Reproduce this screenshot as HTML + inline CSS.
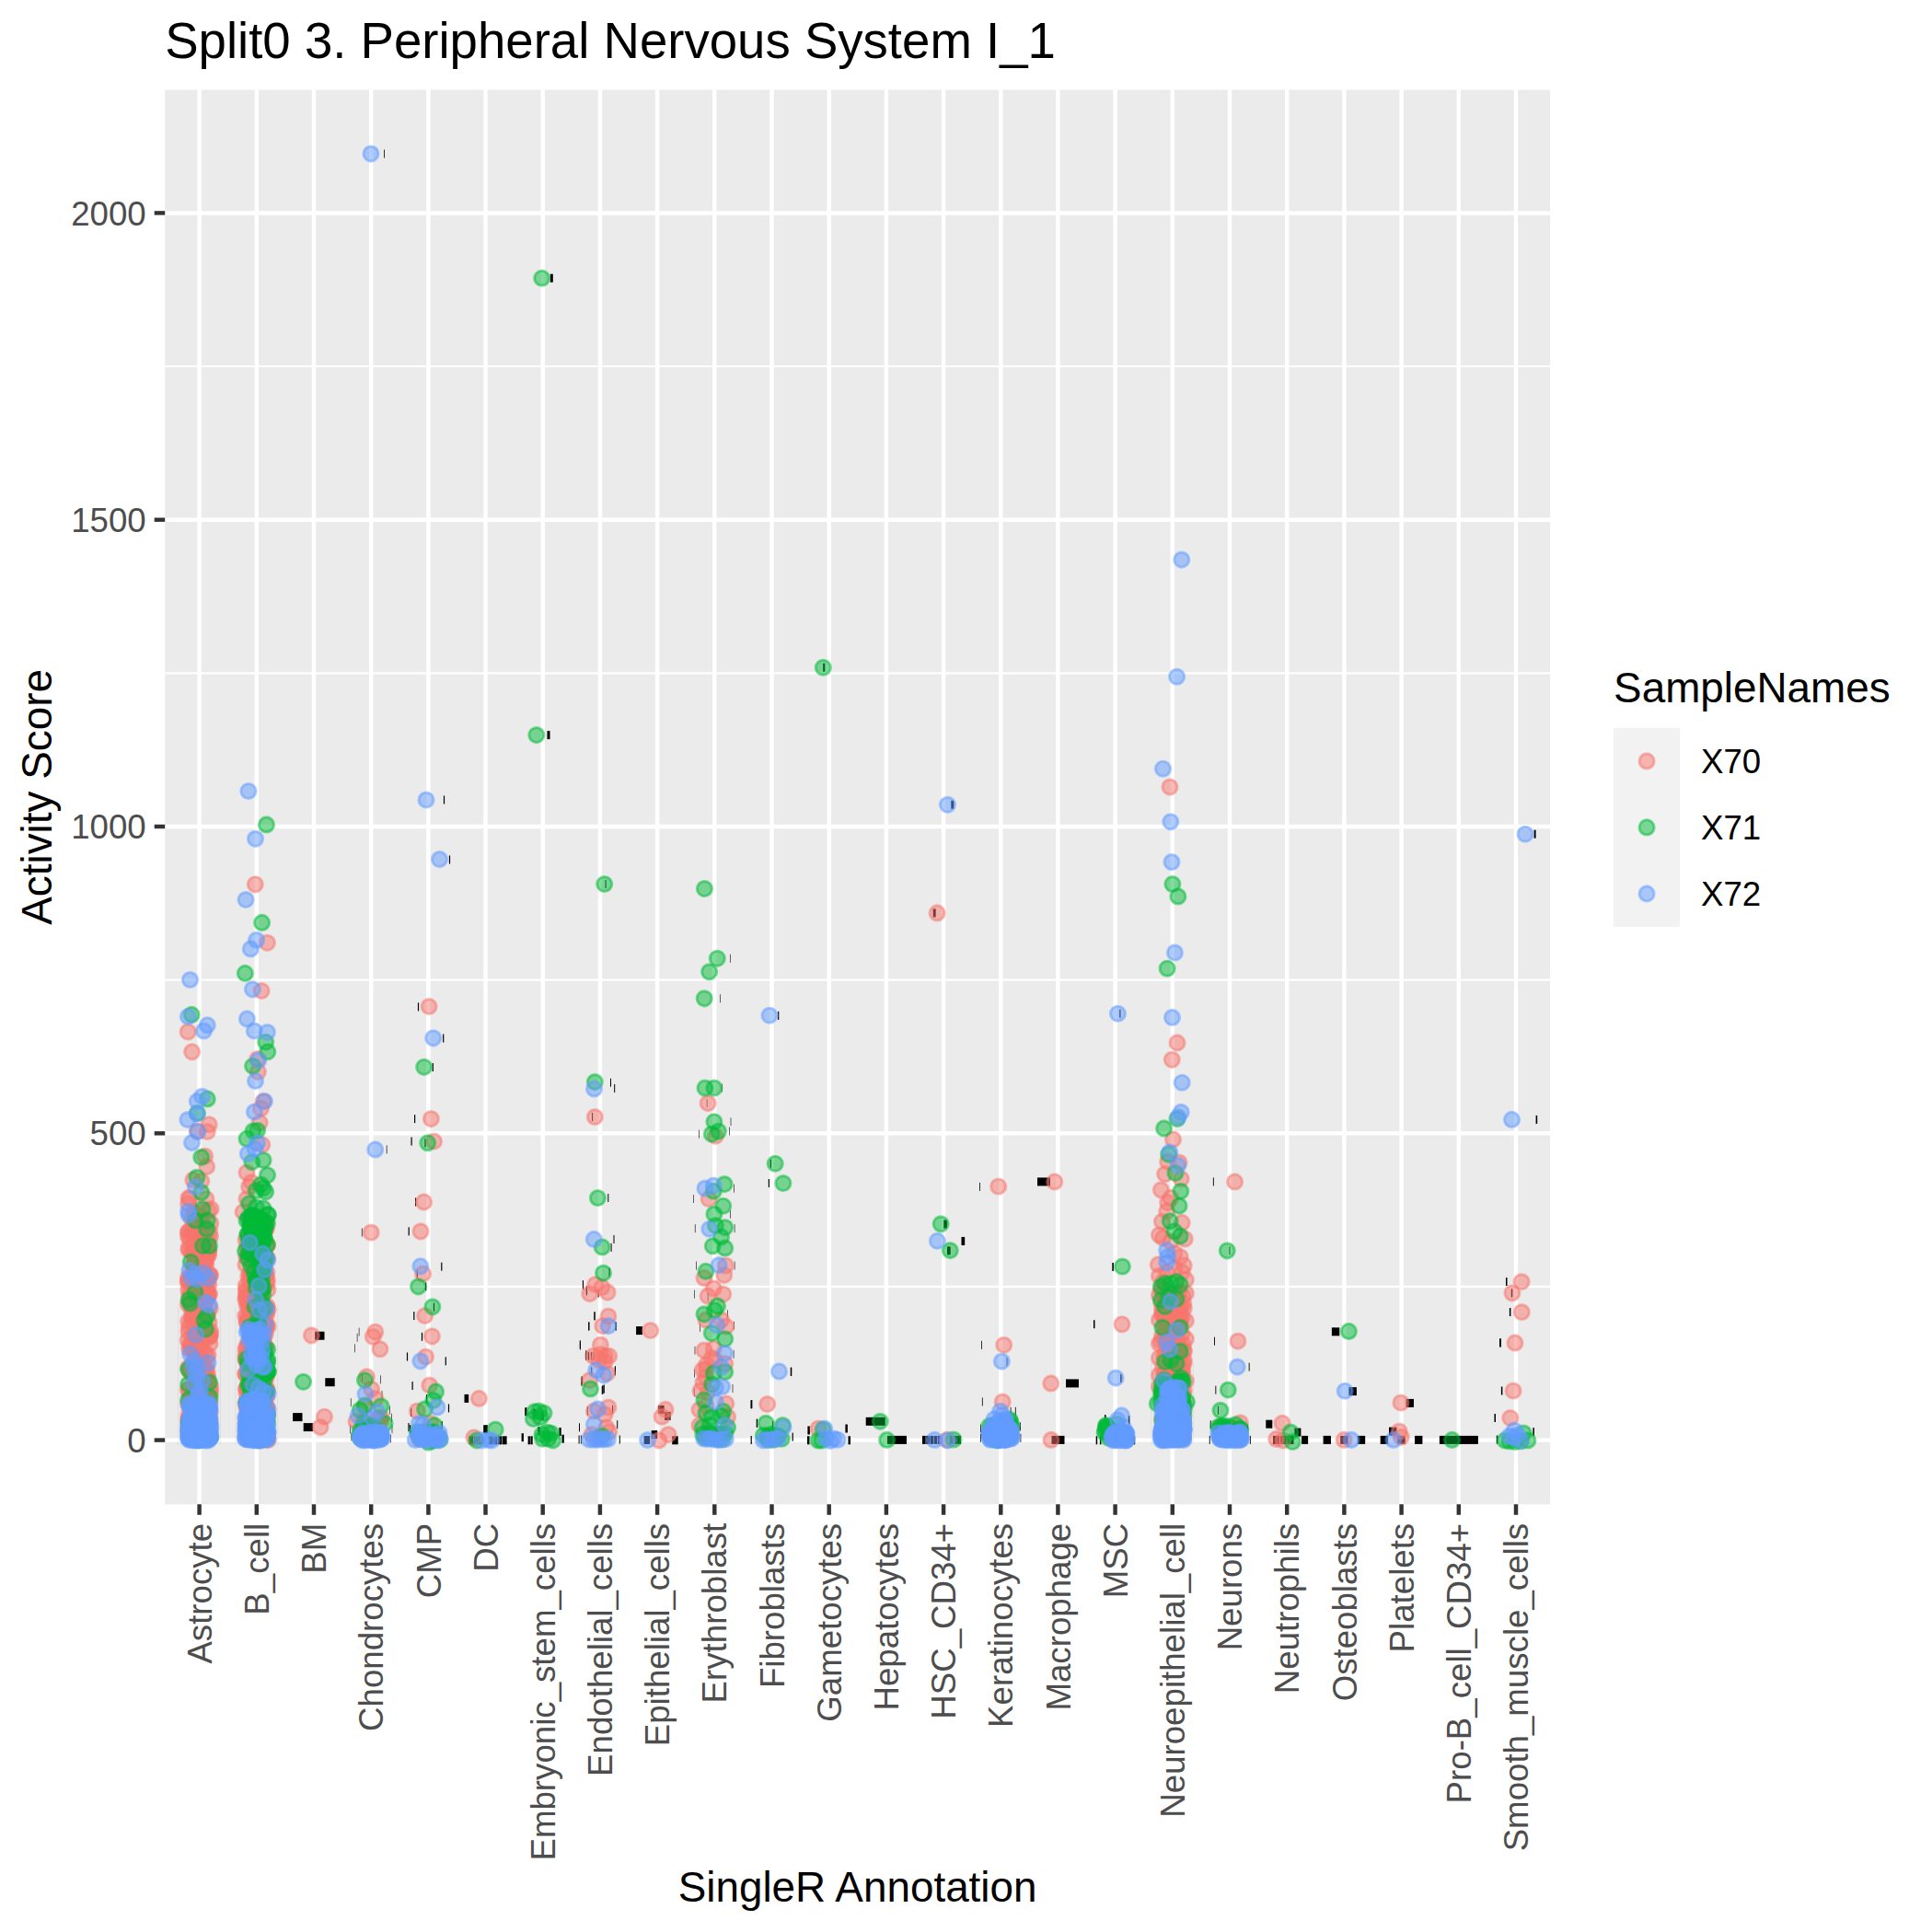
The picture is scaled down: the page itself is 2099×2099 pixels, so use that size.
<!DOCTYPE html><html><head><meta charset="utf-8"><title>Split0 3. Peripheral Nervous System I_1</title>
<style>html,body{margin:0;padding:0;background:#fff}svg{display:block}text{font-family:"Liberation Sans",sans-serif}.r{fill:#F8766D;stroke:#F8766D}.g{fill:#00BA38;stroke:#00BA38}.b{fill:#619CFF;stroke:#619CFF}#pts circle{fill-opacity:.5;stroke-opacity:.5;stroke-width:2.95}</style></head><body>
<svg width="2099" height="2099" viewBox="0 0 2099 2099">
<rect width="2099" height="2099" fill="#fff"/>
<rect x="179.2" y="97.6" width="1504.9" height="1536.7" fill="#EBEBEB"/>
<g stroke="#fff" stroke-width="2.2" fill="none">
<path d="M179.2 1397.9H1684.1"/>
<path d="M179.2 1064.6H1684.1"/>
<path d="M179.2 731.3H1684.1"/>
<path d="M179.2 398.0H1684.1"/>
</g>
<g stroke="#fff" stroke-width="4.45" fill="none">
<path d="M179.2 1564.6H1684.1"/>
<path d="M179.2 1231.3H1684.1"/>
<path d="M179.2 898.0H1684.1"/>
<path d="M179.2 564.7H1684.1"/>
<path d="M179.2 231.4H1684.1"/>
<path d="M216.6 97.6V1634.3"/>
<path d="M278.8 97.6V1634.3"/>
<path d="M341.0 97.6V1634.3"/>
<path d="M403.2 97.6V1634.3"/>
<path d="M465.4 97.6V1634.3"/>
<path d="M527.5 97.6V1634.3"/>
<path d="M589.7 97.6V1634.3"/>
<path d="M651.9 97.6V1634.3"/>
<path d="M714.1 97.6V1634.3"/>
<path d="M776.3 97.6V1634.3"/>
<path d="M838.5 97.6V1634.3"/>
<path d="M900.7 97.6V1634.3"/>
<path d="M962.9 97.6V1634.3"/>
<path d="M1025.1 97.6V1634.3"/>
<path d="M1087.3 97.6V1634.3"/>
<path d="M1149.4 97.6V1634.3"/>
<path d="M1211.6 97.6V1634.3"/>
<path d="M1273.8 97.6V1634.3"/>
<path d="M1336.0 97.6V1634.3"/>
<path d="M1398.2 97.6V1634.3"/>
<path d="M1460.4 97.6V1634.3"/>
<path d="M1522.6 97.6V1634.3"/>
<path d="M1584.8 97.6V1634.3"/>
<path d="M1647.0 97.6V1634.3"/>
</g>
<g id="streaks" fill="#000" fill-opacity=".07">
<rect x="193.3" y="1420" width="0.8" height="150"/>
<rect x="239.1" y="1420" width="0.8" height="150"/>
<rect x="255.5" y="1420" width="0.8" height="150"/>
<rect x="301.3" y="1420" width="0.8" height="150"/>
<rect x="1250.5" y="1480" width="0.8" height="90"/>
<rect x="1296.3" y="1480" width="0.8" height="90"/>
</g>
<g id="marks" fill="#000">
<rect x="417.2" y="162.6" width="0.8" height="9.0"/>
<rect x="597.8" y="297.7" width="3.0" height="9.0"/>
<rect x="894.2" y="720.7" width="2.0" height="9.0"/>
<rect x="1033.3" y="869.8" width="3.0" height="9.0"/>
<rect x="1013.7" y="987.4" width="3.0" height="9.0"/>
<rect x="1666.6" y="901.7" width="2.0" height="9.0"/>
<rect x="481.9" y="864.5" width="1.2" height="9.0"/>
<rect x="487.9" y="929.5" width="1.2" height="9.0"/>
<rect x="453.9" y="1089.4" width="1.2" height="9.0"/>
<rect x="481.1" y="1123.5" width="1.2" height="9.0"/>
<rect x="469.7" y="1155.0" width="1.2" height="9.0"/>
<rect x="342.1" y="1446.7" width="10.4" height="9.0"/>
<rect x="353.3" y="1497.2" width="10.4" height="9.0"/>
<rect x="318.1" y="1535.1" width="10.4" height="9.0"/>
<rect x="329.7" y="1546.1" width="10.4" height="9.0"/>
<rect x="419.8" y="1244.4" width="0.7" height="9.0"/>
<rect x="392.9" y="1334.5" width="0.7" height="9.0"/>
<rect x="389.8" y="1442.6" width="0.6" height="9.0"/>
<rect x="387.8" y="1448.8" width="0.6" height="9.0"/>
<rect x="385.1" y="1460.2" width="0.6" height="9.0"/>
<rect x="413.2" y="1494.3" width="0.6" height="9.0"/>
<rect x="393.4" y="1492.3" width="0.6" height="9.0"/>
<rect x="380.9" y="1519.2" width="0.6" height="9.0"/>
<rect x="414.7" y="1510.9" width="0.6" height="9.0"/>
<rect x="423.0" y="1527.5" width="0.6" height="9.0"/>
<rect x="425.0" y="1535.7" width="0.6" height="9.0"/>
<rect x="380.1" y="1548.2" width="0.6" height="9.0"/>
<rect x="425.7" y="1548.2" width="0.6" height="9.0"/>
<rect x="381.6" y="1556.5" width="0.6" height="9.0"/>
<rect x="424.4" y="1558.5" width="0.6" height="9.0"/>
<rect x="450.0" y="1211.1" width="1.2" height="9.0"/>
<rect x="446.5" y="1235.5" width="1.2" height="9.0"/>
<rect x="461.4" y="1237.2" width="1.2" height="9.0"/>
<rect x="451.0" y="1301.4" width="1.2" height="9.0"/>
<rect x="443.6" y="1333.3" width="1.2" height="9.0"/>
<rect x="479.2" y="1371.6" width="1.2" height="9.0"/>
<rect x="452.7" y="1379.4" width="1.2" height="9.0"/>
<rect x="462.0" y="1393.3" width="1.2" height="9.0"/>
<rect x="470.9" y="1415.7" width="1.2" height="9.0"/>
<rect x="449.2" y="1425.0" width="1.2" height="9.0"/>
<rect x="457.9" y="1447.8" width="1.2" height="9.0"/>
<rect x="441.9" y="1469.5" width="1.2" height="9.0"/>
<rect x="483.7" y="1474.3" width="1.2" height="9.0"/>
<rect x="447.5" y="1501.0" width="1.2" height="9.0"/>
<rect x="463.0" y="1515.0" width="1.2" height="9.0"/>
<rect x="486.9" y="1525.4" width="1.2" height="9.0"/>
<rect x="446.1" y="1530.0" width="1.2" height="9.0"/>
<rect x="443.4" y="1546.1" width="1.2" height="9.0"/>
<rect x="445.0" y="1548.2" width="1.2" height="9.0"/>
<rect x="479.6" y="1544.0" width="1.2" height="9.0"/>
<rect x="446.5" y="1554.4" width="1.2" height="9.0"/>
<rect x="448.6" y="1557.5" width="1.2" height="9.0"/>
<rect x="482.1" y="1554.4" width="1.2" height="9.0"/>
<rect x="504.5" y="1514.9" width="4.7" height="9.0"/>
<rect x="525.2" y="1548.2" width="4.7" height="9.0"/>
<rect x="509.6" y="1560.3" width="4.7" height="9.0"/>
<rect x="514.8" y="1560.3" width="4.7" height="9.0"/>
<rect x="520.0" y="1560.3" width="4.7" height="9.0"/>
<rect x="530.4" y="1560.3" width="4.7" height="9.0"/>
<rect x="535.5" y="1560.3" width="4.7" height="9.0"/>
<rect x="540.7" y="1560.3" width="4.7" height="9.0"/>
<rect x="545.9" y="1560.3" width="4.7" height="9.0"/>
<rect x="570.2" y="1529.2" width="2.3" height="9.0"/>
<rect x="579.5" y="1530.8" width="2.3" height="9.0"/>
<rect x="588.3" y="1533.9" width="2.3" height="9.0"/>
<rect x="566.6" y="1557.2" width="2.3" height="9.0"/>
<rect x="573.6" y="1560.3" width="2.3" height="9.0"/>
<rect x="576.4" y="1560.3" width="2.3" height="9.0"/>
<rect x="610.5" y="1558.7" width="2.3" height="9.0"/>
<rect x="584.4" y="1550.2" width="2.3" height="9.0"/>
<rect x="607.4" y="1551.0" width="2.3" height="9.0"/>
<rect x="632.9" y="1391.0" width="1.0" height="9.0"/>
<rect x="637.1" y="1397.2" width="1.0" height="9.0"/>
<rect x="645.6" y="1425.2" width="1.0" height="9.0"/>
<rect x="639.4" y="1436.1" width="1.0" height="9.0"/>
<rect x="668.6" y="1436.1" width="1.0" height="9.0"/>
<rect x="629.8" y="1456.2" width="1.0" height="9.0"/>
<rect x="636.3" y="1467.1" width="1.0" height="9.0"/>
<rect x="638.7" y="1468.7" width="1.0" height="9.0"/>
<rect x="641.8" y="1468.7" width="1.0" height="9.0"/>
<rect x="667.9" y="1484.2" width="1.0" height="9.0"/>
<rect x="631.7" y="1495.1" width="1.0" height="9.0"/>
<rect x="654.2" y="1505.2" width="1.0" height="9.0"/>
<rect x="655.7" y="1504.4" width="1.0" height="9.0"/>
<rect x="637.9" y="1528.5" width="1.0" height="9.0"/>
<rect x="665.1" y="1526.9" width="1.0" height="9.0"/>
<rect x="670.2" y="1543.2" width="1.0" height="9.0"/>
<rect x="629.0" y="1546.3" width="1.0" height="9.0"/>
<rect x="628.6" y="1559.5" width="1.0" height="9.0"/>
<rect x="630.9" y="1559.5" width="1.0" height="9.0"/>
<rect x="672.8" y="1559.5" width="1.0" height="9.0"/>
<rect x="691.3" y="1441.0" width="6.5" height="9.0"/>
<rect x="715.1" y="1526.9" width="6.5" height="9.0"/>
<rect x="722.1" y="1533.9" width="6.5" height="9.0"/>
<rect x="699.6" y="1560.0" width="6.5" height="9.0"/>
<rect x="707.7" y="1554.1" width="6.5" height="9.0"/>
<rect x="730.2" y="1560.3" width="6.5" height="9.0"/>
<rect x="594.5" y="794.1" width="3.0" height="9.0"/>
<rect x="657.6" y="956.0" width="1.0" height="9.0"/>
<rect x="793.2" y="1036.8" width="0.6" height="9.0"/>
<rect x="782.1" y="1080.3" width="0.6" height="9.0"/>
<rect x="845.1" y="1098.9" width="1.2" height="9.0"/>
<rect x="663.0" y="1171.7" width="1.0" height="9.0"/>
<rect x="667.2" y="1177.9" width="1.0" height="9.0"/>
<rect x="643.1" y="1209.0" width="1.0" height="9.0"/>
<rect x="660.3" y="1297.0" width="1.0" height="9.0"/>
<rect x="666.5" y="1341.9" width="1.0" height="9.0"/>
<rect x="663.6" y="1350.8" width="1.0" height="9.0"/>
<rect x="661.6" y="1377.7" width="1.0" height="9.0"/>
<rect x="633.0" y="1391.8" width="1.0" height="9.0"/>
<rect x="636.7" y="1398.4" width="1.0" height="9.0"/>
<rect x="649.6" y="1400.5" width="1.0" height="9.0"/>
<rect x="645.4" y="1425.4" width="1.0" height="9.0"/>
<rect x="639.2" y="1436.7" width="1.0" height="9.0"/>
<rect x="668.6" y="1436.7" width="1.0" height="9.0"/>
<rect x="629.9" y="1457.4" width="1.0" height="9.0"/>
<rect x="636.1" y="1468.8" width="1.0" height="9.0"/>
<rect x="639.2" y="1468.8" width="1.0" height="9.0"/>
<rect x="644.4" y="1468.8" width="1.0" height="9.0"/>
<rect x="642.3" y="1485.4" width="1.0" height="9.0"/>
<rect x="667.8" y="1485.4" width="1.0" height="9.0"/>
<rect x="631.5" y="1496.8" width="1.0" height="9.0"/>
<rect x="653.7" y="1506.1" width="1.0" height="9.0"/>
<rect x="655.4" y="1505.1" width="1.0" height="9.0"/>
<rect x="691.3" y="1441.1" width="6.5" height="9.0"/>
<rect x="783.9" y="1177.5" width="0.6" height="9.0"/>
<rect x="767.8" y="1194.1" width="0.6" height="9.0"/>
<rect x="793.7" y="1214.2" width="0.6" height="9.0"/>
<rect x="759.1" y="1227.6" width="0.6" height="9.0"/>
<rect x="792.0" y="1224.5" width="0.6" height="9.0"/>
<rect x="753.3" y="1298.0" width="0.6" height="9.0"/>
<rect x="797.0" y="1286.6" width="0.6" height="9.0"/>
<rect x="793.2" y="1314.6" width="0.6" height="9.0"/>
<rect x="754.9" y="1330.1" width="0.6" height="9.0"/>
<rect x="797.8" y="1330.1" width="0.6" height="9.0"/>
<rect x="756.4" y="1370.5" width="0.6" height="9.0"/>
<rect x="797.8" y="1370.5" width="0.6" height="9.0"/>
<rect x="754.3" y="1401.5" width="0.6" height="9.0"/>
<rect x="768.8" y="1404.7" width="0.6" height="9.0"/>
<rect x="790.1" y="1423.3" width="0.6" height="9.0"/>
<rect x="760.1" y="1437.8" width="0.6" height="9.0"/>
<rect x="797.4" y="1435.7" width="0.6" height="9.0"/>
<rect x="754.7" y="1462.6" width="0.6" height="9.0"/>
<rect x="754.3" y="1487.5" width="0.6" height="9.0"/>
<rect x="795.7" y="1504.0" width="0.6" height="9.0"/>
<rect x="753.9" y="1508.2" width="0.6" height="9.0"/>
<rect x="796.8" y="1466.8" width="0.6" height="9.0"/>
<rect x="836.8" y="1259.7" width="1.2" height="9.0"/>
<rect x="834.8" y="1281.0" width="1.2" height="9.0"/>
<rect x="859.0" y="1485.8" width="1.2" height="9.0"/>
<rect x="816.1" y="1521.0" width="1.2" height="9.0"/>
<rect x="815.9" y="1521.3" width="1.2" height="9.0"/>
<rect x="858.9" y="1485.6" width="1.2" height="9.0"/>
<rect x="815.6" y="1560.0" width="1.2" height="9.0"/>
<rect x="860.6" y="1556.6" width="1.2" height="9.0"/>
<rect x="821.9" y="1541.8" width="1.2" height="9.0"/>
<rect x="839.0" y="1544.1" width="1.2" height="9.0"/>
<rect x="815.5" y="1521.2" width="1.2" height="9.0"/>
<rect x="821.8" y="1541.7" width="1.2" height="9.0"/>
<rect x="858.8" y="1486.0" width="1.2" height="9.0"/>
<rect x="877.4" y="1549.5" width="2.5" height="9.0"/>
<rect x="918.4" y="1547.5" width="2.5" height="9.0"/>
<rect x="921.5" y="1560.3" width="2.5" height="9.0"/>
<rect x="877.0" y="1560.3" width="2.5" height="9.0"/>
<rect x="940.7" y="1539.8" width="21.0" height="9.0"/>
<rect x="964.0" y="1559.9" width="21.0" height="9.0"/>
<rect x="1025.3" y="1325.5" width="3.7" height="9.0"/>
<rect x="1044.5" y="1343.9" width="3.7" height="9.0"/>
<rect x="1029.0" y="1354.3" width="3.7" height="9.0"/>
<rect x="1002.0" y="1559.9" width="3.7" height="9.0"/>
<rect x="1006.2" y="1559.9" width="3.7" height="9.0"/>
<rect x="1010.5" y="1559.9" width="3.7" height="9.0"/>
<rect x="1014.7" y="1559.9" width="3.7" height="9.0"/>
<rect x="1019.0" y="1559.9" width="3.7" height="9.0"/>
<rect x="1031.7" y="1559.9" width="3.7" height="9.0"/>
<rect x="1036.0" y="1559.9" width="3.7" height="9.0"/>
<rect x="1040.2" y="1559.9" width="3.7" height="9.0"/>
<rect x="1064.0" y="1284.9" width="0.8" height="9.0"/>
<rect x="1066.1" y="1456.8" width="0.8" height="9.0"/>
<rect x="1093.6" y="1475.0" width="0.8" height="9.0"/>
<rect x="1066.9" y="1518.5" width="0.8" height="9.0"/>
<rect x="1097.7" y="1528.8" width="0.8" height="9.0"/>
<rect x="1102.9" y="1528.8" width="0.8" height="9.0"/>
<rect x="1065.2" y="1557.8" width="0.8" height="9.0"/>
<rect x="1108.5" y="1557.8" width="0.8" height="9.0"/>
<rect x="1065.0" y="1547.5" width="0.8" height="9.0"/>
<rect x="1108.1" y="1545.4" width="0.8" height="9.0"/>
<rect x="1127.0" y="1279.4" width="14.0" height="9.0"/>
<rect x="1158.0" y="1498.4" width="14.0" height="9.0"/>
<rect x="1142.5" y="1559.9" width="14.0" height="9.0"/>
<rect x="1216.3" y="1096.7" width="1.2" height="9.0"/>
<rect x="1208.3" y="1371.9" width="1.6" height="9.0"/>
<rect x="1188.0" y="1434.2" width="1.5" height="9.0"/>
<rect x="1217.2" y="1493.0" width="1.5" height="9.0"/>
<rect x="1200.0" y="1537.1" width="1.5" height="9.0"/>
<rect x="1225.9" y="1538.2" width="1.5" height="9.0"/>
<rect x="1190.7" y="1560.3" width="1.5" height="9.0"/>
<rect x="1194.9" y="1560.3" width="1.5" height="9.0"/>
<rect x="1231.7" y="1560.3" width="1.5" height="9.0"/>
<rect x="1317.9" y="1279.4" width="0.9" height="9.0"/>
<rect x="1335.5" y="1354.3" width="0.9" height="9.0"/>
<rect x="1319.0" y="1452.6" width="0.9" height="9.0"/>
<rect x="1356.7" y="1480.6" width="0.9" height="9.0"/>
<rect x="1320.4" y="1505.6" width="0.9" height="9.0"/>
<rect x="1323.1" y="1527.8" width="0.9" height="9.0"/>
<rect x="1314.8" y="1543.3" width="0.9" height="9.0"/>
<rect x="1313.8" y="1559.9" width="0.9" height="9.0"/>
<rect x="1357.9" y="1559.9" width="0.9" height="9.0"/>
<rect x="1355.2" y="1547.5" width="0.9" height="9.0"/>
<rect x="1375.3" y="1542.7" width="7.0" height="9.0"/>
<rect x="1406.4" y="1551.6" width="7.0" height="9.0"/>
<rect x="1383.0" y="1559.9" width="7.0" height="9.0"/>
<rect x="1390.8" y="1559.9" width="7.0" height="9.0"/>
<rect x="1398.5" y="1559.9" width="7.0" height="9.0"/>
<rect x="1414.1" y="1559.9" width="7.0" height="9.0"/>
<rect x="1446.9" y="1442.3" width="8.4" height="9.0"/>
<rect x="1465.5" y="1507.1" width="8.4" height="9.0"/>
<rect x="1437.6" y="1559.9" width="8.4" height="9.0"/>
<rect x="1456.2" y="1559.9" width="8.4" height="9.0"/>
<rect x="1474.8" y="1559.9" width="8.4" height="9.0"/>
<rect x="1527.6" y="1519.9" width="8.4" height="9.0"/>
<rect x="1509.0" y="1550.6" width="8.4" height="9.0"/>
<rect x="1499.7" y="1559.9" width="8.4" height="9.0"/>
<rect x="1518.3" y="1559.9" width="8.4" height="9.0"/>
<rect x="1537.0" y="1559.9" width="8.4" height="9.0"/>
<rect x="1563.9" y="1559.9" width="42.0" height="9.0"/>
<rect x="1629.4" y="1454.4" width="1.5" height="9.0"/>
<rect x="1630.9" y="1506.5" width="1.5" height="9.0"/>
<rect x="1623.5" y="1536.0" width="1.5" height="9.0"/>
<rect x="1625.8" y="1559.6" width="1.5" height="9.0"/>
<rect x="1665.4" y="1551.1" width="1.5" height="9.0"/>
<rect x="1668.6" y="1211.9" width="1.6" height="9.0"/>
<rect x="1636.0" y="1388.0" width="1.5" height="9.0"/>
<rect x="1641.8" y="1400.3" width="1.5" height="9.0"/>
<rect x="1639.9" y="1421.0" width="1.5" height="9.0"/>
<rect x="1629.1" y="1454.3" width="1.5" height="9.0"/>
</g>
<g id="pts">
<circle class="r" cx="1018.1" cy="991.9" r="8.1"/>
<circle class="r" cx="204.2" cy="1121.0" r="8.1"/>
<circle class="r" cx="208.6" cy="1142.7" r="8.1"/>
<circle class="r" cx="277.3" cy="960.7" r="8.1"/>
<circle class="r" cx="290.4" cy="1024.3" r="8.1"/>
<circle class="r" cx="284.1" cy="1076.5" r="8.1"/>
<circle class="r" cx="279.8" cy="1150.6" r="8.1"/>
<circle class="r" cx="280.4" cy="1164.5" r="8.1"/>
<circle class="r" cx="466.1" cy="1093.5" r="8.1"/>
<circle class="r" cx="227.2" cy="1221.7" r="8.1"/>
<circle class="r" cx="225.3" cy="1229.5" r="8.1"/>
<circle class="r" cx="214.3" cy="1228.8" r="8.1"/>
<circle class="r" cx="222.7" cy="1256.0" r="8.1"/>
<circle class="r" cx="224.6" cy="1267.6" r="8.1"/>
<circle class="r" cx="209.8" cy="1281.9" r="8.1"/>
<circle class="r" cx="218.8" cy="1283.2" r="8.1"/>
<circle class="r" cx="224.0" cy="1302.6" r="8.1"/>
<circle class="r" cx="204.6" cy="1308.0" r="8.1"/>
<circle class="r" cx="229.2" cy="1313.6" r="8.1"/>
<circle class="r" cx="286.1" cy="1196.5" r="8.1"/>
<circle class="r" cx="283.5" cy="1204.2" r="8.1"/>
<circle class="r" cx="282.2" cy="1219.8" r="8.1"/>
<circle class="r" cx="284.8" cy="1243.7" r="8.1"/>
<circle class="r" cx="268.0" cy="1274.1" r="8.1"/>
<circle class="r" cx="273.2" cy="1284.5" r="8.1"/>
<circle class="r" cx="270.6" cy="1289.6" r="8.1"/>
<circle class="r" cx="268.0" cy="1302.6" r="8.1"/>
<circle class="r" cx="264.1" cy="1316.8" r="8.1"/>
<circle class="r" cx="338.4" cy="1450.8" r="8.1"/>
<circle class="r" cx="352.5" cy="1539.2" r="8.1"/>
<circle class="r" cx="348.1" cy="1550.6" r="8.1"/>
<circle class="r" cx="403.2" cy="1339.0" r="8.1"/>
<circle class="r" cx="407.7" cy="1447.1" r="8.1"/>
<circle class="r" cx="405.3" cy="1452.3" r="8.1"/>
<circle class="r" cx="412.9" cy="1465.7" r="8.1"/>
<circle class="r" cx="398.4" cy="1495.7" r="8.1"/>
<circle class="r" cx="403.6" cy="1509.2" r="8.1"/>
<circle class="r" cx="396.4" cy="1528.2" r="8.1"/>
<circle class="r" cx="407.7" cy="1519.5" r="8.1"/>
<circle class="r" cx="414.0" cy="1540.2" r="8.1"/>
<circle class="r" cx="387.0" cy="1544.4" r="8.1"/>
<circle class="r" cx="468.4" cy="1215.6" r="8.1"/>
<circle class="r" cx="471.5" cy="1240.0" r="8.1"/>
<circle class="r" cx="460.5" cy="1305.9" r="8.1"/>
<circle class="r" cx="457.0" cy="1337.8" r="8.1"/>
<circle class="r" cx="459.5" cy="1383.9" r="8.1"/>
<circle class="r" cx="461.6" cy="1429.5" r="8.1"/>
<circle class="r" cx="469.4" cy="1451.8" r="8.1"/>
<circle class="r" cx="462.6" cy="1474.0" r="8.1"/>
<circle class="r" cx="466.7" cy="1505.1" r="8.1"/>
<circle class="r" cx="453.3" cy="1533.0" r="8.1"/>
<circle class="r" cx="467.8" cy="1546.5" r="8.1"/>
<circle class="r" cx="455.4" cy="1563.0" r="8.1"/>
<circle class="r" cx="469.9" cy="1563.0" r="8.1"/>
<circle class="r" cx="520.4" cy="1519.4" r="8.1"/>
<circle class="r" cx="514.9" cy="1561.7" r="8.1"/>
<circle class="r" cx="646.9" cy="1395.5" r="8.1"/>
<circle class="r" cx="653.9" cy="1398.6" r="8.1"/>
<circle class="r" cx="660.1" cy="1404.1" r="8.1"/>
<circle class="r" cx="640.7" cy="1405.6" r="8.1"/>
<circle class="r" cx="660.9" cy="1430.0" r="8.1"/>
<circle class="r" cx="654.7" cy="1440.6" r="8.1"/>
<circle class="r" cx="652.4" cy="1461.1" r="8.1"/>
<circle class="r" cx="644.6" cy="1473.2" r="8.1"/>
<circle class="r" cx="652.4" cy="1471.6" r="8.1"/>
<circle class="r" cx="661.7" cy="1473.2" r="8.1"/>
<circle class="r" cx="650.8" cy="1477.8" r="8.1"/>
<circle class="r" cx="657.0" cy="1479.4" r="8.1"/>
<circle class="r" cx="640.7" cy="1499.6" r="8.1"/>
<circle class="r" cx="660.9" cy="1529.1" r="8.1"/>
<circle class="r" cx="645.4" cy="1533.0" r="8.1"/>
<circle class="r" cx="657.0" cy="1536.8" r="8.1"/>
<circle class="r" cx="658.6" cy="1550.8" r="8.1"/>
<circle class="r" cx="661.7" cy="1555.5" r="8.1"/>
<circle class="r" cx="643.0" cy="1558.6" r="8.1"/>
<circle class="r" cx="650.8" cy="1561.7" r="8.1"/>
<circle class="r" cx="706.7" cy="1445.5" r="8.1"/>
<circle class="r" cx="723.0" cy="1531.4" r="8.1"/>
<circle class="r" cx="719.1" cy="1539.2" r="8.1"/>
<circle class="r" cx="716.0" cy="1564.8" r="8.1"/>
<circle class="r" cx="726.1" cy="1558.6" r="8.1"/>
<circle class="r" cx="646.3" cy="1213.5" r="8.1"/>
<circle class="r" cx="657.3" cy="1473.3" r="8.1"/>
<circle class="r" cx="659.4" cy="1492.0" r="8.1"/>
<circle class="r" cx="769.1" cy="1198.6" r="8.1"/>
<circle class="r" cx="777.4" cy="1234.2" r="8.1"/>
<circle class="r" cx="770.1" cy="1302.5" r="8.1"/>
<circle class="r" cx="788.4" cy="1375.0" r="8.1"/>
<circle class="r" cx="786.7" cy="1385.3" r="8.1"/>
<circle class="r" cx="765.0" cy="1388.4" r="8.1"/>
<circle class="r" cx="775.3" cy="1399.8" r="8.1"/>
<circle class="r" cx="785.7" cy="1406.0" r="8.1"/>
<circle class="r" cx="769.1" cy="1408.1" r="8.1"/>
<circle class="r" cx="767.0" cy="1434.0" r="8.1"/>
<circle class="r" cx="783.6" cy="1434.0" r="8.1"/>
<circle class="r" cx="788.8" cy="1441.2" r="8.1"/>
<circle class="r" cx="765.0" cy="1467.1" r="8.1"/>
<circle class="r" cx="775.3" cy="1465.1" r="8.1"/>
<circle class="r" cx="773.3" cy="1475.4" r="8.1"/>
<circle class="r" cx="767.0" cy="1487.8" r="8.1"/>
<circle class="r" cx="787.7" cy="1481.6" r="8.1"/>
<circle class="r" cx="763.9" cy="1502.3" r="8.1"/>
<circle class="r" cx="767.0" cy="1496.1" r="8.1"/>
<circle class="r" cx="769.1" cy="1512.7" r="8.1"/>
<circle class="r" cx="788.8" cy="1525.1" r="8.1"/>
<circle class="r" cx="767.0" cy="1527.2" r="8.1"/>
<circle class="r" cx="833.7" cy="1525.5" r="8.1"/>
<circle class="r" cx="763.3" cy="1488.2" r="8.1"/>
<circle class="r" cx="759.9" cy="1548.6" r="8.1"/>
<circle class="r" cx="790.6" cy="1539.5" r="8.1"/>
<circle class="r" cx="759.9" cy="1531.5" r="8.1"/>
<circle class="r" cx="761.0" cy="1511.0" r="8.1"/>
<circle class="r" cx="767.8" cy="1482.5" r="8.1"/>
<circle class="r" cx="776.9" cy="1477.9" r="8.1"/>
<circle class="r" cx="889.0" cy="1552.0" r="8.1"/>
<circle class="r" cx="1028.8" cy="1564.4" r="8.1"/>
<circle class="r" cx="1084.7" cy="1289.0" r="8.1"/>
<circle class="r" cx="1090.7" cy="1461.3" r="8.1"/>
<circle class="r" cx="1089.2" cy="1523.0" r="8.1"/>
<circle class="r" cx="1145.8" cy="1283.9" r="8.1"/>
<circle class="r" cx="1141.8" cy="1502.9" r="8.1"/>
<circle class="r" cx="1142.0" cy="1564.4" r="8.1"/>
<circle class="r" cx="1271.0" cy="855.1" r="8.1"/>
<circle class="r" cx="1279.0" cy="1132.9" r="8.1"/>
<circle class="r" cx="1273.3" cy="1151.3" r="8.1"/>
<circle class="r" cx="1219.0" cy="1438.7" r="8.1"/>
<circle class="r" cx="1341.6" cy="1283.9" r="8.1"/>
<circle class="r" cx="1344.9" cy="1457.1" r="8.1"/>
<circle class="r" cx="1347.4" cy="1545.8" r="8.1"/>
<circle class="r" cx="1325.6" cy="1549.9" r="8.1"/>
<circle class="r" cx="1338.1" cy="1552.0" r="8.1"/>
<circle class="r" cx="1393.1" cy="1546.2" r="8.1"/>
<circle class="r" cx="1386.7" cy="1563.4" r="8.1"/>
<circle class="r" cx="1394.0" cy="1564.8" r="8.1"/>
<circle class="r" cx="1460.2" cy="1564.4" r="8.1"/>
<circle class="r" cx="1521.9" cy="1524.0" r="8.1"/>
<circle class="r" cx="1520.2" cy="1555.1" r="8.1"/>
<circle class="r" cx="1522.3" cy="1561.3" r="8.1"/>
<circle class="r" cx="1646.0" cy="1458.9" r="8.1"/>
<circle class="r" cx="1644.1" cy="1511.0" r="8.1"/>
<circle class="r" cx="1640.8" cy="1540.5" r="8.1"/>
<circle class="r" cx="1653.1" cy="1392.5" r="8.1"/>
<circle class="r" cx="1642.9" cy="1404.8" r="8.1"/>
<circle class="r" cx="1653.3" cy="1425.5" r="8.1"/>
<circle class="r" cx="1274.5" cy="1237.9" r="8.1"/>
<circle class="r" cx="1281.1" cy="1263.1" r="8.1"/>
<circle class="r" cx="1268.7" cy="1262.1" r="8.1"/>
<circle class="r" cx="1265.6" cy="1275.6" r="8.1"/>
<circle class="r" cx="1283.2" cy="1280.7" r="8.1"/>
<circle class="r" cx="1261.4" cy="1292.8" r="8.1"/>
<circle class="r" cx="1268.7" cy="1306.6" r="8.1"/>
<circle class="r" cx="1271.8" cy="1301.4" r="8.1"/>
<circle class="r" cx="1267.7" cy="1315.9" r="8.1"/>
<circle class="r" cx="1262.5" cy="1327.3" r="8.1"/>
<circle class="r" cx="1284.2" cy="1328.4" r="8.1"/>
<circle class="r" cx="1259.4" cy="1341.8" r="8.1"/>
<circle class="r" cx="1287.3" cy="1346.0" r="8.1"/>
<circle class="r" cx="1263.5" cy="1344.9" r="8.1"/>
<circle class="r" cx="1271.8" cy="1349.1" r="8.1"/>
<circle class="r" cx="1258.3" cy="1373.9" r="8.1"/>
<circle class="r" cx="1286.3" cy="1374.9" r="8.1"/>
<circle class="r" cx="1275.9" cy="1361.5" r="8.1"/>
<circle class="r" cx="1282.2" cy="1365.6" r="8.1"/>
<circle class="r" cx="1284.2" cy="1382.2" r="8.1"/>
<circle class="r" cx="1259.4" cy="1386.3" r="8.1"/>
<circle class="r" cx="1267.7" cy="1382.2" r="8.1"/>
<circle class="r" cx="1275.9" cy="1378.1" r="8.1"/>
<circle class="r" cx="1288.4" cy="1390.5" r="8.1"/>
<circle class="r" cx="1263.5" cy="1392.5" r="8.1"/>
<circle class="r" cx="1288.4" cy="1405.0" r="8.1"/>
<circle class="r" cx="1259.4" cy="1407.0" r="8.1"/>
<circle class="r" cx="1286.3" cy="1421.5" r="8.1"/>
<circle class="r" cx="1263.5" cy="1427.7" r="8.1"/>
<circle class="r" cx="1275.9" cy="1429.8" r="8.1"/>
<circle class="r" cx="1259.4" cy="1434.0" r="8.1"/>
<circle class="r" cx="1288.4" cy="1435.0" r="8.1"/>
<circle class="r" cx="1269.7" cy="1436.0" r="8.1"/>
<circle class="r" cx="1282.2" cy="1438.1" r="8.1"/>
<circle class="r" cx="1265.6" cy="1440.2" r="8.1"/>
<circle class="r" cx="1288.4" cy="1454.7" r="8.1"/>
<circle class="r" cx="1259.4" cy="1459.8" r="8.1"/>
<circle class="r" cx="1275.9" cy="1460.9" r="8.1"/>
<circle class="r" cx="1286.3" cy="1467.1" r="8.1"/>
<circle class="r" cx="1286.3" cy="1477.4" r="8.1"/>
<circle class="r" cx="1259.4" cy="1475.4" r="8.1"/>
<circle class="r" cx="1263.5" cy="1485.7" r="8.1"/>
<circle class="r" cx="1284.2" cy="1489.9" r="8.1"/>
<circle class="r" cx="1275.9" cy="1491.9" r="8.1"/>
<circle class="r" cx="1259.4" cy="1494.0" r="8.1"/>
<circle class="r" cx="1288.4" cy="1500.2" r="8.1"/>
<circle class="r" cx="1271.8" cy="1504.3" r="8.1"/>
<circle class="r" cx="1259.4" cy="1506.4" r="8.1"/>
<circle class="r" cx="1286.3" cy="1510.6" r="8.1"/>
<circle class="r" cx="225.2" cy="1365.0" r="8.1"/>
<circle class="r" cx="210.5" cy="1510.4" r="8.1"/>
<circle class="r" cx="215.3" cy="1448.4" r="8.1"/>
<circle class="r" cx="223.8" cy="1484.5" r="8.1"/>
<circle class="r" cx="204.9" cy="1355.7" r="8.1"/>
<circle class="r" cx="214.9" cy="1527.1" r="8.1"/>
<circle class="r" cx="204.3" cy="1510.1" r="8.1"/>
<circle class="r" cx="222.1" cy="1436.9" r="8.1"/>
<circle class="r" cx="227.6" cy="1386.8" r="8.1"/>
<circle class="r" cx="205.0" cy="1542.2" r="8.1"/>
<circle class="r" cx="217.6" cy="1339.9" r="8.1"/>
<circle class="r" cx="213.7" cy="1550.9" r="8.1"/>
<circle class="r" cx="214.7" cy="1384.0" r="8.1"/>
<circle class="r" cx="209.7" cy="1340.7" r="8.1"/>
<circle class="r" cx="216.5" cy="1435.2" r="8.1"/>
<circle class="r" cx="209.9" cy="1387.8" r="8.1"/>
<circle class="r" cx="215.6" cy="1384.5" r="8.1"/>
<circle class="r" cx="204.7" cy="1400.9" r="8.1"/>
<circle class="r" cx="218.0" cy="1527.5" r="8.1"/>
<circle class="r" cx="208.8" cy="1482.4" r="8.1"/>
<circle class="r" cx="225.5" cy="1563.3" r="8.1"/>
<circle class="r" cx="212.5" cy="1361.9" r="8.1"/>
<circle class="r" cx="221.8" cy="1500.7" r="8.1"/>
<circle class="r" cx="214.7" cy="1550.3" r="8.1"/>
<circle class="r" cx="220.8" cy="1525.7" r="8.1"/>
<circle class="r" cx="218.8" cy="1404.1" r="8.1"/>
<circle class="r" cx="225.2" cy="1537.9" r="8.1"/>
<circle class="r" cx="218.8" cy="1450.7" r="8.1"/>
<circle class="r" cx="210.2" cy="1342.0" r="8.1"/>
<circle class="r" cx="214.5" cy="1518.2" r="8.1"/>
<circle class="r" cx="217.8" cy="1374.0" r="8.1"/>
<circle class="r" cx="220.9" cy="1496.4" r="8.1"/>
<circle class="r" cx="215.1" cy="1420.6" r="8.1"/>
<circle class="r" cx="223.5" cy="1451.4" r="8.1"/>
<circle class="r" cx="214.0" cy="1454.3" r="8.1"/>
<circle class="r" cx="204.9" cy="1447.1" r="8.1"/>
<circle class="r" cx="221.6" cy="1344.0" r="8.1"/>
<circle class="r" cx="218.9" cy="1561.1" r="8.1"/>
<circle class="r" cx="208.4" cy="1424.9" r="8.1"/>
<circle class="r" cx="228.6" cy="1450.0" r="8.1"/>
<circle class="r" cx="217.6" cy="1512.0" r="8.1"/>
<circle class="r" cx="210.0" cy="1532.7" r="8.1"/>
<circle class="r" cx="227.8" cy="1452.7" r="8.1"/>
<circle class="r" cx="215.6" cy="1467.5" r="8.1"/>
<circle class="r" cx="217.8" cy="1396.2" r="8.1"/>
<circle class="r" cx="204.3" cy="1555.1" r="8.1"/>
<circle class="r" cx="224.5" cy="1515.0" r="8.1"/>
<circle class="r" cx="222.6" cy="1538.7" r="8.1"/>
<circle class="r" cx="217.1" cy="1520.9" r="8.1"/>
<circle class="r" cx="214.8" cy="1463.7" r="8.1"/>
<circle class="r" cx="225.8" cy="1347.0" r="8.1"/>
<circle class="r" cx="209.2" cy="1465.7" r="8.1"/>
<circle class="r" cx="216.2" cy="1450.6" r="8.1"/>
<circle class="r" cx="212.8" cy="1416.4" r="8.1"/>
<circle class="r" cx="219.7" cy="1458.4" r="8.1"/>
<circle class="r" cx="215.6" cy="1475.5" r="8.1"/>
<circle class="r" cx="209.9" cy="1340.5" r="8.1"/>
<circle class="r" cx="218.7" cy="1374.9" r="8.1"/>
<circle class="r" cx="224.0" cy="1532.9" r="8.1"/>
<circle class="r" cx="224.4" cy="1518.1" r="8.1"/>
<circle class="r" cx="225.1" cy="1393.0" r="8.1"/>
<circle class="r" cx="206.3" cy="1489.5" r="8.1"/>
<circle class="r" cx="204.6" cy="1337.9" r="8.1"/>
<circle class="r" cx="210.4" cy="1508.5" r="8.1"/>
<circle class="r" cx="219.7" cy="1359.3" r="8.1"/>
<circle class="r" cx="205.9" cy="1413.6" r="8.1"/>
<circle class="r" cx="217.3" cy="1370.9" r="8.1"/>
<circle class="r" cx="211.0" cy="1372.8" r="8.1"/>
<circle class="r" cx="215.5" cy="1498.4" r="8.1"/>
<circle class="r" cx="215.9" cy="1408.4" r="8.1"/>
<circle class="r" cx="213.8" cy="1339.5" r="8.1"/>
<circle class="r" cx="208.9" cy="1431.2" r="8.1"/>
<circle class="r" cx="226.5" cy="1359.1" r="8.1"/>
<circle class="r" cx="209.4" cy="1451.8" r="8.1"/>
<circle class="r" cx="224.5" cy="1473.9" r="8.1"/>
<circle class="r" cx="204.6" cy="1338.8" r="8.1"/>
<circle class="r" cx="222.0" cy="1367.8" r="8.1"/>
<circle class="r" cx="221.7" cy="1371.0" r="8.1"/>
<circle class="r" cx="217.7" cy="1490.7" r="8.1"/>
<circle class="r" cx="228.4" cy="1385.0" r="8.1"/>
<circle class="r" cx="217.0" cy="1518.3" r="8.1"/>
<circle class="r" cx="220.3" cy="1385.6" r="8.1"/>
<circle class="r" cx="218.5" cy="1425.2" r="8.1"/>
<circle class="r" cx="219.8" cy="1408.2" r="8.1"/>
<circle class="r" cx="211.6" cy="1347.6" r="8.1"/>
<circle class="r" cx="225.9" cy="1557.6" r="8.1"/>
<circle class="r" cx="225.5" cy="1404.8" r="8.1"/>
<circle class="r" cx="227.5" cy="1405.7" r="8.1"/>
<circle class="r" cx="214.5" cy="1505.8" r="8.1"/>
<circle class="r" cx="204.4" cy="1392.3" r="8.1"/>
<circle class="r" cx="205.1" cy="1537.0" r="8.1"/>
<circle class="r" cx="228.1" cy="1523.3" r="8.1"/>
<circle class="r" cx="208.5" cy="1465.7" r="8.1"/>
<circle class="r" cx="228.3" cy="1534.5" r="8.1"/>
<circle class="r" cx="216.8" cy="1496.6" r="8.1"/>
<circle class="r" cx="212.8" cy="1421.3" r="8.1"/>
<circle class="r" cx="220.9" cy="1381.5" r="8.1"/>
<circle class="r" cx="209.0" cy="1434.0" r="8.1"/>
<circle class="r" cx="220.7" cy="1358.1" r="8.1"/>
<circle class="r" cx="216.6" cy="1402.4" r="8.1"/>
<circle class="r" cx="225.8" cy="1409.2" r="8.1"/>
<circle class="r" cx="204.6" cy="1541.8" r="8.1"/>
<circle class="r" cx="212.3" cy="1380.4" r="8.1"/>
<circle class="r" cx="223.6" cy="1562.0" r="8.1"/>
<circle class="r" cx="209.5" cy="1412.3" r="8.1"/>
<circle class="r" cx="225.0" cy="1489.8" r="8.1"/>
<circle class="r" cx="212.7" cy="1549.3" r="8.1"/>
<circle class="r" cx="221.2" cy="1537.8" r="8.1"/>
<circle class="r" cx="228.6" cy="1445.9" r="8.1"/>
<circle class="r" cx="222.2" cy="1388.2" r="8.1"/>
<circle class="r" cx="208.4" cy="1353.6" r="8.1"/>
<circle class="r" cx="209.5" cy="1544.4" r="8.1"/>
<circle class="r" cx="219.1" cy="1509.4" r="8.1"/>
<circle class="r" cx="213.3" cy="1528.3" r="8.1"/>
<circle class="r" cx="211.4" cy="1412.6" r="8.1"/>
<circle class="r" cx="219.2" cy="1534.4" r="8.1"/>
<circle class="r" cx="226.2" cy="1554.4" r="8.1"/>
<circle class="r" cx="217.9" cy="1365.3" r="8.1"/>
<circle class="r" cx="205.2" cy="1358.1" r="8.1"/>
<circle class="r" cx="225.7" cy="1350.9" r="8.1"/>
<circle class="r" cx="224.7" cy="1516.1" r="8.1"/>
<circle class="r" cx="219.5" cy="1412.7" r="8.1"/>
<circle class="r" cx="213.6" cy="1514.6" r="8.1"/>
<circle class="r" cx="209.7" cy="1465.9" r="8.1"/>
<circle class="r" cx="210.8" cy="1352.9" r="8.1"/>
<circle class="r" cx="218.2" cy="1539.8" r="8.1"/>
<circle class="r" cx="215.6" cy="1547.7" r="8.1"/>
<circle class="r" cx="223.7" cy="1398.0" r="8.1"/>
<circle class="r" cx="204.5" cy="1525.2" r="8.1"/>
<circle class="r" cx="206.5" cy="1488.9" r="8.1"/>
<circle class="r" cx="226.1" cy="1360.6" r="8.1"/>
<circle class="r" cx="210.1" cy="1343.2" r="8.1"/>
<circle class="r" cx="214.6" cy="1562.3" r="8.1"/>
<circle class="r" cx="208.4" cy="1360.7" r="8.1"/>
<circle class="r" cx="222.7" cy="1389.8" r="8.1"/>
<circle class="r" cx="226.8" cy="1357.8" r="8.1"/>
<circle class="r" cx="228.3" cy="1421.4" r="8.1"/>
<circle class="r" cx="211.5" cy="1544.0" r="8.1"/>
<circle class="r" cx="216.0" cy="1392.5" r="8.1"/>
<circle class="r" cx="220.4" cy="1357.1" r="8.1"/>
<circle class="r" cx="204.5" cy="1343.2" r="8.1"/>
<circle class="r" cx="211.5" cy="1561.0" r="8.1"/>
<circle class="r" cx="215.4" cy="1471.8" r="8.1"/>
<circle class="r" cx="205.8" cy="1406.4" r="8.1"/>
<circle class="r" cx="228.3" cy="1545.0" r="8.1"/>
<circle class="r" cx="207.0" cy="1558.0" r="8.1"/>
<circle class="r" cx="219.5" cy="1383.7" r="8.1"/>
<circle class="r" cx="217.7" cy="1560.4" r="8.1"/>
<circle class="r" cx="220.6" cy="1493.0" r="8.1"/>
<circle class="r" cx="217.6" cy="1393.8" r="8.1"/>
<circle class="r" cx="210.3" cy="1405.0" r="8.1"/>
<circle class="r" cx="211.2" cy="1352.8" r="8.1"/>
<circle class="r" cx="215.3" cy="1561.2" r="8.1"/>
<circle class="r" cx="220.2" cy="1484.6" r="8.1"/>
<circle class="r" cx="213.9" cy="1551.3" r="8.1"/>
<circle class="r" cx="212.3" cy="1404.9" r="8.1"/>
<circle class="r" cx="225.2" cy="1407.2" r="8.1"/>
<circle class="r" cx="211.7" cy="1540.4" r="8.1"/>
<circle class="r" cx="217.7" cy="1411.2" r="8.1"/>
<circle class="r" cx="219.0" cy="1467.7" r="8.1"/>
<circle class="r" cx="204.7" cy="1390.6" r="8.1"/>
<circle class="r" cx="206.0" cy="1390.3" r="8.1"/>
<circle class="r" cx="206.0" cy="1461.3" r="8.1"/>
<circle class="r" cx="220.0" cy="1351.4" r="8.1"/>
<circle class="r" cx="223.8" cy="1401.2" r="8.1"/>
<circle class="r" cx="225.6" cy="1447.9" r="8.1"/>
<circle class="r" cx="216.6" cy="1369.6" r="8.1"/>
<circle class="r" cx="206.1" cy="1517.6" r="8.1"/>
<circle class="r" cx="208.5" cy="1553.3" r="8.1"/>
<circle class="r" cx="228.6" cy="1513.3" r="8.1"/>
<circle class="r" cx="212.1" cy="1523.8" r="8.1"/>
<circle class="r" cx="217.0" cy="1358.7" r="8.1"/>
<circle class="r" cx="211.5" cy="1546.4" r="8.1"/>
<circle class="r" cx="207.7" cy="1540.5" r="8.1"/>
<circle class="r" cx="205.0" cy="1544.3" r="8.1"/>
<circle class="r" cx="226.6" cy="1407.0" r="8.1"/>
<circle class="r" cx="226.7" cy="1519.7" r="8.1"/>
<circle class="r" cx="222.7" cy="1528.2" r="8.1"/>
<circle class="r" cx="208.6" cy="1493.3" r="8.1"/>
<circle class="r" cx="208.1" cy="1433.9" r="8.1"/>
<circle class="r" cx="220.8" cy="1499.1" r="8.1"/>
<circle class="r" cx="205.8" cy="1392.3" r="8.1"/>
<circle class="r" cx="224.2" cy="1556.5" r="8.1"/>
<circle class="r" cx="217.6" cy="1460.9" r="8.1"/>
<circle class="r" cx="215.4" cy="1530.6" r="8.1"/>
<circle class="r" cx="212.6" cy="1425.4" r="8.1"/>
<circle class="r" cx="204.8" cy="1393.6" r="8.1"/>
<circle class="r" cx="214.5" cy="1483.3" r="8.1"/>
<circle class="r" cx="205.7" cy="1465.8" r="8.1"/>
<circle class="r" cx="207.6" cy="1416.0" r="8.1"/>
<circle class="r" cx="210.6" cy="1362.9" r="8.1"/>
<circle class="r" cx="214.1" cy="1525.5" r="8.1"/>
<circle class="r" cx="219.4" cy="1426.6" r="8.1"/>
<circle class="r" cx="204.4" cy="1387.9" r="8.1"/>
<circle class="r" cx="216.6" cy="1456.1" r="8.1"/>
<circle class="r" cx="215.1" cy="1483.9" r="8.1"/>
<circle class="r" cx="222.3" cy="1492.6" r="8.1"/>
<circle class="r" cx="216.5" cy="1389.1" r="8.1"/>
<circle class="r" cx="209.8" cy="1444.6" r="8.1"/>
<circle class="r" cx="218.1" cy="1429.2" r="8.1"/>
<circle class="r" cx="227.0" cy="1543.5" r="8.1"/>
<circle class="r" cx="220.2" cy="1397.6" r="8.1"/>
<circle class="r" cx="206.0" cy="1345.1" r="8.1"/>
<circle class="r" cx="226.0" cy="1452.2" r="8.1"/>
<circle class="r" cx="223.2" cy="1370.8" r="8.1"/>
<circle class="r" cx="211.9" cy="1538.0" r="8.1"/>
<circle class="r" cx="225.3" cy="1494.0" r="8.1"/>
<circle class="r" cx="221.6" cy="1419.8" r="8.1"/>
<circle class="r" cx="218.9" cy="1504.1" r="8.1"/>
<circle class="r" cx="226.4" cy="1531.8" r="8.1"/>
<circle class="r" cx="218.4" cy="1555.8" r="8.1"/>
<circle class="r" cx="210.4" cy="1374.7" r="8.1"/>
<circle class="r" cx="218.3" cy="1384.3" r="8.1"/>
<circle class="r" cx="205.5" cy="1509.0" r="8.1"/>
<circle class="r" cx="222.0" cy="1491.5" r="8.1"/>
<circle class="r" cx="217.0" cy="1414.4" r="8.1"/>
<circle class="r" cx="222.3" cy="1372.1" r="8.1"/>
<circle class="r" cx="228.5" cy="1343.4" r="8.1"/>
<circle class="r" cx="219.8" cy="1520.6" r="8.1"/>
<circle class="r" cx="226.8" cy="1395.8" r="8.1"/>
<circle class="r" cx="207.7" cy="1555.6" r="8.1"/>
<circle class="r" cx="225.1" cy="1513.2" r="8.1"/>
<circle class="r" cx="221.6" cy="1486.4" r="8.1"/>
<circle class="r" cx="227.1" cy="1436.8" r="8.1"/>
<circle class="r" cx="213.7" cy="1558.3" r="8.1"/>
<circle class="r" cx="214.9" cy="1519.4" r="8.1"/>
<circle class="r" cx="212.3" cy="1372.1" r="8.1"/>
<circle class="r" cx="226.7" cy="1363.2" r="8.1"/>
<circle class="r" cx="207.2" cy="1555.6" r="8.1"/>
<circle class="r" cx="214.3" cy="1472.8" r="8.1"/>
<circle class="r" cx="211.5" cy="1361.3" r="8.1"/>
<circle class="r" cx="222.8" cy="1391.3" r="8.1"/>
<circle class="r" cx="208.9" cy="1334.9" r="8.1"/>
<circle class="r" cx="204.7" cy="1435.4" r="8.1"/>
<circle class="r" cx="219.2" cy="1479.0" r="8.1"/>
<circle class="r" cx="209.3" cy="1527.0" r="8.1"/>
<circle class="r" cx="217.7" cy="1399.8" r="8.1"/>
<circle class="r" cx="218.7" cy="1397.1" r="8.1"/>
<circle class="r" cx="221.2" cy="1392.0" r="8.1"/>
<circle class="r" cx="224.3" cy="1516.7" r="8.1"/>
<circle class="r" cx="217.7" cy="1558.9" r="8.1"/>
<circle class="r" cx="225.4" cy="1447.4" r="8.1"/>
<circle class="r" cx="218.3" cy="1511.7" r="8.1"/>
<circle class="r" cx="211.2" cy="1422.5" r="8.1"/>
<circle class="r" cx="224.2" cy="1359.0" r="8.1"/>
<circle class="r" cx="222.7" cy="1361.3" r="8.1"/>
<circle class="r" cx="228.1" cy="1460.0" r="8.1"/>
<circle class="r" cx="228.3" cy="1509.8" r="8.1"/>
<circle class="r" cx="216.6" cy="1365.6" r="8.1"/>
<circle class="r" cx="211.9" cy="1466.3" r="8.1"/>
<circle class="r" cx="213.0" cy="1450.2" r="8.1"/>
<circle class="r" cx="204.2" cy="1456.1" r="8.1"/>
<circle class="r" cx="215.3" cy="1436.2" r="8.1"/>
<circle class="r" cx="214.1" cy="1404.4" r="8.1"/>
<circle class="r" cx="221.1" cy="1514.9" r="8.1"/>
<circle class="r" cx="220.3" cy="1447.7" r="8.1"/>
<circle class="r" cx="209.3" cy="1421.2" r="8.1"/>
<circle class="r" cx="211.1" cy="1334.9" r="8.1"/>
<circle class="r" cx="226.1" cy="1472.2" r="8.1"/>
<circle class="r" cx="216.9" cy="1525.6" r="8.1"/>
<circle class="r" cx="215.6" cy="1562.0" r="8.1"/>
<circle class="r" cx="214.3" cy="1526.8" r="8.1"/>
<circle class="r" cx="228.7" cy="1506.0" r="8.1"/>
<circle class="r" cx="208.4" cy="1404.5" r="8.1"/>
<circle class="r" cx="217.4" cy="1477.2" r="8.1"/>
<circle class="r" cx="204.3" cy="1417.0" r="8.1"/>
<circle class="r" cx="214.8" cy="1423.9" r="8.1"/>
<circle class="r" cx="225.6" cy="1427.6" r="8.1"/>
<circle class="r" cx="222.4" cy="1469.0" r="8.1"/>
<circle class="r" cx="222.8" cy="1541.4" r="8.1"/>
<circle class="r" cx="222.7" cy="1447.8" r="8.1"/>
<circle class="r" cx="220.3" cy="1481.9" r="8.1"/>
<circle class="r" cx="214.3" cy="1479.5" r="8.1"/>
<circle class="r" cx="219.9" cy="1479.4" r="8.1"/>
<circle class="r" cx="223.6" cy="1550.5" r="8.1"/>
<circle class="r" cx="223.2" cy="1529.5" r="8.1"/>
<circle class="r" cx="219.2" cy="1522.3" r="8.1"/>
<circle class="r" cx="210.8" cy="1414.7" r="8.1"/>
<circle class="r" cx="225.9" cy="1497.6" r="8.1"/>
<circle class="r" cx="208.0" cy="1459.7" r="8.1"/>
<circle class="r" cx="216.2" cy="1526.4" r="8.1"/>
<circle class="r" cx="205.3" cy="1441.9" r="8.1"/>
<circle class="r" cx="222.7" cy="1451.9" r="8.1"/>
<circle class="r" cx="213.0" cy="1431.6" r="8.1"/>
<circle class="r" cx="204.7" cy="1485.7" r="8.1"/>
<circle class="r" cx="227.7" cy="1451.2" r="8.1"/>
<circle class="r" cx="214.2" cy="1493.5" r="8.1"/>
<circle class="r" cx="219.2" cy="1493.1" r="8.1"/>
<circle class="r" cx="209.4" cy="1382.3" r="8.1"/>
<circle class="r" cx="210.9" cy="1538.7" r="8.1"/>
<circle class="r" cx="224.8" cy="1351.3" r="8.1"/>
<circle class="r" cx="213.3" cy="1454.9" r="8.1"/>
<circle class="r" cx="222.5" cy="1452.2" r="8.1"/>
<circle class="r" cx="220.4" cy="1372.9" r="8.1"/>
<circle class="r" cx="224.4" cy="1498.8" r="8.1"/>
<circle class="r" cx="219.3" cy="1396.3" r="8.1"/>
<circle class="r" cx="218.1" cy="1387.6" r="8.1"/>
<circle class="r" cx="223.8" cy="1373.8" r="8.1"/>
<circle class="r" cx="212.4" cy="1534.2" r="8.1"/>
<circle class="r" cx="228.1" cy="1385.4" r="8.1"/>
<circle class="r" cx="227.7" cy="1338.2" r="8.1"/>
<circle class="r" cx="206.3" cy="1302.3" r="8.1"/>
<circle class="r" cx="222.5" cy="1333.4" r="8.1"/>
<circle class="r" cx="211.8" cy="1326.8" r="8.1"/>
<circle class="r" cx="219.2" cy="1324.2" r="8.1"/>
<circle class="r" cx="208.1" cy="1323.2" r="8.1"/>
<circle class="r" cx="214.0" cy="1317.2" r="8.1"/>
<circle class="r" cx="228.9" cy="1328.9" r="8.1"/>
<circle class="r" cx="217.7" cy="1338.0" r="8.1"/>
<circle class="r" cx="210.9" cy="1317.8" r="8.1"/>
<circle class="r" cx="204.9" cy="1301.4" r="8.1"/>
<circle class="r" cx="212.1" cy="1318.6" r="8.1"/>
<circle class="r" cx="226.3" cy="1315.2" r="8.1"/>
<circle class="r" cx="218.1" cy="1321.0" r="8.1"/>
<circle class="r" cx="280.3" cy="1465.3" r="8.1"/>
<circle class="r" cx="277.9" cy="1551.2" r="8.1"/>
<circle class="r" cx="281.0" cy="1475.4" r="8.1"/>
<circle class="r" cx="279.1" cy="1416.6" r="8.1"/>
<circle class="r" cx="286.1" cy="1497.6" r="8.1"/>
<circle class="r" cx="273.9" cy="1400.1" r="8.1"/>
<circle class="r" cx="286.5" cy="1399.5" r="8.1"/>
<circle class="r" cx="267.4" cy="1509.2" r="8.1"/>
<circle class="r" cx="290.3" cy="1561.8" r="8.1"/>
<circle class="r" cx="281.7" cy="1502.0" r="8.1"/>
<circle class="r" cx="266.8" cy="1411.7" r="8.1"/>
<circle class="r" cx="267.9" cy="1479.2" r="8.1"/>
<circle class="r" cx="272.4" cy="1417.6" r="8.1"/>
<circle class="r" cx="277.9" cy="1388.5" r="8.1"/>
<circle class="r" cx="287.3" cy="1463.2" r="8.1"/>
<circle class="r" cx="282.3" cy="1477.5" r="8.1"/>
<circle class="r" cx="282.8" cy="1474.0" r="8.1"/>
<circle class="r" cx="273.3" cy="1466.2" r="8.1"/>
<circle class="r" cx="291.1" cy="1564.6" r="8.1"/>
<circle class="r" cx="283.9" cy="1535.9" r="8.1"/>
<circle class="r" cx="272.1" cy="1440.4" r="8.1"/>
<circle class="r" cx="268.1" cy="1435.6" r="8.1"/>
<circle class="r" cx="276.3" cy="1522.5" r="8.1"/>
<circle class="r" cx="276.0" cy="1537.1" r="8.1"/>
<circle class="r" cx="287.4" cy="1557.4" r="8.1"/>
<circle class="r" cx="271.6" cy="1383.1" r="8.1"/>
<circle class="r" cx="278.0" cy="1548.7" r="8.1"/>
<circle class="r" cx="276.2" cy="1561.4" r="8.1"/>
<circle class="r" cx="282.0" cy="1396.3" r="8.1"/>
<circle class="r" cx="273.1" cy="1524.7" r="8.1"/>
<circle class="r" cx="274.6" cy="1398.9" r="8.1"/>
<circle class="r" cx="285.2" cy="1558.5" r="8.1"/>
<circle class="r" cx="272.5" cy="1404.5" r="8.1"/>
<circle class="r" cx="267.9" cy="1401.4" r="8.1"/>
<circle class="r" cx="270.8" cy="1528.1" r="8.1"/>
<circle class="r" cx="277.5" cy="1484.8" r="8.1"/>
<circle class="r" cx="284.5" cy="1417.7" r="8.1"/>
<circle class="r" cx="282.4" cy="1406.8" r="8.1"/>
<circle class="r" cx="276.8" cy="1404.2" r="8.1"/>
<circle class="r" cx="273.1" cy="1421.7" r="8.1"/>
<circle class="r" cx="286.3" cy="1559.7" r="8.1"/>
<circle class="r" cx="288.3" cy="1438.4" r="8.1"/>
<circle class="r" cx="276.2" cy="1421.3" r="8.1"/>
<circle class="r" cx="282.3" cy="1538.5" r="8.1"/>
<circle class="r" cx="290.9" cy="1401.3" r="8.1"/>
<circle class="r" cx="272.8" cy="1421.8" r="8.1"/>
<circle class="r" cx="274.5" cy="1523.6" r="8.1"/>
<circle class="r" cx="268.2" cy="1436.9" r="8.1"/>
<circle class="r" cx="280.8" cy="1399.4" r="8.1"/>
<circle class="r" cx="281.3" cy="1427.2" r="8.1"/>
<circle class="r" cx="277.6" cy="1450.7" r="8.1"/>
<circle class="r" cx="278.4" cy="1557.6" r="8.1"/>
<circle class="r" cx="287.9" cy="1487.6" r="8.1"/>
<circle class="r" cx="270.2" cy="1416.3" r="8.1"/>
<circle class="r" cx="286.7" cy="1548.3" r="8.1"/>
<circle class="r" cx="271.1" cy="1428.4" r="8.1"/>
<circle class="r" cx="289.7" cy="1517.6" r="8.1"/>
<circle class="r" cx="290.0" cy="1418.8" r="8.1"/>
<circle class="r" cx="281.4" cy="1543.6" r="8.1"/>
<circle class="r" cx="269.0" cy="1459.7" r="8.1"/>
<circle class="r" cx="290.3" cy="1390.0" r="8.1"/>
<circle class="r" cx="283.9" cy="1426.4" r="8.1"/>
<circle class="r" cx="286.8" cy="1429.8" r="8.1"/>
<circle class="r" cx="273.7" cy="1491.6" r="8.1"/>
<circle class="r" cx="284.3" cy="1414.9" r="8.1"/>
<circle class="r" cx="272.1" cy="1395.5" r="8.1"/>
<circle class="r" cx="287.5" cy="1484.8" r="8.1"/>
<circle class="r" cx="273.3" cy="1494.8" r="8.1"/>
<circle class="r" cx="271.4" cy="1550.0" r="8.1"/>
<circle class="r" cx="273.1" cy="1386.0" r="8.1"/>
<circle class="r" cx="267.9" cy="1464.1" r="8.1"/>
<circle class="r" cx="275.5" cy="1415.1" r="8.1"/>
<circle class="r" cx="269.7" cy="1487.1" r="8.1"/>
<circle class="r" cx="288.5" cy="1448.9" r="8.1"/>
<circle class="r" cx="282.7" cy="1561.4" r="8.1"/>
<circle class="r" cx="280.9" cy="1508.8" r="8.1"/>
<circle class="r" cx="267.3" cy="1408.5" r="8.1"/>
<circle class="r" cx="289.0" cy="1386.3" r="8.1"/>
<circle class="r" cx="290.3" cy="1510.6" r="8.1"/>
<circle class="r" cx="282.2" cy="1386.9" r="8.1"/>
<circle class="r" cx="284.5" cy="1470.8" r="8.1"/>
<circle class="r" cx="291.2" cy="1441.0" r="8.1"/>
<circle class="r" cx="279.9" cy="1396.7" r="8.1"/>
<circle class="r" cx="288.7" cy="1517.1" r="8.1"/>
<circle class="r" cx="283.8" cy="1517.2" r="8.1"/>
<circle class="r" cx="289.1" cy="1527.4" r="8.1"/>
<circle class="r" cx="283.4" cy="1447.0" r="8.1"/>
<circle class="r" cx="288.0" cy="1547.0" r="8.1"/>
<circle class="r" cx="286.0" cy="1458.9" r="8.1"/>
<circle class="r" cx="280.6" cy="1540.2" r="8.1"/>
<circle class="r" cx="275.9" cy="1496.7" r="8.1"/>
<circle class="r" cx="281.5" cy="1489.0" r="8.1"/>
<circle class="r" cx="282.2" cy="1397.6" r="8.1"/>
<circle class="r" cx="288.2" cy="1563.8" r="8.1"/>
<circle class="r" cx="276.0" cy="1515.5" r="8.1"/>
<circle class="r" cx="280.8" cy="1516.8" r="8.1"/>
<circle class="r" cx="287.2" cy="1463.2" r="8.1"/>
<circle class="r" cx="285.0" cy="1398.2" r="8.1"/>
<circle class="r" cx="281.3" cy="1388.4" r="8.1"/>
<circle class="r" cx="272.1" cy="1470.5" r="8.1"/>
<circle class="r" cx="278.7" cy="1510.1" r="8.1"/>
<circle class="r" cx="289.2" cy="1494.8" r="8.1"/>
<circle class="r" cx="266.7" cy="1429.6" r="8.1"/>
<circle class="r" cx="283.2" cy="1437.8" r="8.1"/>
<circle class="r" cx="270.6" cy="1419.9" r="8.1"/>
<circle class="r" cx="282.8" cy="1547.8" r="8.1"/>
<circle class="r" cx="288.5" cy="1463.4" r="8.1"/>
<circle class="r" cx="282.9" cy="1442.5" r="8.1"/>
<circle class="r" cx="277.1" cy="1419.1" r="8.1"/>
<circle class="r" cx="289.1" cy="1529.7" r="8.1"/>
<circle class="r" cx="275.9" cy="1543.2" r="8.1"/>
<circle class="r" cx="274.2" cy="1489.1" r="8.1"/>
<circle class="r" cx="278.7" cy="1407.8" r="8.1"/>
<circle class="r" cx="287.4" cy="1535.4" r="8.1"/>
<circle class="r" cx="290.0" cy="1512.4" r="8.1"/>
<circle class="r" cx="270.6" cy="1433.4" r="8.1"/>
<circle class="r" cx="273.2" cy="1465.0" r="8.1"/>
<circle class="r" cx="276.7" cy="1422.0" r="8.1"/>
<circle class="r" cx="278.6" cy="1496.9" r="8.1"/>
<circle class="r" cx="287.2" cy="1440.4" r="8.1"/>
<circle class="r" cx="277.6" cy="1561.7" r="8.1"/>
<circle class="r" cx="267.2" cy="1396.6" r="8.1"/>
<circle class="r" cx="267.4" cy="1541.9" r="8.1"/>
<circle class="r" cx="280.5" cy="1512.0" r="8.1"/>
<circle class="r" cx="286.0" cy="1439.2" r="8.1"/>
<circle class="r" cx="269.8" cy="1386.5" r="8.1"/>
<circle class="r" cx="267.0" cy="1465.8" r="8.1"/>
<circle class="r" cx="272.3" cy="1534.0" r="8.1"/>
<circle class="r" cx="267.6" cy="1408.6" r="8.1"/>
<circle class="r" cx="277.5" cy="1497.5" r="8.1"/>
<circle class="r" cx="282.6" cy="1497.7" r="8.1"/>
<circle class="r" cx="290.2" cy="1529.9" r="8.1"/>
<circle class="r" cx="271.3" cy="1507.6" r="8.1"/>
<circle class="r" cx="270.8" cy="1469.5" r="8.1"/>
<circle class="r" cx="278.1" cy="1385.0" r="8.1"/>
<circle class="r" cx="270.8" cy="1513.0" r="8.1"/>
<circle class="r" cx="275.0" cy="1432.6" r="8.1"/>
<circle class="r" cx="279.3" cy="1509.9" r="8.1"/>
<circle class="r" cx="285.1" cy="1494.8" r="8.1"/>
<circle class="r" cx="286.0" cy="1454.6" r="8.1"/>
<circle class="r" cx="268.6" cy="1547.9" r="8.1"/>
<circle class="r" cx="284.3" cy="1552.7" r="8.1"/>
<circle class="r" cx="277.6" cy="1406.6" r="8.1"/>
<circle class="r" cx="289.0" cy="1496.8" r="8.1"/>
<circle class="r" cx="280.5" cy="1451.6" r="8.1"/>
<circle class="r" cx="286.1" cy="1543.0" r="8.1"/>
<circle class="r" cx="277.9" cy="1554.9" r="8.1"/>
<circle class="r" cx="271.5" cy="1501.5" r="8.1"/>
<circle class="r" cx="286.7" cy="1514.4" r="8.1"/>
<circle class="r" cx="284.2" cy="1499.8" r="8.1"/>
<circle class="r" cx="288.7" cy="1421.8" r="8.1"/>
<circle class="r" cx="290.6" cy="1561.4" r="8.1"/>
<circle class="r" cx="286.0" cy="1480.7" r="8.1"/>
<circle class="r" cx="289.0" cy="1441.3" r="8.1"/>
<circle class="r" cx="275.0" cy="1538.8" r="8.1"/>
<circle class="r" cx="277.3" cy="1398.1" r="8.1"/>
<circle class="r" cx="285.4" cy="1483.2" r="8.1"/>
<circle class="r" cx="267.1" cy="1471.7" r="8.1"/>
<circle class="r" cx="268.0" cy="1530.3" r="8.1"/>
<circle class="r" cx="270.7" cy="1528.6" r="8.1"/>
<circle class="r" cx="285.9" cy="1444.0" r="8.1"/>
<circle class="r" cx="270.1" cy="1408.6" r="8.1"/>
<circle class="r" cx="284.3" cy="1477.0" r="8.1"/>
<circle class="r" cx="283.5" cy="1535.9" r="8.1"/>
<circle class="r" cx="278.6" cy="1555.1" r="8.1"/>
<circle class="r" cx="268.5" cy="1555.7" r="8.1"/>
<circle class="r" cx="279.5" cy="1423.3" r="8.1"/>
<circle class="r" cx="284.5" cy="1435.8" r="8.1"/>
<circle class="r" cx="279.4" cy="1499.3" r="8.1"/>
<circle class="r" cx="280.3" cy="1536.5" r="8.1"/>
<circle class="r" cx="275.8" cy="1439.7" r="8.1"/>
<circle class="r" cx="288.7" cy="1536.8" r="8.1"/>
<circle class="r" cx="287.5" cy="1420.9" r="8.1"/>
<circle class="r" cx="279.4" cy="1559.3" r="8.1"/>
<circle class="r" cx="271.4" cy="1487.3" r="8.1"/>
<circle class="r" cx="278.9" cy="1480.5" r="8.1"/>
<circle class="r" cx="267.1" cy="1493.2" r="8.1"/>
<circle class="r" cx="279.2" cy="1559.4" r="8.1"/>
<circle class="r" cx="286.3" cy="1455.9" r="8.1"/>
<circle class="r" cx="278.6" cy="1485.4" r="8.1"/>
<circle class="r" cx="268.0" cy="1508.8" r="8.1"/>
<circle class="r" cx="276.7" cy="1481.0" r="8.1"/>
<circle class="r" cx="289.3" cy="1557.1" r="8.1"/>
<circle class="r" cx="278.1" cy="1432.0" r="8.1"/>
<circle class="r" cx="277.1" cy="1406.1" r="8.1"/>
<circle class="r" cx="288.7" cy="1531.5" r="8.1"/>
<circle class="r" cx="274.3" cy="1469.7" r="8.1"/>
<circle class="r" cx="281.7" cy="1417.8" r="8.1"/>
<circle class="r" cx="269.6" cy="1551.4" r="8.1"/>
<circle class="r" cx="267.0" cy="1524.8" r="8.1"/>
<circle class="r" cx="272.0" cy="1418.3" r="8.1"/>
<circle class="r" cx="274.4" cy="1508.0" r="8.1"/>
<circle class="r" cx="281.8" cy="1447.7" r="8.1"/>
<circle class="r" cx="284.5" cy="1402.1" r="8.1"/>
<circle class="r" cx="279.0" cy="1405.3" r="8.1"/>
<circle class="r" cx="271.3" cy="1428.6" r="8.1"/>
<circle class="r" cx="277.2" cy="1479.5" r="8.1"/>
<circle class="r" cx="276.6" cy="1451.4" r="8.1"/>
<circle class="r" cx="270.4" cy="1479.3" r="8.1"/>
<circle class="r" cx="282.0" cy="1420.2" r="8.1"/>
<circle class="r" cx="279.5" cy="1499.2" r="8.1"/>
<circle class="r" cx="281.6" cy="1537.9" r="8.1"/>
<circle class="r" cx="272.2" cy="1538.9" r="8.1"/>
<circle class="r" cx="286.5" cy="1517.8" r="8.1"/>
<circle class="r" cx="274.2" cy="1547.3" r="8.1"/>
<circle class="r" cx="289.3" cy="1440.3" r="8.1"/>
<circle class="r" cx="291.1" cy="1422.7" r="8.1"/>
<circle class="r" cx="269.7" cy="1544.5" r="8.1"/>
<circle class="r" cx="284.4" cy="1426.6" r="8.1"/>
<circle class="r" cx="268.8" cy="1430.2" r="8.1"/>
<circle class="r" cx="276.8" cy="1534.5" r="8.1"/>
<circle class="r" cx="269.5" cy="1526.8" r="8.1"/>
<circle class="r" cx="283.4" cy="1456.3" r="8.1"/>
<circle class="r" cx="271.4" cy="1386.2" r="8.1"/>
<circle class="r" cx="289.0" cy="1507.2" r="8.1"/>
<circle class="r" cx="269.3" cy="1559.2" r="8.1"/>
<circle class="r" cx="285.2" cy="1475.0" r="8.1"/>
<circle class="r" cx="283.4" cy="1474.5" r="8.1"/>
<circle class="r" cx="268.1" cy="1417.4" r="8.1"/>
<circle class="r" cx="267.3" cy="1402.3" r="8.1"/>
<circle class="r" cx="279.2" cy="1483.4" r="8.1"/>
<circle class="r" cx="270.0" cy="1486.5" r="8.1"/>
<circle class="r" cx="271.4" cy="1416.6" r="8.1"/>
<circle class="r" cx="290.9" cy="1535.9" r="8.1"/>
<circle class="r" cx="268.8" cy="1551.7" r="8.1"/>
<circle class="r" cx="290.0" cy="1394.3" r="8.1"/>
<circle class="r" cx="285.4" cy="1467.1" r="8.1"/>
<circle class="r" cx="278.0" cy="1442.5" r="8.1"/>
<circle class="r" cx="277.1" cy="1476.8" r="8.1"/>
<circle class="r" cx="266.7" cy="1492.4" r="8.1"/>
<circle class="r" cx="287.3" cy="1510.6" r="8.1"/>
<circle class="r" cx="277.6" cy="1416.0" r="8.1"/>
<circle class="r" cx="276.4" cy="1517.6" r="8.1"/>
<circle class="r" cx="270.5" cy="1418.5" r="8.1"/>
<circle class="r" cx="266.8" cy="1476.3" r="8.1"/>
<circle class="r" cx="286.3" cy="1545.6" r="8.1"/>
<circle class="r" cx="287.7" cy="1511.3" r="8.1"/>
<circle class="r" cx="276.4" cy="1497.5" r="8.1"/>
<circle class="r" cx="278.9" cy="1492.1" r="8.1"/>
<circle class="r" cx="286.3" cy="1561.8" r="8.1"/>
<circle class="r" cx="289.0" cy="1430.0" r="8.1"/>
<circle class="r" cx="285.7" cy="1518.5" r="8.1"/>
<circle class="r" cx="276.4" cy="1531.3" r="8.1"/>
<circle class="r" cx="288.2" cy="1546.2" r="8.1"/>
<circle class="r" cx="285.4" cy="1509.5" r="8.1"/>
<circle class="r" cx="276.5" cy="1522.3" r="8.1"/>
<circle class="r" cx="268.1" cy="1514.5" r="8.1"/>
<circle class="r" cx="278.0" cy="1445.2" r="8.1"/>
<circle class="r" cx="275.2" cy="1384.9" r="8.1"/>
<circle class="r" cx="281.9" cy="1499.2" r="8.1"/>
<circle class="r" cx="289.8" cy="1425.2" r="8.1"/>
<circle class="r" cx="274.8" cy="1504.2" r="8.1"/>
<circle class="r" cx="280.5" cy="1503.1" r="8.1"/>
<circle class="r" cx="276.1" cy="1480.0" r="8.1"/>
<circle class="r" cx="282.3" cy="1565.0" r="8.1"/>
<circle class="r" cx="285.3" cy="1510.6" r="8.1"/>
<circle class="r" cx="267.0" cy="1561.4" r="8.1"/>
<circle class="r" cx="284.7" cy="1495.0" r="8.1"/>
<circle class="r" cx="276.3" cy="1429.7" r="8.1"/>
<circle class="r" cx="271.2" cy="1392.2" r="8.1"/>
<circle class="r" cx="282.7" cy="1352.5" r="8.1"/>
<circle class="r" cx="269.9" cy="1363.7" r="8.1"/>
<circle class="r" cx="275.7" cy="1325.6" r="8.1"/>
<circle class="r" cx="286.5" cy="1340.9" r="8.1"/>
<circle class="r" cx="281.3" cy="1365.1" r="8.1"/>
<circle class="r" cx="282.8" cy="1357.4" r="8.1"/>
<circle class="r" cx="277.3" cy="1333.4" r="8.1"/>
<circle class="r" cx="288.9" cy="1334.4" r="8.1"/>
<circle class="r" cx="286.7" cy="1328.4" r="8.1"/>
<circle class="r" cx="283.4" cy="1329.3" r="8.1"/>
<circle class="r" cx="276.4" cy="1344.5" r="8.1"/>
<circle class="r" cx="266.9" cy="1373.9" r="8.1"/>
<circle class="r" cx="289.1" cy="1328.5" r="8.1"/>
<circle class="r" cx="268.6" cy="1354.5" r="8.1"/>
<circle class="r" cx="289.9" cy="1382.3" r="8.1"/>
<circle class="r" cx="276.9" cy="1331.5" r="8.1"/>
<circle class="r" cx="274.1" cy="1332.8" r="8.1"/>
<circle class="r" cx="270.4" cy="1361.0" r="8.1"/>
<circle class="r" cx="267.7" cy="1365.4" r="8.1"/>
<circle class="r" cx="286.6" cy="1334.9" r="8.1"/>
<circle class="r" cx="276.8" cy="1348.2" r="8.1"/>
<circle class="r" cx="278.2" cy="1359.6" r="8.1"/>
<circle class="r" cx="267.1" cy="1347.3" r="8.1"/>
<circle class="r" cx="290.4" cy="1367.1" r="8.1"/>
<circle class="r" cx="282.8" cy="1381.6" r="8.1"/>
<circle class="r" cx="275.4" cy="1345.7" r="8.1"/>
<circle class="r" cx="283.1" cy="1365.0" r="8.1"/>
<circle class="r" cx="272.2" cy="1331.6" r="8.1"/>
<circle class="r" cx="279.1" cy="1346.1" r="8.1"/>
<circle class="r" cx="278.8" cy="1372.0" r="8.1"/>
<circle class="r" cx="286.8" cy="1326.6" r="8.1"/>
<circle class="r" cx="279.3" cy="1349.9" r="8.1"/>
<circle class="r" cx="277.0" cy="1337.9" r="8.1"/>
<circle class="r" cx="285.5" cy="1347.5" r="8.1"/>
<circle class="r" cx="280.0" cy="1331.0" r="8.1"/>
<circle class="r" cx="283.6" cy="1335.3" r="8.1"/>
<circle class="r" cx="273.2" cy="1327.1" r="8.1"/>
<circle class="r" cx="282.2" cy="1345.0" r="8.1"/>
<circle class="r" cx="277.8" cy="1328.0" r="8.1"/>
<circle class="r" cx="273.4" cy="1337.1" r="8.1"/>
<circle class="r" cx="290.2" cy="1352.6" r="8.1"/>
<circle class="r" cx="290.1" cy="1352.9" r="8.1"/>
<circle class="r" cx="289.3" cy="1334.7" r="8.1"/>
<circle class="r" cx="271.1" cy="1346.1" r="8.1"/>
<circle class="r" cx="289.0" cy="1368.4" r="8.1"/>
<circle class="r" cx="1264.2" cy="1402.0" r="8.1"/>
<circle class="r" cx="1278.4" cy="1464.8" r="8.1"/>
<circle class="r" cx="1264.2" cy="1422.9" r="8.1"/>
<circle class="r" cx="1280.2" cy="1438.2" r="8.1"/>
<circle class="r" cx="1279.8" cy="1424.3" r="8.1"/>
<circle class="r" cx="1264.8" cy="1509.3" r="8.1"/>
<circle class="r" cx="1272.5" cy="1488.4" r="8.1"/>
<circle class="r" cx="1286.1" cy="1468.1" r="8.1"/>
<circle class="r" cx="1261.9" cy="1415.4" r="8.1"/>
<circle class="r" cx="1271.4" cy="1555.1" r="8.1"/>
<circle class="r" cx="1269.6" cy="1432.8" r="8.1"/>
<circle class="r" cx="1285.1" cy="1460.2" r="8.1"/>
<circle class="r" cx="1266.8" cy="1434.7" r="8.1"/>
<circle class="r" cx="1275.0" cy="1496.5" r="8.1"/>
<circle class="r" cx="1282.2" cy="1557.4" r="8.1"/>
<circle class="r" cx="1266.5" cy="1458.7" r="8.1"/>
<circle class="r" cx="1286.0" cy="1538.0" r="8.1"/>
<circle class="r" cx="1279.7" cy="1405.0" r="8.1"/>
<circle class="r" cx="1277.6" cy="1543.3" r="8.1"/>
<circle class="r" cx="1281.2" cy="1436.0" r="8.1"/>
<circle class="r" cx="1266.2" cy="1520.4" r="8.1"/>
<circle class="r" cx="1266.9" cy="1505.7" r="8.1"/>
<circle class="r" cx="1269.8" cy="1406.8" r="8.1"/>
<circle class="r" cx="1271.3" cy="1455.2" r="8.1"/>
<circle class="r" cx="1282.2" cy="1506.7" r="8.1"/>
<circle class="r" cx="1285.6" cy="1558.6" r="8.1"/>
<circle class="r" cx="1281.0" cy="1563.9" r="8.1"/>
<circle class="r" cx="1265.8" cy="1450.5" r="8.1"/>
<circle class="r" cx="1275.0" cy="1502.9" r="8.1"/>
<circle class="r" cx="1263.7" cy="1511.3" r="8.1"/>
<circle class="r" cx="1284.3" cy="1431.8" r="8.1"/>
<circle class="r" cx="1278.7" cy="1499.2" r="8.1"/>
<circle class="r" cx="1271.3" cy="1415.8" r="8.1"/>
<circle class="r" cx="1277.5" cy="1550.2" r="8.1"/>
<circle class="r" cx="1266.3" cy="1563.6" r="8.1"/>
<circle class="r" cx="1281.3" cy="1475.0" r="8.1"/>
<circle class="r" cx="1281.0" cy="1473.4" r="8.1"/>
<circle class="r" cx="1264.4" cy="1492.7" r="8.1"/>
<circle class="r" cx="1285.8" cy="1416.3" r="8.1"/>
<circle class="r" cx="1266.2" cy="1419.7" r="8.1"/>
<circle class="r" cx="1279.1" cy="1455.3" r="8.1"/>
<circle class="r" cx="1273.2" cy="1540.9" r="8.1"/>
<circle class="r" cx="1281.0" cy="1482.2" r="8.1"/>
<circle class="r" cx="1270.7" cy="1445.9" r="8.1"/>
<circle class="r" cx="1277.2" cy="1501.1" r="8.1"/>
<circle class="r" cx="1264.2" cy="1406.3" r="8.1"/>
<circle class="r" cx="1279.4" cy="1422.8" r="8.1"/>
<circle class="r" cx="1285.6" cy="1514.3" r="8.1"/>
<circle class="r" cx="1267.7" cy="1526.6" r="8.1"/>
<circle class="r" cx="1285.9" cy="1526.3" r="8.1"/>
<circle class="r" cx="1261.7" cy="1457.5" r="8.1"/>
<circle class="r" cx="1268.4" cy="1461.9" r="8.1"/>
<circle class="r" cx="1262.5" cy="1429.1" r="8.1"/>
<circle class="r" cx="1282.9" cy="1420.6" r="8.1"/>
<circle class="r" cx="1276.7" cy="1408.2" r="8.1"/>
<circle class="r" cx="1266.2" cy="1434.1" r="8.1"/>
<circle class="r" cx="1268.8" cy="1535.4" r="8.1"/>
<circle class="r" cx="1272.7" cy="1430.3" r="8.1"/>
<circle class="r" cx="1274.4" cy="1514.7" r="8.1"/>
<circle class="r" cx="1271.4" cy="1541.9" r="8.1"/>
<circle class="r" cx="1279.2" cy="1486.5" r="8.1"/>
<circle class="r" cx="1279.2" cy="1476.2" r="8.1"/>
<circle class="r" cx="1264.7" cy="1477.0" r="8.1"/>
<circle class="r" cx="1280.9" cy="1420.4" r="8.1"/>
<circle class="r" cx="1284.8" cy="1522.9" r="8.1"/>
<circle class="r" cx="1275.8" cy="1513.9" r="8.1"/>
<circle class="r" cx="1282.6" cy="1427.4" r="8.1"/>
<circle class="r" cx="1272.0" cy="1419.6" r="8.1"/>
<circle class="r" cx="1270.9" cy="1423.2" r="8.1"/>
<circle class="r" cx="1272.0" cy="1450.7" r="8.1"/>
<circle class="r" cx="1274.9" cy="1517.3" r="8.1"/>
<circle class="r" cx="1280.7" cy="1440.1" r="8.1"/>
<circle class="r" cx="1281.9" cy="1521.3" r="8.1"/>
<circle class="r" cx="1276.7" cy="1405.4" r="8.1"/>
<circle class="r" cx="1267.8" cy="1547.7" r="8.1"/>
<circle class="r" cx="1281.6" cy="1433.4" r="8.1"/>
<circle class="r" cx="1271.4" cy="1460.0" r="8.1"/>
<circle class="r" cx="1271.0" cy="1534.9" r="8.1"/>
<circle class="r" cx="1266.7" cy="1432.7" r="8.1"/>
<circle class="r" cx="1278.7" cy="1457.0" r="8.1"/>
<circle class="r" cx="1280.6" cy="1460.8" r="8.1"/>
<circle class="r" cx="1267.6" cy="1410.9" r="8.1"/>
<circle class="r" cx="1273.3" cy="1503.1" r="8.1"/>
<circle class="r" cx="1284.6" cy="1482.5" r="8.1"/>
<circle class="r" cx="1265.9" cy="1445.8" r="8.1"/>
<circle class="r" cx="1273.4" cy="1405.6" r="8.1"/>
<circle class="r" cx="1273.2" cy="1449.0" r="8.1"/>
<circle class="r" cx="1261.4" cy="1400.9" r="8.1"/>
<circle class="r" cx="1280.2" cy="1462.6" r="8.1"/>
<circle class="r" cx="1284.1" cy="1449.6" r="8.1"/>
<circle class="r" cx="1271.4" cy="1495.6" r="8.1"/>
<circle class="r" cx="1267.2" cy="1528.2" r="8.1"/>
<circle class="r" cx="1282.4" cy="1499.9" r="8.1"/>
<circle class="r" cx="1269.4" cy="1489.3" r="8.1"/>
<circle class="r" cx="1275.7" cy="1415.8" r="8.1"/>
<circle class="r" cx="1270.7" cy="1431.0" r="8.1"/>
<circle class="r" cx="1284.8" cy="1489.5" r="8.1"/>
<circle class="r" cx="1274.3" cy="1511.1" r="8.1"/>
<circle class="r" cx="1269.1" cy="1541.6" r="8.1"/>
<circle class="r" cx="1278.2" cy="1464.0" r="8.1"/>
<circle class="r" cx="1266.9" cy="1491.4" r="8.1"/>
<circle class="r" cx="1281.9" cy="1467.8" r="8.1"/>
<circle class="r" cx="1278.9" cy="1440.0" r="8.1"/>
<circle class="r" cx="1285.1" cy="1407.9" r="8.1"/>
<circle class="r" cx="1269.5" cy="1512.9" r="8.1"/>
<circle class="r" cx="1281.2" cy="1562.2" r="8.1"/>
<circle class="r" cx="1267.6" cy="1410.2" r="8.1"/>
<circle class="r" cx="1286.2" cy="1481.1" r="8.1"/>
<circle class="r" cx="1262.6" cy="1423.2" r="8.1"/>
<circle class="r" cx="1262.5" cy="1451.6" r="8.1"/>
<circle class="r" cx="1274.8" cy="1467.5" r="8.1"/>
<circle class="r" cx="1264.9" cy="1472.7" r="8.1"/>
<circle class="r" cx="1281.3" cy="1403.8" r="8.1"/>
<circle class="r" cx="1273.3" cy="1472.6" r="8.1"/>
<circle class="r" cx="1278.4" cy="1478.9" r="8.1"/>
<circle class="r" cx="1281.9" cy="1548.6" r="8.1"/>
<circle class="r" cx="1269.8" cy="1520.0" r="8.1"/>
<circle class="r" cx="1263.7" cy="1427.8" r="8.1"/>
<circle class="r" cx="1262.8" cy="1541.7" r="8.1"/>
<circle class="r" cx="1284.0" cy="1493.9" r="8.1"/>
<circle class="r" cx="396.5" cy="1549.5" r="8.1"/>
<circle class="r" cx="413.4" cy="1544.2" r="8.1"/>
<circle class="r" cx="407.9" cy="1554.4" r="8.1"/>
<circle class="r" cx="400.3" cy="1553.8" r="8.1"/>
<circle class="r" cx="405.1" cy="1558.3" r="8.1"/>
<circle class="r" cx="407.2" cy="1559.5" r="8.1"/>
<circle class="r" cx="401.7" cy="1561.0" r="8.1"/>
<circle class="r" cx="394.5" cy="1543.9" r="8.1"/>
<circle class="r" cx="394.9" cy="1558.1" r="8.1"/>
<circle class="r" cx="406.2" cy="1556.4" r="8.1"/>
<circle class="r" cx="410.2" cy="1541.5" r="8.1"/>
<circle class="r" cx="412.3" cy="1540.8" r="8.1"/>
<circle class="g" cx="588.7" cy="302.2" r="8.1"/>
<circle class="g" cx="894.3" cy="725.2" r="8.1"/>
<circle class="g" cx="208.2" cy="1102.4" r="8.1"/>
<circle class="g" cx="289.5" cy="895.9" r="8.1"/>
<circle class="g" cx="284.6" cy="1002.4" r="8.1"/>
<circle class="g" cx="266.3" cy="1057.4" r="8.1"/>
<circle class="g" cx="288.7" cy="1132.2" r="8.1"/>
<circle class="g" cx="290.8" cy="1142.7" r="8.1"/>
<circle class="g" cx="274.6" cy="1158.3" r="8.1"/>
<circle class="g" cx="460.7" cy="1159.3" r="8.1"/>
<circle class="g" cx="225.3" cy="1193.9" r="8.1"/>
<circle class="g" cx="214.3" cy="1209.4" r="8.1"/>
<circle class="g" cx="218.8" cy="1257.3" r="8.1"/>
<circle class="g" cx="213.9" cy="1279.3" r="8.1"/>
<circle class="g" cx="218.8" cy="1295.5" r="8.1"/>
<circle class="g" cx="220.1" cy="1313.6" r="8.1"/>
<circle class="g" cx="212.3" cy="1325.9" r="8.1"/>
<circle class="g" cx="225.3" cy="1325.9" r="8.1"/>
<circle class="g" cx="279.6" cy="1228.2" r="8.1"/>
<circle class="g" cx="275.1" cy="1228.8" r="8.1"/>
<circle class="g" cx="268.0" cy="1237.2" r="8.1"/>
<circle class="g" cx="286.1" cy="1260.5" r="8.1"/>
<circle class="g" cx="273.8" cy="1262.5" r="8.1"/>
<circle class="g" cx="290.6" cy="1276.7" r="8.1"/>
<circle class="g" cx="286.1" cy="1290.9" r="8.1"/>
<circle class="g" cx="278.3" cy="1293.5" r="8.1"/>
<circle class="g" cx="283.5" cy="1287.0" r="8.1"/>
<circle class="g" cx="288.7" cy="1294.8" r="8.1"/>
<circle class="g" cx="270.6" cy="1307.7" r="8.1"/>
<circle class="g" cx="278.3" cy="1311.6" r="8.1"/>
<circle class="g" cx="286.1" cy="1312.9" r="8.1"/>
<circle class="g" cx="291.3" cy="1319.4" r="8.1"/>
<circle class="g" cx="273.2" cy="1320.7" r="8.1"/>
<circle class="g" cx="280.9" cy="1324.6" r="8.1"/>
<circle class="g" cx="268.0" cy="1325.9" r="8.1"/>
<circle class="g" cx="329.5" cy="1501.3" r="8.1"/>
<circle class="g" cx="396.4" cy="1499.5" r="8.1"/>
<circle class="g" cx="396.4" cy="1526.8" r="8.1"/>
<circle class="g" cx="414.0" cy="1527.8" r="8.1"/>
<circle class="g" cx="391.2" cy="1532.0" r="8.1"/>
<circle class="g" cx="418.1" cy="1546.5" r="8.1"/>
<circle class="g" cx="464.7" cy="1241.7" r="8.1"/>
<circle class="g" cx="454.5" cy="1397.8" r="8.1"/>
<circle class="g" cx="469.9" cy="1419.8" r="8.1"/>
<circle class="g" cx="473.6" cy="1511.9" r="8.1"/>
<circle class="g" cx="470.9" cy="1521.6" r="8.1"/>
<circle class="g" cx="461.6" cy="1530.9" r="8.1"/>
<circle class="g" cx="471.9" cy="1548.5" r="8.1"/>
<circle class="g" cx="465.7" cy="1567.2" r="8.1"/>
<circle class="g" cx="478.1" cy="1564.1" r="8.1"/>
<circle class="g" cx="469.9" cy="1565.1" r="8.1"/>
<circle class="g" cx="538.2" cy="1553.1" r="8.1"/>
<circle class="g" cx="518.0" cy="1564.8" r="8.1"/>
<circle class="g" cx="580.9" cy="1533.7" r="8.1"/>
<circle class="g" cx="585.6" cy="1533.0" r="8.1"/>
<circle class="g" cx="591.0" cy="1535.3" r="8.1"/>
<circle class="g" cx="579.4" cy="1541.5" r="8.1"/>
<circle class="g" cx="587.1" cy="1539.9" r="8.1"/>
<circle class="g" cx="589.0" cy="1558.6" r="8.1"/>
<circle class="g" cx="594.9" cy="1556.2" r="8.1"/>
<circle class="g" cx="598.8" cy="1557.3" r="8.1"/>
<circle class="g" cx="589.5" cy="1563.2" r="8.1"/>
<circle class="g" cx="595.7" cy="1563.2" r="8.1"/>
<circle class="g" cx="600.8" cy="1564.8" r="8.1"/>
<circle class="g" cx="655.5" cy="1383.1" r="8.1"/>
<circle class="g" cx="641.5" cy="1508.9" r="8.1"/>
<circle class="g" cx="653.9" cy="1560.1" r="8.1"/>
<circle class="g" cx="582.8" cy="798.6" r="8.1"/>
<circle class="g" cx="656.7" cy="960.5" r="8.1"/>
<circle class="g" cx="765.4" cy="965.5" r="8.1"/>
<circle class="g" cx="779.3" cy="1041.3" r="8.1"/>
<circle class="g" cx="770.6" cy="1055.8" r="8.1"/>
<circle class="g" cx="765.2" cy="1084.8" r="8.1"/>
<circle class="g" cx="646.3" cy="1175.6" r="8.1"/>
<circle class="g" cx="649.4" cy="1301.5" r="8.1"/>
<circle class="g" cx="654.2" cy="1354.9" r="8.1"/>
<circle class="g" cx="766.0" cy="1182.0" r="8.1"/>
<circle class="g" cx="775.9" cy="1182.0" r="8.1"/>
<circle class="g" cx="775.9" cy="1218.7" r="8.1"/>
<circle class="g" cx="773.3" cy="1232.1" r="8.1"/>
<circle class="g" cx="780.5" cy="1229.0" r="8.1"/>
<circle class="g" cx="787.1" cy="1286.6" r="8.1"/>
<circle class="g" cx="775.3" cy="1294.2" r="8.1"/>
<circle class="g" cx="785.7" cy="1310.2" r="8.1"/>
<circle class="g" cx="775.9" cy="1319.1" r="8.1"/>
<circle class="g" cx="787.7" cy="1333.6" r="8.1"/>
<circle class="g" cx="777.4" cy="1331.5" r="8.1"/>
<circle class="g" cx="783.6" cy="1343.9" r="8.1"/>
<circle class="g" cx="774.3" cy="1353.7" r="8.1"/>
<circle class="g" cx="787.7" cy="1355.9" r="8.1"/>
<circle class="g" cx="767.0" cy="1381.2" r="8.1"/>
<circle class="g" cx="779.5" cy="1418.9" r="8.1"/>
<circle class="g" cx="776.4" cy="1423.6" r="8.1"/>
<circle class="g" cx="765.0" cy="1427.8" r="8.1"/>
<circle class="g" cx="773.3" cy="1448.5" r="8.1"/>
<circle class="g" cx="787.7" cy="1454.7" r="8.1"/>
<circle class="g" cx="775.3" cy="1492.0" r="8.1"/>
<circle class="g" cx="787.7" cy="1490.5" r="8.1"/>
<circle class="g" cx="765.0" cy="1521.0" r="8.1"/>
<circle class="g" cx="767.0" cy="1535.4" r="8.1"/>
<circle class="g" cx="785.7" cy="1533.4" r="8.1"/>
<circle class="g" cx="842.2" cy="1264.2" r="8.1"/>
<circle class="g" cx="850.9" cy="1285.5" r="8.1"/>
<circle class="g" cx="773.5" cy="1504.1" r="8.1"/>
<circle class="g" cx="773.5" cy="1539.5" r="8.1"/>
<circle class="g" cx="783.8" cy="1538.3" r="8.1"/>
<circle class="g" cx="763.3" cy="1550.8" r="8.1"/>
<circle class="g" cx="771.3" cy="1548.6" r="8.1"/>
<circle class="g" cx="790.6" cy="1550.8" r="8.1"/>
<circle class="g" cx="763.8" cy="1558.2" r="8.1"/>
<circle class="g" cx="765.7" cy="1561.7" r="8.1"/>
<circle class="g" cx="769.8" cy="1556.7" r="8.1"/>
<circle class="g" cx="770.2" cy="1562.0" r="8.1"/>
<circle class="g" cx="774.4" cy="1561.7" r="8.1"/>
<circle class="g" cx="775.1" cy="1557.4" r="8.1"/>
<circle class="g" cx="779.7" cy="1558.4" r="8.1"/>
<circle class="g" cx="780.2" cy="1563.4" r="8.1"/>
<circle class="g" cx="783.7" cy="1558.4" r="8.1"/>
<circle class="g" cx="785.0" cy="1563.4" r="8.1"/>
<circle class="g" cx="787.8" cy="1557.3" r="8.1"/>
<circle class="g" cx="832.2" cy="1546.3" r="8.1"/>
<circle class="g" cx="850.4" cy="1548.6" r="8.1"/>
<circle class="g" cx="829.4" cy="1559.4" r="8.1"/>
<circle class="g" cx="833.7" cy="1560.4" r="8.1"/>
<circle class="g" cx="834.8" cy="1564.3" r="8.1"/>
<circle class="g" cx="837.7" cy="1558.4" r="8.1"/>
<circle class="g" cx="840.6" cy="1564.2" r="8.1"/>
<circle class="g" cx="841.8" cy="1559.9" r="8.1"/>
<circle class="g" cx="845.4" cy="1560.1" r="8.1"/>
<circle class="g" cx="849.3" cy="1563.2" r="8.1"/>
<circle class="g" cx="894.2" cy="1553.0" r="8.1"/>
<circle class="g" cx="889.0" cy="1565.0" r="8.1"/>
<circle class="g" cx="892.6" cy="1564.9" r="8.1"/>
<circle class="g" cx="956.3" cy="1544.3" r="8.1"/>
<circle class="g" cx="963.6" cy="1564.4" r="8.1"/>
<circle class="g" cx="1022.2" cy="1329.8" r="8.1"/>
<circle class="g" cx="1032.3" cy="1358.6" r="8.1"/>
<circle class="g" cx="1036.0" cy="1564.0" r="8.1"/>
<circle class="g" cx="1083.4" cy="1563.9" r="8.1"/>
<circle class="g" cx="1098.6" cy="1554.4" r="8.1"/>
<circle class="g" cx="1084.5" cy="1563.7" r="8.1"/>
<circle class="g" cx="1097.5" cy="1554.4" r="8.1"/>
<circle class="g" cx="1088.7" cy="1559.2" r="8.1"/>
<circle class="g" cx="1093.7" cy="1546.2" r="8.1"/>
<circle class="g" cx="1083.3" cy="1557.9" r="8.1"/>
<circle class="g" cx="1074.9" cy="1549.2" r="8.1"/>
<circle class="g" cx="1078.3" cy="1549.1" r="8.1"/>
<circle class="g" cx="1092.2" cy="1553.4" r="8.1"/>
<circle class="g" cx="1078.1" cy="1561.5" r="8.1"/>
<circle class="g" cx="1085.6" cy="1563.8" r="8.1"/>
<circle class="g" cx="1088.2" cy="1559.1" r="8.1"/>
<circle class="g" cx="1081.9" cy="1561.6" r="8.1"/>
<circle class="g" cx="1077.6" cy="1557.4" r="8.1"/>
<circle class="g" cx="1084.8" cy="1558.1" r="8.1"/>
<circle class="g" cx="1089.4" cy="1558.4" r="8.1"/>
<circle class="g" cx="1097.1" cy="1557.0" r="8.1"/>
<circle class="g" cx="1080.7" cy="1564.3" r="8.1"/>
<circle class="g" cx="1099.0" cy="1548.5" r="8.1"/>
<circle class="g" cx="1094.0" cy="1555.4" r="8.1"/>
<circle class="g" cx="1089.5" cy="1553.0" r="8.1"/>
<circle class="g" cx="1096.9" cy="1542.3" r="8.1"/>
<circle class="g" cx="1094.0" cy="1548.8" r="8.1"/>
<circle class="g" cx="1096.4" cy="1548.8" r="8.1"/>
<circle class="g" cx="1098.6" cy="1550.4" r="8.1"/>
<circle class="g" cx="1097.5" cy="1544.3" r="8.1"/>
<circle class="g" cx="1273.9" cy="960.5" r="8.1"/>
<circle class="g" cx="1279.9" cy="973.9" r="8.1"/>
<circle class="g" cx="1268.1" cy="1052.2" r="8.1"/>
<circle class="g" cx="1219.4" cy="1376.0" r="8.1"/>
<circle class="g" cx="1201.4" cy="1549.9" r="8.1"/>
<circle class="g" cx="1202.4" cy="1550.0" r="8.1"/>
<circle class="g" cx="1212.9" cy="1559.6" r="8.1"/>
<circle class="g" cx="1204.6" cy="1558.1" r="8.1"/>
<circle class="g" cx="1213.0" cy="1547.1" r="8.1"/>
<circle class="g" cx="1201.8" cy="1548.6" r="8.1"/>
<circle class="g" cx="1204.7" cy="1551.3" r="8.1"/>
<circle class="g" cx="1204.0" cy="1561.9" r="8.1"/>
<circle class="g" cx="1209.3" cy="1558.2" r="8.1"/>
<circle class="g" cx="1204.7" cy="1552.8" r="8.1"/>
<circle class="g" cx="1200.7" cy="1554.1" r="8.1"/>
<circle class="g" cx="1200.2" cy="1556.5" r="8.1"/>
<circle class="g" cx="1213.0" cy="1556.9" r="8.1"/>
<circle class="g" cx="1208.5" cy="1562.9" r="8.1"/>
<circle class="g" cx="1207.0" cy="1554.8" r="8.1"/>
<circle class="g" cx="1212.8" cy="1557.8" r="8.1"/>
<circle class="g" cx="1333.3" cy="1358.8" r="8.1"/>
<circle class="g" cx="1334.3" cy="1510.1" r="8.1"/>
<circle class="g" cx="1326.0" cy="1532.3" r="8.1"/>
<circle class="g" cx="1342.2" cy="1547.8" r="8.1"/>
<circle class="g" cx="1325.6" cy="1552.0" r="8.1"/>
<circle class="g" cx="1347.2" cy="1557.7" r="8.1"/>
<circle class="g" cx="1334.9" cy="1549.6" r="8.1"/>
<circle class="g" cx="1331.4" cy="1555.6" r="8.1"/>
<circle class="g" cx="1328.9" cy="1549.4" r="8.1"/>
<circle class="g" cx="1347.0" cy="1551.8" r="8.1"/>
<circle class="g" cx="1344.2" cy="1556.0" r="8.1"/>
<circle class="g" cx="1327.9" cy="1553.5" r="8.1"/>
<circle class="g" cx="1347.8" cy="1552.9" r="8.1"/>
<circle class="g" cx="1327.8" cy="1549.6" r="8.1"/>
<circle class="g" cx="1341.9" cy="1556.3" r="8.1"/>
<circle class="g" cx="1323.7" cy="1550.3" r="8.1"/>
<circle class="g" cx="1341.4" cy="1555.7" r="8.1"/>
<circle class="g" cx="1402.2" cy="1556.1" r="8.1"/>
<circle class="g" cx="1404.3" cy="1566.5" r="8.1"/>
<circle class="g" cx="1465.4" cy="1446.4" r="8.1"/>
<circle class="g" cx="1577.6" cy="1564.4" r="8.1"/>
<circle class="g" cx="1635.1" cy="1564.9" r="8.1"/>
<circle class="g" cx="1639.8" cy="1565.7" r="8.1"/>
<circle class="g" cx="1646.0" cy="1566.5" r="8.1"/>
<circle class="g" cx="1652.2" cy="1565.7" r="8.1"/>
<circle class="g" cx="1659.9" cy="1564.9" r="8.1"/>
<circle class="g" cx="1655.3" cy="1557.1" r="8.1"/>
<circle class="g" cx="1279.0" cy="1215.5" r="8.1"/>
<circle class="g" cx="1264.6" cy="1225.9" r="8.1"/>
<circle class="g" cx="1269.7" cy="1254.2" r="8.1"/>
<circle class="g" cx="1277.0" cy="1274.5" r="8.1"/>
<circle class="g" cx="1282.8" cy="1294.2" r="8.1"/>
<circle class="g" cx="1281.1" cy="1310.1" r="8.1"/>
<circle class="g" cx="1271.2" cy="1326.7" r="8.1"/>
<circle class="g" cx="1275.9" cy="1337.7" r="8.1"/>
<circle class="g" cx="1282.2" cy="1342.9" r="8.1"/>
<circle class="g" cx="1261.4" cy="1397.7" r="8.1"/>
<circle class="g" cx="1278.0" cy="1392.5" r="8.1"/>
<circle class="g" cx="1271.8" cy="1394.6" r="8.1"/>
<circle class="g" cx="1265.6" cy="1394.6" r="8.1"/>
<circle class="g" cx="1282.2" cy="1395.7" r="8.1"/>
<circle class="g" cx="1261.4" cy="1412.2" r="8.1"/>
<circle class="g" cx="1278.0" cy="1411.2" r="8.1"/>
<circle class="g" cx="1265.6" cy="1419.5" r="8.1"/>
<circle class="g" cx="1269.7" cy="1409.1" r="8.1"/>
<circle class="g" cx="1262.9" cy="1442.2" r="8.1"/>
<circle class="g" cx="1282.2" cy="1442.2" r="8.1"/>
<circle class="g" cx="1282.2" cy="1468.1" r="8.1"/>
<circle class="g" cx="1265.6" cy="1479.5" r="8.1"/>
<circle class="g" cx="1278.0" cy="1481.6" r="8.1"/>
<circle class="g" cx="1271.8" cy="1477.4" r="8.1"/>
<circle class="g" cx="1264.6" cy="1499.2" r="8.1"/>
<circle class="g" cx="1283.2" cy="1497.1" r="8.1"/>
<circle class="g" cx="1280.1" cy="1502.3" r="8.1"/>
<circle class="g" cx="1284.2" cy="1516.8" r="8.1"/>
<circle class="g" cx="1257.3" cy="1525.1" r="8.1"/>
<circle class="g" cx="1289.4" cy="1523.0" r="8.1"/>
<circle class="g" cx="1286.3" cy="1531.3" r="8.1"/>
<circle class="g" cx="224.7" cy="1335.4" r="8.1"/>
<circle class="g" cx="220.5" cy="1353.5" r="8.1"/>
<circle class="g" cx="227.5" cy="1353.5" r="8.1"/>
<circle class="g" cx="207.2" cy="1371.0" r="8.1"/>
<circle class="g" cx="205.1" cy="1412.0" r="8.1"/>
<circle class="g" cx="212.1" cy="1404.0" r="8.1"/>
<circle class="g" cx="206.6" cy="1416.0" r="8.1"/>
<circle class="g" cx="224.7" cy="1430.0" r="8.1"/>
<circle class="g" cx="221.9" cy="1434.6" r="8.1"/>
<circle class="g" cx="223.3" cy="1444.0" r="8.1"/>
<circle class="g" cx="204.6" cy="1487.7" r="8.1"/>
<circle class="g" cx="204.6" cy="1504.0" r="8.1"/>
<circle class="g" cx="204.6" cy="1521.0" r="8.1"/>
<circle class="g" cx="227.5" cy="1501.7" r="8.1"/>
<circle class="g" cx="228.1" cy="1518.0" r="8.1"/>
<circle class="g" cx="208.6" cy="1530.0" r="8.1"/>
<circle class="g" cx="225.6" cy="1535.0" r="8.1"/>
<circle class="g" cx="205.6" cy="1545.0" r="8.1"/>
<circle class="g" cx="227.6" cy="1550.0" r="8.1"/>
<circle class="g" cx="217.7" cy="1545.9" r="8.1"/>
<circle class="g" cx="219.2" cy="1549.2" r="8.1"/>
<circle class="g" cx="205.8" cy="1555.6" r="8.1"/>
<circle class="g" cx="225.0" cy="1540.3" r="8.1"/>
<circle class="g" cx="210.0" cy="1546.5" r="8.1"/>
<circle class="g" cx="215.9" cy="1564.9" r="8.1"/>
<circle class="g" cx="216.0" cy="1560.9" r="8.1"/>
<circle class="g" cx="207.9" cy="1556.0" r="8.1"/>
<circle class="g" cx="225.7" cy="1555.9" r="8.1"/>
<circle class="g" cx="222.6" cy="1553.1" r="8.1"/>
<circle class="g" cx="205.8" cy="1556.8" r="8.1"/>
<circle class="g" cx="218.9" cy="1559.0" r="8.1"/>
<circle class="g" cx="205.0" cy="1547.5" r="8.1"/>
<circle class="g" cx="215.9" cy="1561.6" r="8.1"/>
<circle class="g" cx="226.0" cy="1558.0" r="8.1"/>
<circle class="g" cx="227.0" cy="1557.9" r="8.1"/>
<circle class="g" cx="224.1" cy="1549.9" r="8.1"/>
<circle class="g" cx="227.4" cy="1551.1" r="8.1"/>
<circle class="g" cx="206.6" cy="1562.0" r="8.1"/>
<circle class="g" cx="209.6" cy="1543.4" r="8.1"/>
<circle class="g" cx="215.0" cy="1564.1" r="8.1"/>
<circle class="g" cx="211.7" cy="1555.7" r="8.1"/>
<circle class="g" cx="213.8" cy="1552.7" r="8.1"/>
<circle class="g" cx="218.7" cy="1548.8" r="8.1"/>
<circle class="g" cx="226.6" cy="1554.6" r="8.1"/>
<circle class="g" cx="227.2" cy="1557.0" r="8.1"/>
<circle class="g" cx="228.8" cy="1561.4" r="8.1"/>
<circle class="g" cx="208.2" cy="1556.8" r="8.1"/>
<circle class="g" cx="228.1" cy="1561.5" r="8.1"/>
<circle class="g" cx="218.3" cy="1562.6" r="8.1"/>
<circle class="g" cx="283.4" cy="1336.8" r="8.1"/>
<circle class="g" cx="287.5" cy="1364.5" r="8.1"/>
<circle class="g" cx="272.1" cy="1332.1" r="8.1"/>
<circle class="g" cx="272.0" cy="1329.6" r="8.1"/>
<circle class="g" cx="269.6" cy="1367.7" r="8.1"/>
<circle class="g" cx="271.7" cy="1354.5" r="8.1"/>
<circle class="g" cx="277.1" cy="1339.2" r="8.1"/>
<circle class="g" cx="281.5" cy="1374.4" r="8.1"/>
<circle class="g" cx="273.2" cy="1320.9" r="8.1"/>
<circle class="g" cx="288.0" cy="1329.5" r="8.1"/>
<circle class="g" cx="286.4" cy="1372.6" r="8.1"/>
<circle class="g" cx="284.9" cy="1373.7" r="8.1"/>
<circle class="g" cx="286.1" cy="1381.7" r="8.1"/>
<circle class="g" cx="287.5" cy="1336.7" r="8.1"/>
<circle class="g" cx="285.1" cy="1351.6" r="8.1"/>
<circle class="g" cx="277.0" cy="1356.7" r="8.1"/>
<circle class="g" cx="277.0" cy="1343.7" r="8.1"/>
<circle class="g" cx="269.3" cy="1340.4" r="8.1"/>
<circle class="g" cx="286.2" cy="1373.3" r="8.1"/>
<circle class="g" cx="283.5" cy="1384.1" r="8.1"/>
<circle class="g" cx="285.0" cy="1356.0" r="8.1"/>
<circle class="g" cx="283.2" cy="1328.8" r="8.1"/>
<circle class="g" cx="270.8" cy="1348.8" r="8.1"/>
<circle class="g" cx="279.4" cy="1333.2" r="8.1"/>
<circle class="g" cx="277.8" cy="1336.5" r="8.1"/>
<circle class="g" cx="276.2" cy="1359.4" r="8.1"/>
<circle class="g" cx="278.6" cy="1328.5" r="8.1"/>
<circle class="g" cx="272.2" cy="1335.3" r="8.1"/>
<circle class="g" cx="275.5" cy="1332.6" r="8.1"/>
<circle class="g" cx="282.5" cy="1324.8" r="8.1"/>
<circle class="g" cx="276.1" cy="1382.0" r="8.1"/>
<circle class="g" cx="289.5" cy="1366.7" r="8.1"/>
<circle class="g" cx="269.9" cy="1322.8" r="8.1"/>
<circle class="g" cx="287.2" cy="1372.4" r="8.1"/>
<circle class="g" cx="270.4" cy="1361.5" r="8.1"/>
<circle class="g" cx="287.9" cy="1346.9" r="8.1"/>
<circle class="g" cx="286.3" cy="1377.6" r="8.1"/>
<circle class="g" cx="287.6" cy="1333.2" r="8.1"/>
<circle class="g" cx="284.2" cy="1344.4" r="8.1"/>
<circle class="g" cx="290.5" cy="1328.9" r="8.1"/>
<circle class="g" cx="284.3" cy="1359.2" r="8.1"/>
<circle class="g" cx="281.7" cy="1333.8" r="8.1"/>
<circle class="g" cx="281.1" cy="1357.8" r="8.1"/>
<circle class="g" cx="284.4" cy="1343.4" r="8.1"/>
<circle class="g" cx="273.7" cy="1342.2" r="8.1"/>
<circle class="g" cx="283.4" cy="1330.7" r="8.1"/>
<circle class="g" cx="272.0" cy="1327.3" r="8.1"/>
<circle class="g" cx="282.3" cy="1324.5" r="8.1"/>
<circle class="g" cx="279.9" cy="1356.1" r="8.1"/>
<circle class="g" cx="277.3" cy="1322.5" r="8.1"/>
<circle class="g" cx="268.7" cy="1342.3" r="8.1"/>
<circle class="g" cx="291.1" cy="1320.2" r="8.1"/>
<circle class="g" cx="273.9" cy="1327.9" r="8.1"/>
<circle class="g" cx="281.2" cy="1337.5" r="8.1"/>
<circle class="g" cx="278.0" cy="1325.0" r="8.1"/>
<circle class="g" cx="287.1" cy="1343.8" r="8.1"/>
<circle class="g" cx="274.7" cy="1320.4" r="8.1"/>
<circle class="g" cx="290.4" cy="1352.3" r="8.1"/>
<circle class="g" cx="278.2" cy="1353.6" r="8.1"/>
<circle class="g" cx="273.7" cy="1363.5" r="8.1"/>
<circle class="g" cx="278.8" cy="1322.1" r="8.1"/>
<circle class="g" cx="284.7" cy="1379.2" r="8.1"/>
<circle class="g" cx="283.4" cy="1336.8" r="8.1"/>
<circle class="g" cx="272.8" cy="1375.2" r="8.1"/>
<circle class="g" cx="275.2" cy="1358.2" r="8.1"/>
<circle class="g" cx="273.5" cy="1335.9" r="8.1"/>
<circle class="g" cx="275.1" cy="1333.3" r="8.1"/>
<circle class="g" cx="276.3" cy="1322.5" r="8.1"/>
<circle class="g" cx="285.2" cy="1325.6" r="8.1"/>
<circle class="g" cx="266.5" cy="1359.0" r="8.1"/>
<circle class="g" cx="284.6" cy="1390.9" r="8.1"/>
<circle class="g" cx="288.0" cy="1420.9" r="8.1"/>
<circle class="g" cx="278.4" cy="1399.9" r="8.1"/>
<circle class="g" cx="284.0" cy="1425.4" r="8.1"/>
<circle class="g" cx="284.4" cy="1401.7" r="8.1"/>
<circle class="g" cx="285.7" cy="1406.8" r="8.1"/>
<circle class="g" cx="277.9" cy="1391.5" r="8.1"/>
<circle class="g" cx="279.8" cy="1434.6" r="8.1"/>
<circle class="g" cx="286.0" cy="1399.3" r="8.1"/>
<circle class="g" cx="276.9" cy="1419.7" r="8.1"/>
<circle class="g" cx="284.1" cy="1415.3" r="8.1"/>
<circle class="g" cx="283.9" cy="1394.1" r="8.1"/>
<circle class="g" cx="279.5" cy="1391.8" r="8.1"/>
<circle class="g" cx="277.7" cy="1389.6" r="8.1"/>
<circle class="g" cx="280.4" cy="1438.8" r="8.1"/>
<circle class="g" cx="280.9" cy="1439.5" r="8.1"/>
<circle class="g" cx="283.9" cy="1493.8" r="8.1"/>
<circle class="g" cx="285.0" cy="1485.8" r="8.1"/>
<circle class="g" cx="283.9" cy="1494.5" r="8.1"/>
<circle class="g" cx="288.8" cy="1490.8" r="8.1"/>
<circle class="g" cx="291.2" cy="1490.0" r="8.1"/>
<circle class="g" cx="286.3" cy="1468.4" r="8.1"/>
<circle class="g" cx="285.9" cy="1484.8" r="8.1"/>
<circle class="g" cx="285.5" cy="1469.2" r="8.1"/>
<circle class="g" cx="290.3" cy="1490.0" r="8.1"/>
<circle class="g" cx="285.4" cy="1487.9" r="8.1"/>
<circle class="g" cx="287.6" cy="1492.4" r="8.1"/>
<circle class="g" cx="287.2" cy="1468.1" r="8.1"/>
<circle class="g" cx="284.4" cy="1474.7" r="8.1"/>
<circle class="g" cx="286.5" cy="1479.8" r="8.1"/>
<circle class="g" cx="290.7" cy="1479.9" r="8.1"/>
<circle class="g" cx="286.8" cy="1482.6" r="8.1"/>
<circle class="g" cx="291.2" cy="1490.2" r="8.1"/>
<circle class="g" cx="290.8" cy="1477.2" r="8.1"/>
<circle class="g" cx="284.8" cy="1460.7" r="8.1"/>
<circle class="g" cx="290.7" cy="1466.0" r="8.1"/>
<circle class="g" cx="289.1" cy="1484.2" r="8.1"/>
<circle class="g" cx="287.5" cy="1470.0" r="8.1"/>
<circle class="g" cx="283.7" cy="1518.5" r="8.1"/>
<circle class="g" cx="283.2" cy="1522.1" r="8.1"/>
<circle class="g" cx="286.3" cy="1521.6" r="8.1"/>
<circle class="g" cx="285.9" cy="1511.8" r="8.1"/>
<circle class="g" cx="281.1" cy="1495.7" r="8.1"/>
<circle class="g" cx="278.8" cy="1516.8" r="8.1"/>
<circle class="g" cx="281.3" cy="1543.3" r="8.1"/>
<circle class="g" cx="290.6" cy="1546.3" r="8.1"/>
<circle class="g" cx="289.7" cy="1511.5" r="8.1"/>
<circle class="g" cx="286.4" cy="1547.5" r="8.1"/>
<circle class="g" cx="283.4" cy="1496.8" r="8.1"/>
<circle class="g" cx="281.1" cy="1535.7" r="8.1"/>
<circle class="g" cx="281.3" cy="1509.6" r="8.1"/>
<circle class="g" cx="288.1" cy="1511.8" r="8.1"/>
<circle class="g" cx="282.9" cy="1517.6" r="8.1"/>
<circle class="g" cx="290.4" cy="1536.8" r="8.1"/>
<circle class="g" cx="277.4" cy="1514.0" r="8.1"/>
<circle class="g" cx="288.8" cy="1558.3" r="8.1"/>
<circle class="g" cx="284.3" cy="1546.4" r="8.1"/>
<circle class="g" cx="279.0" cy="1510.3" r="8.1"/>
<circle class="g" cx="283.4" cy="1514.8" r="8.1"/>
<circle class="g" cx="286.9" cy="1499.3" r="8.1"/>
<circle class="g" cx="277.0" cy="1542.3" r="8.1"/>
<circle class="g" cx="283.9" cy="1549.8" r="8.1"/>
<circle class="g" cx="283.6" cy="1554.7" r="8.1"/>
<circle class="g" cx="283.3" cy="1546.7" r="8.1"/>
<circle class="g" cx="284.0" cy="1534.8" r="8.1"/>
<circle class="g" cx="278.9" cy="1496.5" r="8.1"/>
<circle class="g" cx="282.6" cy="1510.1" r="8.1"/>
<circle class="g" cx="284.6" cy="1519.0" r="8.1"/>
<circle class="g" cx="282.6" cy="1537.9" r="8.1"/>
<circle class="g" cx="284.2" cy="1515.8" r="8.1"/>
<circle class="g" cx="288.1" cy="1556.9" r="8.1"/>
<circle class="g" cx="288.6" cy="1537.6" r="8.1"/>
<circle class="g" cx="278.2" cy="1509.8" r="8.1"/>
<circle class="g" cx="278.5" cy="1501.1" r="8.1"/>
<circle class="g" cx="285.8" cy="1495.6" r="8.1"/>
<circle class="g" cx="278.4" cy="1554.7" r="8.1"/>
<circle class="g" cx="290.3" cy="1539.6" r="8.1"/>
<circle class="g" cx="279.0" cy="1544.7" r="8.1"/>
<circle class="g" cx="269.9" cy="1531.1" r="8.1"/>
<circle class="g" cx="272.1" cy="1513.8" r="8.1"/>
<circle class="g" cx="269.5" cy="1538.2" r="8.1"/>
<circle class="g" cx="270.9" cy="1545.3" r="8.1"/>
<circle class="g" cx="269.5" cy="1553.1" r="8.1"/>
<circle class="g" cx="270.9" cy="1502.9" r="8.1"/>
<circle class="g" cx="270.4" cy="1528.7" r="8.1"/>
<circle class="g" cx="269.4" cy="1504.5" r="8.1"/>
<circle class="g" cx="272.1" cy="1547.4" r="8.1"/>
<circle class="g" cx="271.4" cy="1549.8" r="8.1"/>
<circle class="g" cx="272.7" cy="1531.6" r="8.1"/>
<circle class="g" cx="272.2" cy="1554.9" r="8.1"/>
<circle class="g" cx="267.7" cy="1524.1" r="8.1"/>
<circle class="g" cx="270.9" cy="1520.9" r="8.1"/>
<circle class="g" cx="276.4" cy="1468.7" r="8.1"/>
<circle class="g" cx="270.0" cy="1492.8" r="8.1"/>
<circle class="g" cx="275.1" cy="1482.1" r="8.1"/>
<circle class="g" cx="267.8" cy="1476.4" r="8.1"/>
<circle class="g" cx="271.2" cy="1441.5" r="8.1"/>
<circle class="g" cx="269.5" cy="1481.1" r="8.1"/>
<circle class="g" cx="1266.7" cy="1505.0" r="8.1"/>
<circle class="g" cx="1283.8" cy="1519.7" r="8.1"/>
<circle class="g" cx="1279.3" cy="1532.3" r="8.1"/>
<circle class="g" cx="1274.1" cy="1506.5" r="8.1"/>
<circle class="g" cx="1274.4" cy="1554.8" r="8.1"/>
<circle class="g" cx="1283.3" cy="1561.4" r="8.1"/>
<circle class="g" cx="1261.4" cy="1524.1" r="8.1"/>
<circle class="g" cx="1264.6" cy="1549.1" r="8.1"/>
<circle class="g" cx="1279.6" cy="1500.6" r="8.1"/>
<circle class="g" cx="1282.2" cy="1554.8" r="8.1"/>
<circle class="g" cx="1266.4" cy="1562.0" r="8.1"/>
<circle class="g" cx="1264.4" cy="1505.3" r="8.1"/>
<circle class="g" cx="1264.2" cy="1563.6" r="8.1"/>
<circle class="g" cx="1261.9" cy="1510.4" r="8.1"/>
<circle class="g" cx="1262.4" cy="1503.2" r="8.1"/>
<circle class="g" cx="1265.5" cy="1522.9" r="8.1"/>
<circle class="g" cx="1284.5" cy="1520.1" r="8.1"/>
<circle class="g" cx="1281.6" cy="1510.9" r="8.1"/>
<circle class="g" cx="1275.5" cy="1548.0" r="8.1"/>
<circle class="g" cx="1280.5" cy="1537.4" r="8.1"/>
<circle class="g" cx="1267.1" cy="1538.2" r="8.1"/>
<circle class="g" cx="1267.5" cy="1521.4" r="8.1"/>
<circle class="g" cx="1285.9" cy="1526.0" r="8.1"/>
<circle class="g" cx="1263.2" cy="1527.7" r="8.1"/>
<circle class="g" cx="1281.6" cy="1531.0" r="8.1"/>
<circle class="g" cx="1278.8" cy="1529.0" r="8.1"/>
<circle class="g" cx="1263.0" cy="1505.9" r="8.1"/>
<circle class="g" cx="1262.6" cy="1543.0" r="8.1"/>
<circle class="g" cx="1271.0" cy="1519.6" r="8.1"/>
<circle class="g" cx="1262.3" cy="1512.6" r="8.1"/>
<circle class="g" cx="1285.0" cy="1500.4" r="8.1"/>
<circle class="g" cx="1285.0" cy="1544.8" r="8.1"/>
<circle class="g" cx="1285.1" cy="1532.0" r="8.1"/>
<circle class="g" cx="1276.8" cy="1556.1" r="8.1"/>
<circle class="g" cx="1274.0" cy="1534.1" r="8.1"/>
<circle class="g" cx="1270.8" cy="1514.7" r="8.1"/>
<circle class="g" cx="1266.3" cy="1547.0" r="8.1"/>
<circle class="g" cx="1274.1" cy="1555.2" r="8.1"/>
<circle class="g" cx="1281.8" cy="1539.3" r="8.1"/>
<circle class="g" cx="1264.8" cy="1542.0" r="8.1"/>
<circle class="g" cx="1261.5" cy="1516.1" r="8.1"/>
<circle class="g" cx="1285.0" cy="1501.8" r="8.1"/>
<circle class="g" cx="1285.5" cy="1538.5" r="8.1"/>
<circle class="g" cx="1269.3" cy="1550.7" r="8.1"/>
<circle class="g" cx="1284.3" cy="1562.9" r="8.1"/>
<circle class="g" cx="1263.5" cy="1529.7" r="8.1"/>
<circle class="g" cx="1265.6" cy="1520.7" r="8.1"/>
<circle class="g" cx="1263.5" cy="1523.8" r="8.1"/>
<circle class="g" cx="1285.7" cy="1546.4" r="8.1"/>
<circle class="g" cx="1280.8" cy="1513.7" r="8.1"/>
<circle class="g" cx="391.4" cy="1557.8" r="8.1"/>
<circle class="g" cx="396.3" cy="1550.5" r="8.1"/>
<circle class="g" cx="407.6" cy="1559.7" r="8.1"/>
<circle class="g" cx="392.9" cy="1562.8" r="8.1"/>
<circle class="g" cx="391.5" cy="1553.4" r="8.1"/>
<circle class="g" cx="403.3" cy="1549.4" r="8.1"/>
<circle class="g" cx="395.7" cy="1545.5" r="8.1"/>
<circle class="g" cx="404.3" cy="1558.0" r="8.1"/>
<circle class="g" cx="405.4" cy="1549.4" r="8.1"/>
<circle class="g" cx="390.9" cy="1561.2" r="8.1"/>
<circle class="g" cx="408.1" cy="1561.1" r="8.1"/>
<circle class="g" cx="394.6" cy="1551.8" r="8.1"/>
<circle class="g" cx="465.1" cy="1557.7" r="8.1"/>
<circle class="g" cx="461.4" cy="1555.8" r="8.1"/>
<circle class="g" cx="453.2" cy="1555.7" r="8.1"/>
<circle class="g" cx="455.9" cy="1557.8" r="8.1"/>
<circle class="g" cx="471.4" cy="1558.1" r="8.1"/>
<circle class="g" cx="468.5" cy="1555.4" r="8.1"/>
<circle class="g" cx="472.7" cy="1556.4" r="8.1"/>
<circle class="g" cx="458.2" cy="1562.4" r="8.1"/>
<circle class="b" cx="403.0" cy="167.1" r="8.1"/>
<circle class="b" cx="1029.5" cy="874.3" r="8.1"/>
<circle class="b" cx="1657.1" cy="906.2" r="8.1"/>
<circle class="b" cx="206.5" cy="1064.5" r="8.1"/>
<circle class="b" cx="204.4" cy="1104.4" r="8.1"/>
<circle class="b" cx="225.3" cy="1113.7" r="8.1"/>
<circle class="b" cx="221.4" cy="1120.0" r="8.1"/>
<circle class="b" cx="269.9" cy="859.5" r="8.1"/>
<circle class="b" cx="277.5" cy="911.3" r="8.1"/>
<circle class="b" cx="267.0" cy="977.5" r="8.1"/>
<circle class="b" cx="278.6" cy="1021.4" r="8.1"/>
<circle class="b" cx="272.3" cy="1030.9" r="8.1"/>
<circle class="b" cx="274.4" cy="1074.8" r="8.1"/>
<circle class="b" cx="268.4" cy="1106.9" r="8.1"/>
<circle class="b" cx="276.3" cy="1120.0" r="8.1"/>
<circle class="b" cx="290.4" cy="1121.6" r="8.1"/>
<circle class="b" cx="280.8" cy="1152.0" r="8.1"/>
<circle class="b" cx="277.5" cy="1174.4" r="8.1"/>
<circle class="b" cx="463.0" cy="869.0" r="8.1"/>
<circle class="b" cx="477.5" cy="933.6" r="8.1"/>
<circle class="b" cx="470.7" cy="1127.8" r="8.1"/>
<circle class="b" cx="219.5" cy="1191.3" r="8.1"/>
<circle class="b" cx="214.3" cy="1196.5" r="8.1"/>
<circle class="b" cx="214.3" cy="1210.0" r="8.1"/>
<circle class="b" cx="203.9" cy="1216.5" r="8.1"/>
<circle class="b" cx="214.9" cy="1229.5" r="8.1"/>
<circle class="b" cx="208.5" cy="1241.4" r="8.1"/>
<circle class="b" cx="212.3" cy="1289.6" r="8.1"/>
<circle class="b" cx="204.6" cy="1316.2" r="8.1"/>
<circle class="b" cx="287.4" cy="1196.5" r="8.1"/>
<circle class="b" cx="276.4" cy="1208.1" r="8.1"/>
<circle class="b" cx="279.6" cy="1241.7" r="8.1"/>
<circle class="b" cx="277.0" cy="1248.2" r="8.1"/>
<circle class="b" cx="269.3" cy="1253.4" r="8.1"/>
<circle class="b" cx="407.7" cy="1248.9" r="8.1"/>
<circle class="b" cx="397.0" cy="1514.4" r="8.1"/>
<circle class="b" cx="389.1" cy="1538.2" r="8.1"/>
<circle class="b" cx="409.8" cy="1534.0" r="8.1"/>
<circle class="b" cx="404.6" cy="1541.3" r="8.1"/>
<circle class="b" cx="456.8" cy="1375.7" r="8.1"/>
<circle class="b" cx="456.8" cy="1478.8" r="8.1"/>
<circle class="b" cx="475.0" cy="1528.9" r="8.1"/>
<circle class="b" cx="455.4" cy="1546.5" r="8.1"/>
<circle class="b" cx="459.5" cy="1547.5" r="8.1"/>
<circle class="b" cx="451.2" cy="1564.5" r="8.1"/>
<circle class="b" cx="457.4" cy="1563.4" r="8.1"/>
<circle class="b" cx="462.6" cy="1564.7" r="8.1"/>
<circle class="b" cx="478.1" cy="1563.0" r="8.1"/>
<circle class="b" cx="474.0" cy="1564.7" r="8.1"/>
<circle class="b" cx="468.8" cy="1561.0" r="8.1"/>
<circle class="b" cx="523.5" cy="1564.8" r="8.1"/>
<circle class="b" cx="530.5" cy="1564.5" r="8.1"/>
<circle class="b" cx="534.3" cy="1564.8" r="8.1"/>
<circle class="b" cx="660.9" cy="1440.6" r="8.1"/>
<circle class="b" cx="647.7" cy="1488.7" r="8.1"/>
<circle class="b" cx="655.9" cy="1494.1" r="8.1"/>
<circle class="b" cx="649.6" cy="1530.9" r="8.1"/>
<circle class="b" cx="645.4" cy="1547.4" r="8.1"/>
<circle class="b" cx="640.3" cy="1564.0" r="8.1"/>
<circle class="b" cx="644.8" cy="1564.0" r="8.1"/>
<circle class="b" cx="648.7" cy="1564.2" r="8.1"/>
<circle class="b" cx="653.1" cy="1563.9" r="8.1"/>
<circle class="b" cx="656.9" cy="1563.4" r="8.1"/>
<circle class="b" cx="660.5" cy="1563.5" r="8.1"/>
<circle class="b" cx="703.6" cy="1564.5" r="8.1"/>
<circle class="b" cx="836.0" cy="1103.2" r="8.1"/>
<circle class="b" cx="645.5" cy="1182.9" r="8.1"/>
<circle class="b" cx="645.3" cy="1346.4" r="8.1"/>
<circle class="b" cx="766.0" cy="1291.1" r="8.1"/>
<circle class="b" cx="775.3" cy="1288.0" r="8.1"/>
<circle class="b" cx="770.8" cy="1335.2" r="8.1"/>
<circle class="b" cx="781.1" cy="1374.6" r="8.1"/>
<circle class="b" cx="778.8" cy="1439.8" r="8.1"/>
<circle class="b" cx="787.3" cy="1470.2" r="8.1"/>
<circle class="b" cx="783.6" cy="1485.3" r="8.1"/>
<circle class="b" cx="777.4" cy="1507.5" r="8.1"/>
<circle class="b" cx="784.6" cy="1506.5" r="8.1"/>
<circle class="b" cx="777.4" cy="1523.0" r="8.1"/>
<circle class="b" cx="846.5" cy="1489.9" r="8.1"/>
<circle class="b" cx="787.2" cy="1548.6" r="8.1"/>
<circle class="b" cx="764.7" cy="1562.9" r="8.1"/>
<circle class="b" cx="768.7" cy="1563.5" r="8.1"/>
<circle class="b" cx="772.5" cy="1562.6" r="8.1"/>
<circle class="b" cx="776.2" cy="1564.0" r="8.1"/>
<circle class="b" cx="780.0" cy="1564.4" r="8.1"/>
<circle class="b" cx="783.9" cy="1564.2" r="8.1"/>
<circle class="b" cx="788.3" cy="1563.5" r="8.1"/>
<circle class="b" cx="851.0" cy="1550.8" r="8.1"/>
<circle class="b" cx="829.2" cy="1564.8" r="8.1"/>
<circle class="b" cx="832.9" cy="1564.1" r="8.1"/>
<circle class="b" cx="837.9" cy="1564.1" r="8.1"/>
<circle class="b" cx="841.6" cy="1563.4" r="8.1"/>
<circle class="b" cx="845.8" cy="1562.8" r="8.1"/>
<circle class="b" cx="895.7" cy="1552.0" r="8.1"/>
<circle class="b" cx="897.5" cy="1562.9" r="8.1"/>
<circle class="b" cx="902.1" cy="1565.4" r="8.1"/>
<circle class="b" cx="905.7" cy="1563.1" r="8.1"/>
<circle class="b" cx="910.1" cy="1564.2" r="8.1"/>
<circle class="b" cx="1018.4" cy="1348.2" r="8.1"/>
<circle class="b" cx="1015.3" cy="1564.4" r="8.1"/>
<circle class="b" cx="1029.8" cy="1564.8" r="8.1"/>
<circle class="b" cx="1088.4" cy="1479.1" r="8.1"/>
<circle class="b" cx="1086.7" cy="1533.3" r="8.1"/>
<circle class="b" cx="1088.8" cy="1537.5" r="8.1"/>
<circle class="b" cx="1083.2" cy="1557.2" r="8.1"/>
<circle class="b" cx="1086.3" cy="1561.7" r="8.1"/>
<circle class="b" cx="1084.3" cy="1560.0" r="8.1"/>
<circle class="b" cx="1088.3" cy="1562.4" r="8.1"/>
<circle class="b" cx="1083.6" cy="1564.8" r="8.1"/>
<circle class="b" cx="1085.7" cy="1558.0" r="8.1"/>
<circle class="b" cx="1082.7" cy="1561.8" r="8.1"/>
<circle class="b" cx="1078.3" cy="1554.7" r="8.1"/>
<circle class="b" cx="1076.4" cy="1553.0" r="8.1"/>
<circle class="b" cx="1079.1" cy="1554.9" r="8.1"/>
<circle class="b" cx="1077.0" cy="1561.4" r="8.1"/>
<circle class="b" cx="1078.5" cy="1562.0" r="8.1"/>
<circle class="b" cx="1077.2" cy="1556.6" r="8.1"/>
<circle class="b" cx="1075.7" cy="1563.5" r="8.1"/>
<circle class="b" cx="1091.0" cy="1561.3" r="8.1"/>
<circle class="b" cx="1079.4" cy="1551.7" r="8.1"/>
<circle class="b" cx="1091.2" cy="1564.6" r="8.1"/>
<circle class="b" cx="1093.7" cy="1556.4" r="8.1"/>
<circle class="b" cx="1085.4" cy="1564.3" r="8.1"/>
<circle class="b" cx="1093.1" cy="1552.3" r="8.1"/>
<circle class="b" cx="1095.7" cy="1563.5" r="8.1"/>
<circle class="b" cx="1086.0" cy="1550.4" r="8.1"/>
<circle class="b" cx="1092.1" cy="1560.4" r="8.1"/>
<circle class="b" cx="1093.1" cy="1553.4" r="8.1"/>
<circle class="b" cx="1098.2" cy="1558.5" r="8.1"/>
<circle class="b" cx="1083.0" cy="1561.9" r="8.1"/>
<circle class="b" cx="1098.2" cy="1557.7" r="8.1"/>
<circle class="b" cx="1090.8" cy="1560.3" r="8.1"/>
<circle class="b" cx="1091.6" cy="1563.0" r="8.1"/>
<circle class="b" cx="1075.0" cy="1556.4" r="8.1"/>
<circle class="b" cx="1094.5" cy="1554.8" r="8.1"/>
<circle class="b" cx="1095.6" cy="1558.9" r="8.1"/>
<circle class="b" cx="1086.8" cy="1560.6" r="8.1"/>
<circle class="b" cx="1084.2" cy="1560.1" r="8.1"/>
<circle class="b" cx="1095.9" cy="1557.0" r="8.1"/>
<circle class="b" cx="1091.4" cy="1557.9" r="8.1"/>
<circle class="b" cx="1090.4" cy="1554.8" r="8.1"/>
<circle class="b" cx="1095.6" cy="1554.6" r="8.1"/>
<circle class="b" cx="1092.2" cy="1564.0" r="8.1"/>
<circle class="b" cx="1083.8" cy="1551.8" r="8.1"/>
<circle class="b" cx="1094.1" cy="1560.3" r="8.1"/>
<circle class="b" cx="1075.2" cy="1559.8" r="8.1"/>
<circle class="b" cx="1095.0" cy="1552.4" r="8.1"/>
<circle class="b" cx="1092.4" cy="1553.2" r="8.1"/>
<circle class="b" cx="1078.0" cy="1559.8" r="8.1"/>
<circle class="b" cx="1088.8" cy="1553.4" r="8.1"/>
<circle class="b" cx="1075.8" cy="1556.6" r="8.1"/>
<circle class="b" cx="1097.9" cy="1560.9" r="8.1"/>
<circle class="b" cx="1075.9" cy="1558.9" r="8.1"/>
<circle class="b" cx="1086.1" cy="1564.6" r="8.1"/>
<circle class="b" cx="1093.2" cy="1564.3" r="8.1"/>
<circle class="b" cx="1097.3" cy="1554.8" r="8.1"/>
<circle class="b" cx="1076.7" cy="1554.2" r="8.1"/>
<circle class="b" cx="1096.6" cy="1552.9" r="8.1"/>
<circle class="b" cx="1085.6" cy="1564.5" r="8.1"/>
<circle class="b" cx="1093.6" cy="1560.0" r="8.1"/>
<circle class="b" cx="1093.9" cy="1562.0" r="8.1"/>
<circle class="b" cx="1092.3" cy="1559.1" r="8.1"/>
<circle class="b" cx="1075.9" cy="1556.2" r="8.1"/>
<circle class="b" cx="1089.8" cy="1561.9" r="8.1"/>
<circle class="b" cx="1081.9" cy="1563.6" r="8.1"/>
<circle class="b" cx="1099.0" cy="1562.7" r="8.1"/>
<circle class="b" cx="1083.3" cy="1556.8" r="8.1"/>
<circle class="b" cx="1075.3" cy="1557.5" r="8.1"/>
<circle class="b" cx="1076.1" cy="1564.2" r="8.1"/>
<circle class="b" cx="1088.4" cy="1552.4" r="8.1"/>
<circle class="b" cx="1094.8" cy="1560.5" r="8.1"/>
<circle class="b" cx="1094.1" cy="1558.3" r="8.1"/>
<circle class="b" cx="1095.2" cy="1550.7" r="8.1"/>
<circle class="b" cx="1095.5" cy="1555.8" r="8.1"/>
<circle class="b" cx="1079.8" cy="1563.1" r="8.1"/>
<circle class="b" cx="1088.4" cy="1562.8" r="8.1"/>
<circle class="b" cx="1083.8" cy="1562.4" r="8.1"/>
<circle class="b" cx="1090.6" cy="1559.3" r="8.1"/>
<circle class="b" cx="1082.3" cy="1556.2" r="8.1"/>
<circle class="b" cx="1075.7" cy="1560.2" r="8.1"/>
<circle class="b" cx="1089.3" cy="1563.4" r="8.1"/>
<circle class="b" cx="1089.6" cy="1563.8" r="8.1"/>
<circle class="b" cx="1085.4" cy="1561.3" r="8.1"/>
<circle class="b" cx="1085.1" cy="1554.7" r="8.1"/>
<circle class="b" cx="1082.3" cy="1556.7" r="8.1"/>
<circle class="b" cx="1082.8" cy="1558.3" r="8.1"/>
<circle class="b" cx="1086.7" cy="1561.4" r="8.1"/>
<circle class="b" cx="1090.6" cy="1559.2" r="8.1"/>
<circle class="b" cx="1095.6" cy="1551.6" r="8.1"/>
<circle class="b" cx="1080.7" cy="1553.0" r="8.1"/>
<circle class="b" cx="1097.2" cy="1557.2" r="8.1"/>
<circle class="b" cx="1094.3" cy="1561.9" r="8.1"/>
<circle class="b" cx="1096.5" cy="1554.3" r="8.1"/>
<circle class="b" cx="1077.2" cy="1560.8" r="8.1"/>
<circle class="b" cx="1096.8" cy="1559.1" r="8.1"/>
<circle class="b" cx="1079.0" cy="1557.5" r="8.1"/>
<circle class="b" cx="1089.4" cy="1561.1" r="8.1"/>
<circle class="b" cx="1094.3" cy="1563.3" r="8.1"/>
<circle class="b" cx="1085.5" cy="1562.3" r="8.1"/>
<circle class="b" cx="1095.7" cy="1559.1" r="8.1"/>
<circle class="b" cx="1089.8" cy="1562.4" r="8.1"/>
<circle class="b" cx="1096.2" cy="1554.1" r="8.1"/>
<circle class="b" cx="1087.3" cy="1562.3" r="8.1"/>
<circle class="b" cx="1098.1" cy="1552.7" r="8.1"/>
<circle class="b" cx="1091.8" cy="1559.7" r="8.1"/>
<circle class="b" cx="1092.6" cy="1558.5" r="8.1"/>
<circle class="b" cx="1075.9" cy="1555.2" r="8.1"/>
<circle class="b" cx="1092.4" cy="1561.6" r="8.1"/>
<circle class="b" cx="1093.4" cy="1559.3" r="8.1"/>
<circle class="b" cx="1076.0" cy="1555.9" r="8.1"/>
<circle class="b" cx="1099.4" cy="1561.7" r="8.1"/>
<circle class="b" cx="1087.0" cy="1556.9" r="8.1"/>
<circle class="b" cx="1089.7" cy="1553.9" r="8.1"/>
<circle class="b" cx="1085.9" cy="1554.1" r="8.1"/>
<circle class="b" cx="1087.2" cy="1543.0" r="8.1"/>
<circle class="b" cx="1087.4" cy="1546.3" r="8.1"/>
<circle class="b" cx="1079.9" cy="1547.2" r="8.1"/>
<circle class="b" cx="1080.1" cy="1541.9" r="8.1"/>
<circle class="b" cx="1085.8" cy="1549.1" r="8.1"/>
<circle class="b" cx="1085.0" cy="1551.7" r="8.1"/>
<circle class="b" cx="1091.9" cy="1549.8" r="8.1"/>
<circle class="b" cx="1090.8" cy="1544.0" r="8.1"/>
<circle class="b" cx="1088.8" cy="1546.8" r="8.1"/>
<circle class="b" cx="1079.4" cy="1551.8" r="8.1"/>
<circle class="b" cx="1091.8" cy="1541.8" r="8.1"/>
<circle class="b" cx="1092.5" cy="1543.2" r="8.1"/>
<circle class="b" cx="1263.5" cy="835.2" r="8.1"/>
<circle class="b" cx="1271.8" cy="892.8" r="8.1"/>
<circle class="b" cx="1273.0" cy="936.6" r="8.1"/>
<circle class="b" cx="1276.4" cy="1035.0" r="8.1"/>
<circle class="b" cx="1273.5" cy="1105.4" r="8.1"/>
<circle class="b" cx="1284.2" cy="1176.2" r="8.1"/>
<circle class="b" cx="1214.5" cy="1101.2" r="8.1"/>
<circle class="b" cx="1283.8" cy="608.1" r="8.1"/>
<circle class="b" cx="1278.6" cy="735.2" r="8.1"/>
<circle class="b" cx="1212.2" cy="1497.1" r="8.1"/>
<circle class="b" cx="1218.6" cy="1537.9" r="8.1"/>
<circle class="b" cx="1214.2" cy="1542.7" r="8.1"/>
<circle class="b" cx="1215.8" cy="1562.7" r="8.1"/>
<circle class="b" cx="1216.7" cy="1557.0" r="8.1"/>
<circle class="b" cx="1216.4" cy="1558.2" r="8.1"/>
<circle class="b" cx="1216.5" cy="1565.0" r="8.1"/>
<circle class="b" cx="1210.5" cy="1556.4" r="8.1"/>
<circle class="b" cx="1210.2" cy="1564.1" r="8.1"/>
<circle class="b" cx="1208.4" cy="1559.4" r="8.1"/>
<circle class="b" cx="1213.6" cy="1558.9" r="8.1"/>
<circle class="b" cx="1223.0" cy="1564.8" r="8.1"/>
<circle class="b" cx="1220.3" cy="1557.0" r="8.1"/>
<circle class="b" cx="1216.5" cy="1558.3" r="8.1"/>
<circle class="b" cx="1216.8" cy="1560.6" r="8.1"/>
<circle class="b" cx="1214.7" cy="1561.0" r="8.1"/>
<circle class="b" cx="1214.1" cy="1560.0" r="8.1"/>
<circle class="b" cx="1210.7" cy="1557.7" r="8.1"/>
<circle class="b" cx="1218.7" cy="1556.2" r="8.1"/>
<circle class="b" cx="1223.7" cy="1564.2" r="8.1"/>
<circle class="b" cx="1219.1" cy="1562.5" r="8.1"/>
<circle class="b" cx="1220.8" cy="1562.6" r="8.1"/>
<circle class="b" cx="1215.9" cy="1558.1" r="8.1"/>
<circle class="b" cx="1209.2" cy="1560.0" r="8.1"/>
<circle class="b" cx="1218.8" cy="1564.3" r="8.1"/>
<circle class="b" cx="1218.1" cy="1562.6" r="8.1"/>
<circle class="b" cx="1223.8" cy="1557.0" r="8.1"/>
<circle class="b" cx="1223.1" cy="1556.7" r="8.1"/>
<circle class="b" cx="1215.9" cy="1558.3" r="8.1"/>
<circle class="b" cx="1213.3" cy="1564.1" r="8.1"/>
<circle class="b" cx="1224.0" cy="1563.9" r="8.1"/>
<circle class="b" cx="1224.0" cy="1558.5" r="8.1"/>
<circle class="b" cx="1223.6" cy="1564.7" r="8.1"/>
<circle class="b" cx="1214.1" cy="1560.3" r="8.1"/>
<circle class="b" cx="1208.2" cy="1562.6" r="8.1"/>
<circle class="b" cx="1210.7" cy="1558.2" r="8.1"/>
<circle class="b" cx="1209.3" cy="1564.7" r="8.1"/>
<circle class="b" cx="1216.8" cy="1557.2" r="8.1"/>
<circle class="b" cx="1222.4" cy="1558.1" r="8.1"/>
<circle class="b" cx="1212.0" cy="1564.0" r="8.1"/>
<circle class="b" cx="1222.2" cy="1560.8" r="8.1"/>
<circle class="b" cx="1216.3" cy="1556.2" r="8.1"/>
<circle class="b" cx="1220.3" cy="1556.7" r="8.1"/>
<circle class="b" cx="1219.6" cy="1556.1" r="8.1"/>
<circle class="b" cx="1220.6" cy="1551.1" r="8.1"/>
<circle class="b" cx="1219.9" cy="1556.7" r="8.1"/>
<circle class="b" cx="1221.3" cy="1555.7" r="8.1"/>
<circle class="b" cx="1220.7" cy="1556.5" r="8.1"/>
<circle class="b" cx="1344.3" cy="1485.1" r="8.1"/>
<circle class="b" cx="1332.4" cy="1556.9" r="8.1"/>
<circle class="b" cx="1335.9" cy="1563.2" r="8.1"/>
<circle class="b" cx="1343.6" cy="1560.5" r="8.1"/>
<circle class="b" cx="1331.8" cy="1557.2" r="8.1"/>
<circle class="b" cx="1345.0" cy="1557.9" r="8.1"/>
<circle class="b" cx="1339.4" cy="1560.3" r="8.1"/>
<circle class="b" cx="1338.1" cy="1558.7" r="8.1"/>
<circle class="b" cx="1347.1" cy="1556.9" r="8.1"/>
<circle class="b" cx="1330.6" cy="1559.0" r="8.1"/>
<circle class="b" cx="1336.5" cy="1564.8" r="8.1"/>
<circle class="b" cx="1341.3" cy="1561.4" r="8.1"/>
<circle class="b" cx="1347.7" cy="1560.5" r="8.1"/>
<circle class="b" cx="1333.2" cy="1558.6" r="8.1"/>
<circle class="b" cx="1332.4" cy="1561.0" r="8.1"/>
<circle class="b" cx="1340.5" cy="1558.4" r="8.1"/>
<circle class="b" cx="1348.3" cy="1563.2" r="8.1"/>
<circle class="b" cx="1336.5" cy="1563.6" r="8.1"/>
<circle class="b" cx="1326.0" cy="1562.2" r="8.1"/>
<circle class="b" cx="1342.5" cy="1557.8" r="8.1"/>
<circle class="b" cx="1331.9" cy="1563.8" r="8.1"/>
<circle class="b" cx="1348.1" cy="1564.1" r="8.1"/>
<circle class="b" cx="1347.0" cy="1563.9" r="8.1"/>
<circle class="b" cx="1339.3" cy="1560.6" r="8.1"/>
<circle class="b" cx="1336.8" cy="1557.1" r="8.1"/>
<circle class="b" cx="1334.9" cy="1562.5" r="8.1"/>
<circle class="b" cx="1330.6" cy="1560.6" r="8.1"/>
<circle class="b" cx="1335.6" cy="1563.0" r="8.1"/>
<circle class="b" cx="1335.5" cy="1556.6" r="8.1"/>
<circle class="b" cx="1341.4" cy="1564.6" r="8.1"/>
<circle class="b" cx="1331.6" cy="1558.1" r="8.1"/>
<circle class="b" cx="1335.8" cy="1562.1" r="8.1"/>
<circle class="b" cx="1345.4" cy="1556.0" r="8.1"/>
<circle class="b" cx="1324.7" cy="1560.9" r="8.1"/>
<circle class="b" cx="1325.7" cy="1563.3" r="8.1"/>
<circle class="b" cx="1335.1" cy="1563.3" r="8.1"/>
<circle class="b" cx="1333.4" cy="1559.3" r="8.1"/>
<circle class="b" cx="1341.3" cy="1563.5" r="8.1"/>
<circle class="b" cx="1330.1" cy="1557.1" r="8.1"/>
<circle class="b" cx="1332.8" cy="1564.3" r="8.1"/>
<circle class="b" cx="1346.3" cy="1564.2" r="8.1"/>
<circle class="b" cx="1329.5" cy="1564.3" r="8.1"/>
<circle class="b" cx="1340.2" cy="1559.1" r="8.1"/>
<circle class="b" cx="1325.2" cy="1561.3" r="8.1"/>
<circle class="b" cx="1340.3" cy="1560.7" r="8.1"/>
<circle class="b" cx="1328.8" cy="1558.7" r="8.1"/>
<circle class="b" cx="1344.1" cy="1561.7" r="8.1"/>
<circle class="b" cx="1323.7" cy="1556.7" r="8.1"/>
<circle class="b" cx="1325.9" cy="1563.6" r="8.1"/>
<circle class="b" cx="1328.5" cy="1558.9" r="8.1"/>
<circle class="b" cx="1326.4" cy="1560.5" r="8.1"/>
<circle class="b" cx="1328.3" cy="1562.8" r="8.1"/>
<circle class="b" cx="1336.4" cy="1557.0" r="8.1"/>
<circle class="b" cx="1330.2" cy="1563.0" r="8.1"/>
<circle class="b" cx="1331.1" cy="1559.3" r="8.1"/>
<circle class="b" cx="1347.3" cy="1556.4" r="8.1"/>
<circle class="b" cx="1337.8" cy="1562.1" r="8.1"/>
<circle class="b" cx="1336.1" cy="1561.4" r="8.1"/>
<circle class="b" cx="1334.1" cy="1557.1" r="8.1"/>
<circle class="b" cx="1342.8" cy="1560.7" r="8.1"/>
<circle class="b" cx="1341.7" cy="1562.5" r="8.1"/>
<circle class="b" cx="1335.9" cy="1560.3" r="8.1"/>
<circle class="b" cx="1336.5" cy="1556.8" r="8.1"/>
<circle class="b" cx="1339.6" cy="1560.6" r="8.1"/>
<circle class="b" cx="1338.1" cy="1562.4" r="8.1"/>
<circle class="b" cx="1342.9" cy="1564.6" r="8.1"/>
<circle class="b" cx="1461.2" cy="1511.2" r="8.1"/>
<circle class="b" cx="1468.1" cy="1564.4" r="8.1"/>
<circle class="b" cx="1514.0" cy="1564.4" r="8.1"/>
<circle class="b" cx="1645.2" cy="1554.0" r="8.1"/>
<circle class="b" cx="1649.1" cy="1558.7" r="8.1"/>
<circle class="b" cx="1639.8" cy="1560.2" r="8.1"/>
<circle class="b" cx="1652.2" cy="1564.9" r="8.1"/>
<circle class="b" cx="1644.4" cy="1561.8" r="8.1"/>
<circle class="b" cx="1642.5" cy="1216.4" r="8.1"/>
<circle class="b" cx="1283.2" cy="1208.3" r="8.1"/>
<circle class="b" cx="1280.1" cy="1213.5" r="8.1"/>
<circle class="b" cx="1270.8" cy="1251.8" r="8.1"/>
<circle class="b" cx="1279.7" cy="1266.3" r="8.1"/>
<circle class="b" cx="1267.7" cy="1358.4" r="8.1"/>
<circle class="b" cx="1268.7" cy="1365.6" r="8.1"/>
<circle class="b" cx="1267.7" cy="1371.8" r="8.1"/>
<circle class="b" cx="1271.8" cy="1414.3" r="8.1"/>
<circle class="b" cx="1278.4" cy="1445.3" r="8.1"/>
<circle class="b" cx="1267.7" cy="1457.8" r="8.1"/>
<circle class="b" cx="1270.8" cy="1466.0" r="8.1"/>
<circle class="b" cx="1264.6" cy="1500.2" r="8.1"/>
<circle class="b" cx="205.1" cy="1320.0" r="8.1"/>
<circle class="b" cx="205.8" cy="1380.0" r="8.1"/>
<circle class="b" cx="220.5" cy="1383.0" r="8.1"/>
<circle class="b" cx="207.9" cy="1388.5" r="8.1"/>
<circle class="b" cx="214.9" cy="1390.0" r="8.1"/>
<circle class="b" cx="226.1" cy="1388.5" r="8.1"/>
<circle class="b" cx="211.6" cy="1384.0" r="8.1"/>
<circle class="b" cx="223.3" cy="1415.0" r="8.1"/>
<circle class="b" cx="227.5" cy="1417.8" r="8.1"/>
<circle class="b" cx="212.8" cy="1450.0" r="8.1"/>
<circle class="b" cx="206.6" cy="1471.0" r="8.1"/>
<circle class="b" cx="210.7" cy="1478.0" r="8.1"/>
<circle class="b" cx="214.9" cy="1485.0" r="8.1"/>
<circle class="b" cx="226.1" cy="1480.7" r="8.1"/>
<circle class="b" cx="212.1" cy="1492.0" r="8.1"/>
<circle class="b" cx="209.6" cy="1483.0" r="8.1"/>
<circle class="b" cx="214.6" cy="1496.0" r="8.1"/>
<circle class="b" cx="219.6" cy="1500.0" r="8.1"/>
<circle class="b" cx="210.6" cy="1503.0" r="8.1"/>
<circle class="b" cx="215.4" cy="1514.0" r="8.1"/>
<circle class="b" cx="215.8" cy="1516.7" r="8.1"/>
<circle class="b" cx="217.8" cy="1511.1" r="8.1"/>
<circle class="b" cx="221.0" cy="1525.6" r="8.1"/>
<circle class="b" cx="216.4" cy="1523.0" r="8.1"/>
<circle class="b" cx="222.6" cy="1539.3" r="8.1"/>
<circle class="b" cx="227.6" cy="1543.3" r="8.1"/>
<circle class="b" cx="227.1" cy="1542.0" r="8.1"/>
<circle class="b" cx="215.7" cy="1525.7" r="8.1"/>
<circle class="b" cx="220.3" cy="1546.7" r="8.1"/>
<circle class="b" cx="207.0" cy="1545.7" r="8.1"/>
<circle class="b" cx="210.3" cy="1535.8" r="8.1"/>
<circle class="b" cx="218.4" cy="1537.5" r="8.1"/>
<circle class="b" cx="209.6" cy="1525.3" r="8.1"/>
<circle class="b" cx="226.9" cy="1531.4" r="8.1"/>
<circle class="b" cx="208.2" cy="1542.6" r="8.1"/>
<circle class="b" cx="207.6" cy="1543.3" r="8.1"/>
<circle class="b" cx="207.3" cy="1539.2" r="8.1"/>
<circle class="b" cx="225.8" cy="1525.0" r="8.1"/>
<circle class="b" cx="209.5" cy="1529.8" r="8.1"/>
<circle class="b" cx="225.8" cy="1547.6" r="8.1"/>
<circle class="b" cx="228.0" cy="1531.7" r="8.1"/>
<circle class="b" cx="221.0" cy="1537.4" r="8.1"/>
<circle class="b" cx="227.5" cy="1529.7" r="8.1"/>
<circle class="b" cx="228.2" cy="1540.9" r="8.1"/>
<circle class="b" cx="211.6" cy="1545.6" r="8.1"/>
<circle class="b" cx="208.3" cy="1533.3" r="8.1"/>
<circle class="b" cx="205.8" cy="1528.4" r="8.1"/>
<circle class="b" cx="219.2" cy="1531.9" r="8.1"/>
<circle class="b" cx="221.0" cy="1525.1" r="8.1"/>
<circle class="b" cx="211.9" cy="1532.8" r="8.1"/>
<circle class="b" cx="216.1" cy="1543.8" r="8.1"/>
<circle class="b" cx="216.1" cy="1532.3" r="8.1"/>
<circle class="b" cx="205.6" cy="1541.2" r="8.1"/>
<circle class="b" cx="204.8" cy="1547.4" r="8.1"/>
<circle class="b" cx="225.2" cy="1542.2" r="8.1"/>
<circle class="b" cx="223.7" cy="1525.4" r="8.1"/>
<circle class="b" cx="218.5" cy="1533.4" r="8.1"/>
<circle class="b" cx="205.4" cy="1525.2" r="8.1"/>
<circle class="b" cx="227.9" cy="1529.2" r="8.1"/>
<circle class="b" cx="222.9" cy="1529.5" r="8.1"/>
<circle class="b" cx="227.6" cy="1546.4" r="8.1"/>
<circle class="b" cx="213.0" cy="1532.9" r="8.1"/>
<circle class="b" cx="223.4" cy="1537.1" r="8.1"/>
<circle class="b" cx="222.8" cy="1527.5" r="8.1"/>
<circle class="b" cx="225.5" cy="1543.3" r="8.1"/>
<circle class="b" cx="227.7" cy="1525.8" r="8.1"/>
<circle class="b" cx="212.7" cy="1527.1" r="8.1"/>
<circle class="b" cx="227.0" cy="1539.0" r="8.1"/>
<circle class="b" cx="227.1" cy="1532.8" r="8.1"/>
<circle class="b" cx="224.6" cy="1562.0" r="8.1"/>
<circle class="b" cx="210.7" cy="1557.1" r="8.1"/>
<circle class="b" cx="220.6" cy="1545.1" r="8.1"/>
<circle class="b" cx="223.0" cy="1556.8" r="8.1"/>
<circle class="b" cx="223.3" cy="1555.0" r="8.1"/>
<circle class="b" cx="224.1" cy="1553.1" r="8.1"/>
<circle class="b" cx="214.5" cy="1561.0" r="8.1"/>
<circle class="b" cx="221.1" cy="1558.0" r="8.1"/>
<circle class="b" cx="217.9" cy="1551.3" r="8.1"/>
<circle class="b" cx="210.8" cy="1562.2" r="8.1"/>
<circle class="b" cx="221.2" cy="1562.2" r="8.1"/>
<circle class="b" cx="212.5" cy="1562.8" r="8.1"/>
<circle class="b" cx="224.0" cy="1548.8" r="8.1"/>
<circle class="b" cx="215.2" cy="1562.2" r="8.1"/>
<circle class="b" cx="209.1" cy="1548.8" r="8.1"/>
<circle class="b" cx="211.4" cy="1559.6" r="8.1"/>
<circle class="b" cx="218.8" cy="1564.3" r="8.1"/>
<circle class="b" cx="220.5" cy="1551.5" r="8.1"/>
<circle class="b" cx="227.3" cy="1554.8" r="8.1"/>
<circle class="b" cx="217.0" cy="1563.7" r="8.1"/>
<circle class="b" cx="221.5" cy="1559.7" r="8.1"/>
<circle class="b" cx="228.4" cy="1562.2" r="8.1"/>
<circle class="b" cx="213.2" cy="1546.7" r="8.1"/>
<circle class="b" cx="211.7" cy="1559.0" r="8.1"/>
<circle class="b" cx="206.4" cy="1558.8" r="8.1"/>
<circle class="b" cx="217.2" cy="1563.3" r="8.1"/>
<circle class="b" cx="220.6" cy="1549.4" r="8.1"/>
<circle class="b" cx="209.1" cy="1553.9" r="8.1"/>
<circle class="b" cx="207.6" cy="1557.0" r="8.1"/>
<circle class="b" cx="225.7" cy="1551.7" r="8.1"/>
<circle class="b" cx="204.5" cy="1560.6" r="8.1"/>
<circle class="b" cx="204.6" cy="1561.8" r="8.1"/>
<circle class="b" cx="226.6" cy="1554.3" r="8.1"/>
<circle class="b" cx="211.8" cy="1559.3" r="8.1"/>
<circle class="b" cx="213.9" cy="1555.1" r="8.1"/>
<circle class="b" cx="229.0" cy="1549.7" r="8.1"/>
<circle class="b" cx="214.7" cy="1547.6" r="8.1"/>
<circle class="b" cx="214.1" cy="1561.3" r="8.1"/>
<circle class="b" cx="210.3" cy="1564.7" r="8.1"/>
<circle class="b" cx="226.3" cy="1564.7" r="8.1"/>
<circle class="b" cx="226.3" cy="1560.1" r="8.1"/>
<circle class="b" cx="224.8" cy="1556.4" r="8.1"/>
<circle class="b" cx="217.0" cy="1562.0" r="8.1"/>
<circle class="b" cx="221.7" cy="1556.8" r="8.1"/>
<circle class="b" cx="206.3" cy="1555.7" r="8.1"/>
<circle class="b" cx="210.8" cy="1561.3" r="8.1"/>
<circle class="b" cx="223.6" cy="1557.1" r="8.1"/>
<circle class="b" cx="204.7" cy="1550.8" r="8.1"/>
<circle class="b" cx="218.8" cy="1549.6" r="8.1"/>
<circle class="b" cx="210.6" cy="1554.8" r="8.1"/>
<circle class="b" cx="227.2" cy="1556.5" r="8.1"/>
<circle class="b" cx="214.4" cy="1552.7" r="8.1"/>
<circle class="b" cx="219.4" cy="1563.3" r="8.1"/>
<circle class="b" cx="216.0" cy="1553.0" r="8.1"/>
<circle class="b" cx="207.7" cy="1556.9" r="8.1"/>
<circle class="b" cx="211.8" cy="1555.1" r="8.1"/>
<circle class="b" cx="212.2" cy="1562.2" r="8.1"/>
<circle class="b" cx="228.3" cy="1559.9" r="8.1"/>
<circle class="b" cx="213.5" cy="1563.9" r="8.1"/>
<circle class="b" cx="212.1" cy="1559.0" r="8.1"/>
<circle class="b" cx="216.3" cy="1555.5" r="8.1"/>
<circle class="b" cx="227.4" cy="1562.0" r="8.1"/>
<circle class="b" cx="204.4" cy="1553.4" r="8.1"/>
<circle class="b" cx="205.6" cy="1556.4" r="8.1"/>
<circle class="b" cx="223.4" cy="1546.7" r="8.1"/>
<circle class="b" cx="222.0" cy="1549.3" r="8.1"/>
<circle class="b" cx="227.5" cy="1554.8" r="8.1"/>
<circle class="b" cx="205.7" cy="1562.9" r="8.1"/>
<circle class="b" cx="227.7" cy="1551.3" r="8.1"/>
<circle class="b" cx="214.7" cy="1559.2" r="8.1"/>
<circle class="b" cx="224.4" cy="1561.8" r="8.1"/>
<circle class="b" cx="215.8" cy="1557.2" r="8.1"/>
<circle class="b" cx="213.2" cy="1549.0" r="8.1"/>
<circle class="b" cx="219.7" cy="1550.2" r="8.1"/>
<circle class="b" cx="207.8" cy="1559.1" r="8.1"/>
<circle class="b" cx="206.6" cy="1559.4" r="8.1"/>
<circle class="b" cx="220.2" cy="1549.1" r="8.1"/>
<circle class="b" cx="226.5" cy="1556.7" r="8.1"/>
<circle class="b" cx="221.6" cy="1559.5" r="8.1"/>
<circle class="b" cx="224.9" cy="1549.7" r="8.1"/>
<circle class="b" cx="219.5" cy="1548.5" r="8.1"/>
<circle class="b" cx="226.7" cy="1563.7" r="8.1"/>
<circle class="b" cx="215.4" cy="1563.5" r="8.1"/>
<circle class="b" cx="223.8" cy="1560.5" r="8.1"/>
<circle class="b" cx="227.6" cy="1550.0" r="8.1"/>
<circle class="b" cx="215.1" cy="1563.7" r="8.1"/>
<circle class="b" cx="215.3" cy="1561.8" r="8.1"/>
<circle class="b" cx="221.9" cy="1553.1" r="8.1"/>
<circle class="b" cx="224.0" cy="1547.9" r="8.1"/>
<circle class="b" cx="211.3" cy="1564.7" r="8.1"/>
<circle class="b" cx="206.3" cy="1564.1" r="8.1"/>
<circle class="b" cx="211.1" cy="1563.0" r="8.1"/>
<circle class="b" cx="214.9" cy="1564.5" r="8.1"/>
<circle class="b" cx="205.0" cy="1563.9" r="8.1"/>
<circle class="b" cx="224.4" cy="1548.6" r="8.1"/>
<circle class="b" cx="217.5" cy="1559.6" r="8.1"/>
<circle class="b" cx="208.5" cy="1546.8" r="8.1"/>
<circle class="b" cx="205.5" cy="1555.0" r="8.1"/>
<circle class="b" cx="223.2" cy="1564.9" r="8.1"/>
<circle class="b" cx="221.6" cy="1564.3" r="8.1"/>
<circle class="b" cx="206.1" cy="1554.5" r="8.1"/>
<circle class="b" cx="207.0" cy="1561.1" r="8.1"/>
<circle class="b" cx="215.7" cy="1558.1" r="8.1"/>
<circle class="b" cx="206.1" cy="1557.2" r="8.1"/>
<circle class="b" cx="217.1" cy="1548.2" r="8.1"/>
<circle class="b" cx="217.2" cy="1546.7" r="8.1"/>
<circle class="b" cx="211.2" cy="1550.3" r="8.1"/>
<circle class="b" cx="218.3" cy="1550.3" r="8.1"/>
<circle class="b" cx="209.7" cy="1555.3" r="8.1"/>
<circle class="b" cx="218.2" cy="1552.0" r="8.1"/>
<circle class="b" cx="214.6" cy="1563.7" r="8.1"/>
<circle class="b" cx="212.0" cy="1550.6" r="8.1"/>
<circle class="b" cx="218.4" cy="1552.4" r="8.1"/>
<circle class="b" cx="218.3" cy="1561.9" r="8.1"/>
<circle class="b" cx="212.3" cy="1551.2" r="8.1"/>
<circle class="b" cx="215.1" cy="1555.2" r="8.1"/>
<circle class="b" cx="228.9" cy="1555.5" r="8.1"/>
<circle class="b" cx="220.6" cy="1558.2" r="8.1"/>
<circle class="b" cx="220.2" cy="1560.8" r="8.1"/>
<circle class="b" cx="213.4" cy="1562.2" r="8.1"/>
<circle class="b" cx="228.3" cy="1560.1" r="8.1"/>
<circle class="b" cx="219.7" cy="1550.6" r="8.1"/>
<circle class="b" cx="205.7" cy="1555.2" r="8.1"/>
<circle class="b" cx="223.0" cy="1547.1" r="8.1"/>
<circle class="b" cx="221.8" cy="1549.4" r="8.1"/>
<circle class="b" cx="213.3" cy="1549.0" r="8.1"/>
<circle class="b" cx="217.7" cy="1546.8" r="8.1"/>
<circle class="b" cx="209.8" cy="1561.9" r="8.1"/>
<circle class="b" cx="227.1" cy="1558.4" r="8.1"/>
<circle class="b" cx="215.9" cy="1553.5" r="8.1"/>
<circle class="b" cx="271.5" cy="1350.0" r="8.1"/>
<circle class="b" cx="285.5" cy="1362.0" r="8.1"/>
<circle class="b" cx="290.8" cy="1369.0" r="8.1"/>
<circle class="b" cx="287.6" cy="1379.4" r="8.1"/>
<circle class="b" cx="281.3" cy="1396.9" r="8.1"/>
<circle class="b" cx="277.8" cy="1412.0" r="8.1"/>
<circle class="b" cx="282.0" cy="1423.4" r="8.1"/>
<circle class="b" cx="289.0" cy="1422.0" r="8.1"/>
<circle class="b" cx="275.0" cy="1504.5" r="8.1"/>
<circle class="b" cx="286.2" cy="1511.4" r="8.1"/>
<circle class="b" cx="291.2" cy="1514.0" r="8.1"/>
<circle class="b" cx="280.8" cy="1508.0" r="8.1"/>
<circle class="b" cx="281.2" cy="1448.6" r="8.1"/>
<circle class="b" cx="270.8" cy="1456.7" r="8.1"/>
<circle class="b" cx="277.5" cy="1464.9" r="8.1"/>
<circle class="b" cx="276.7" cy="1464.4" r="8.1"/>
<circle class="b" cx="272.1" cy="1453.0" r="8.1"/>
<circle class="b" cx="273.7" cy="1475.7" r="8.1"/>
<circle class="b" cx="284.0" cy="1474.8" r="8.1"/>
<circle class="b" cx="287.5" cy="1484.9" r="8.1"/>
<circle class="b" cx="271.7" cy="1451.4" r="8.1"/>
<circle class="b" cx="279.3" cy="1477.9" r="8.1"/>
<circle class="b" cx="281.6" cy="1449.7" r="8.1"/>
<circle class="b" cx="285.1" cy="1485.3" r="8.1"/>
<circle class="b" cx="273.1" cy="1450.5" r="8.1"/>
<circle class="b" cx="288.2" cy="1439.4" r="8.1"/>
<circle class="b" cx="282.7" cy="1450.7" r="8.1"/>
<circle class="b" cx="279.7" cy="1467.5" r="8.1"/>
<circle class="b" cx="284.9" cy="1466.9" r="8.1"/>
<circle class="b" cx="273.2" cy="1470.8" r="8.1"/>
<circle class="b" cx="277.1" cy="1445.1" r="8.1"/>
<circle class="b" cx="269.6" cy="1487.9" r="8.1"/>
<circle class="b" cx="280.5" cy="1475.2" r="8.1"/>
<circle class="b" cx="271.0" cy="1447.5" r="8.1"/>
<circle class="b" cx="276.2" cy="1475.4" r="8.1"/>
<circle class="b" cx="277.1" cy="1460.6" r="8.1"/>
<circle class="b" cx="282.2" cy="1444.4" r="8.1"/>
<circle class="b" cx="278.4" cy="1470.2" r="8.1"/>
<circle class="b" cx="284.6" cy="1457.0" r="8.1"/>
<circle class="b" cx="278.6" cy="1482.7" r="8.1"/>
<circle class="b" cx="269.7" cy="1443.7" r="8.1"/>
<circle class="b" cx="268.2" cy="1447.1" r="8.1"/>
<circle class="b" cx="278.6" cy="1473.4" r="8.1"/>
<circle class="b" cx="286.8" cy="1449.8" r="8.1"/>
<circle class="b" cx="285.9" cy="1539.0" r="8.1"/>
<circle class="b" cx="279.1" cy="1534.6" r="8.1"/>
<circle class="b" cx="291.1" cy="1531.0" r="8.1"/>
<circle class="b" cx="270.1" cy="1528.1" r="8.1"/>
<circle class="b" cx="272.8" cy="1527.3" r="8.1"/>
<circle class="b" cx="273.0" cy="1529.2" r="8.1"/>
<circle class="b" cx="274.5" cy="1523.0" r="8.1"/>
<circle class="b" cx="280.5" cy="1528.7" r="8.1"/>
<circle class="b" cx="268.1" cy="1525.6" r="8.1"/>
<circle class="b" cx="279.8" cy="1525.7" r="8.1"/>
<circle class="b" cx="284.6" cy="1530.9" r="8.1"/>
<circle class="b" cx="276.7" cy="1542.5" r="8.1"/>
<circle class="b" cx="284.4" cy="1522.8" r="8.1"/>
<circle class="b" cx="276.2" cy="1541.2" r="8.1"/>
<circle class="b" cx="273.8" cy="1538.4" r="8.1"/>
<circle class="b" cx="287.1" cy="1545.6" r="8.1"/>
<circle class="b" cx="290.0" cy="1542.2" r="8.1"/>
<circle class="b" cx="279.9" cy="1526.5" r="8.1"/>
<circle class="b" cx="286.3" cy="1540.5" r="8.1"/>
<circle class="b" cx="269.8" cy="1530.9" r="8.1"/>
<circle class="b" cx="269.0" cy="1537.5" r="8.1"/>
<circle class="b" cx="266.6" cy="1539.8" r="8.1"/>
<circle class="b" cx="278.3" cy="1532.7" r="8.1"/>
<circle class="b" cx="278.3" cy="1523.4" r="8.1"/>
<circle class="b" cx="275.5" cy="1534.0" r="8.1"/>
<circle class="b" cx="287.9" cy="1545.1" r="8.1"/>
<circle class="b" cx="272.5" cy="1544.9" r="8.1"/>
<circle class="b" cx="275.7" cy="1520.7" r="8.1"/>
<circle class="b" cx="283.9" cy="1523.2" r="8.1"/>
<circle class="b" cx="269.6" cy="1527.4" r="8.1"/>
<circle class="b" cx="276.4" cy="1527.9" r="8.1"/>
<circle class="b" cx="277.8" cy="1540.6" r="8.1"/>
<circle class="b" cx="283.2" cy="1528.4" r="8.1"/>
<circle class="b" cx="271.6" cy="1521.3" r="8.1"/>
<circle class="b" cx="285.0" cy="1539.2" r="8.1"/>
<circle class="b" cx="268.0" cy="1522.8" r="8.1"/>
<circle class="b" cx="282.7" cy="1534.2" r="8.1"/>
<circle class="b" cx="277.2" cy="1520.5" r="8.1"/>
<circle class="b" cx="268.5" cy="1527.7" r="8.1"/>
<circle class="b" cx="273.5" cy="1524.8" r="8.1"/>
<circle class="b" cx="269.2" cy="1533.1" r="8.1"/>
<circle class="b" cx="288.2" cy="1537.4" r="8.1"/>
<circle class="b" cx="268.1" cy="1539.2" r="8.1"/>
<circle class="b" cx="282.1" cy="1538.2" r="8.1"/>
<circle class="b" cx="275.9" cy="1520.2" r="8.1"/>
<circle class="b" cx="290.0" cy="1538.3" r="8.1"/>
<circle class="b" cx="280.5" cy="1546.0" r="8.1"/>
<circle class="b" cx="290.2" cy="1536.5" r="8.1"/>
<circle class="b" cx="279.0" cy="1525.9" r="8.1"/>
<circle class="b" cx="285.6" cy="1521.7" r="8.1"/>
<circle class="b" cx="283.4" cy="1563.7" r="8.1"/>
<circle class="b" cx="288.8" cy="1561.6" r="8.1"/>
<circle class="b" cx="282.2" cy="1552.8" r="8.1"/>
<circle class="b" cx="288.0" cy="1563.6" r="8.1"/>
<circle class="b" cx="270.6" cy="1558.5" r="8.1"/>
<circle class="b" cx="291.0" cy="1555.7" r="8.1"/>
<circle class="b" cx="274.3" cy="1549.1" r="8.1"/>
<circle class="b" cx="277.5" cy="1564.3" r="8.1"/>
<circle class="b" cx="274.2" cy="1551.7" r="8.1"/>
<circle class="b" cx="274.7" cy="1563.7" r="8.1"/>
<circle class="b" cx="282.0" cy="1556.0" r="8.1"/>
<circle class="b" cx="278.6" cy="1562.2" r="8.1"/>
<circle class="b" cx="280.6" cy="1548.5" r="8.1"/>
<circle class="b" cx="268.7" cy="1546.9" r="8.1"/>
<circle class="b" cx="283.6" cy="1551.3" r="8.1"/>
<circle class="b" cx="283.5" cy="1553.3" r="8.1"/>
<circle class="b" cx="269.3" cy="1550.6" r="8.1"/>
<circle class="b" cx="283.9" cy="1546.4" r="8.1"/>
<circle class="b" cx="271.8" cy="1563.0" r="8.1"/>
<circle class="b" cx="266.7" cy="1552.3" r="8.1"/>
<circle class="b" cx="273.8" cy="1559.7" r="8.1"/>
<circle class="b" cx="282.4" cy="1550.0" r="8.1"/>
<circle class="b" cx="277.5" cy="1559.0" r="8.1"/>
<circle class="b" cx="282.2" cy="1550.4" r="8.1"/>
<circle class="b" cx="277.1" cy="1558.3" r="8.1"/>
<circle class="b" cx="289.4" cy="1550.7" r="8.1"/>
<circle class="b" cx="283.5" cy="1563.0" r="8.1"/>
<circle class="b" cx="280.8" cy="1564.9" r="8.1"/>
<circle class="b" cx="269.3" cy="1554.5" r="8.1"/>
<circle class="b" cx="279.3" cy="1559.1" r="8.1"/>
<circle class="b" cx="291.0" cy="1556.2" r="8.1"/>
<circle class="b" cx="269.2" cy="1562.7" r="8.1"/>
<circle class="b" cx="266.4" cy="1563.3" r="8.1"/>
<circle class="b" cx="274.2" cy="1559.8" r="8.1"/>
<circle class="b" cx="290.0" cy="1561.0" r="8.1"/>
<circle class="b" cx="285.3" cy="1557.8" r="8.1"/>
<circle class="b" cx="282.9" cy="1547.6" r="8.1"/>
<circle class="b" cx="277.7" cy="1549.5" r="8.1"/>
<circle class="b" cx="268.2" cy="1554.3" r="8.1"/>
<circle class="b" cx="268.7" cy="1561.3" r="8.1"/>
<circle class="b" cx="268.5" cy="1552.7" r="8.1"/>
<circle class="b" cx="273.9" cy="1560.0" r="8.1"/>
<circle class="b" cx="267.1" cy="1547.3" r="8.1"/>
<circle class="b" cx="279.0" cy="1551.9" r="8.1"/>
<circle class="b" cx="267.0" cy="1545.9" r="8.1"/>
<circle class="b" cx="279.5" cy="1560.1" r="8.1"/>
<circle class="b" cx="274.1" cy="1549.9" r="8.1"/>
<circle class="b" cx="273.2" cy="1549.7" r="8.1"/>
<circle class="b" cx="271.8" cy="1555.3" r="8.1"/>
<circle class="b" cx="272.0" cy="1551.4" r="8.1"/>
<circle class="b" cx="280.2" cy="1553.6" r="8.1"/>
<circle class="b" cx="282.5" cy="1563.4" r="8.1"/>
<circle class="b" cx="266.5" cy="1556.4" r="8.1"/>
<circle class="b" cx="282.1" cy="1551.2" r="8.1"/>
<circle class="b" cx="287.4" cy="1555.6" r="8.1"/>
<circle class="b" cx="273.7" cy="1563.7" r="8.1"/>
<circle class="b" cx="273.8" cy="1554.9" r="8.1"/>
<circle class="b" cx="268.8" cy="1560.2" r="8.1"/>
<circle class="b" cx="288.2" cy="1553.1" r="8.1"/>
<circle class="b" cx="290.4" cy="1555.0" r="8.1"/>
<circle class="b" cx="287.1" cy="1555.5" r="8.1"/>
<circle class="b" cx="268.9" cy="1556.7" r="8.1"/>
<circle class="b" cx="271.6" cy="1558.6" r="8.1"/>
<circle class="b" cx="283.8" cy="1563.8" r="8.1"/>
<circle class="b" cx="289.3" cy="1557.8" r="8.1"/>
<circle class="b" cx="290.4" cy="1558.1" r="8.1"/>
<circle class="b" cx="270.8" cy="1560.8" r="8.1"/>
<circle class="b" cx="287.4" cy="1553.5" r="8.1"/>
<circle class="b" cx="290.7" cy="1549.0" r="8.1"/>
<circle class="b" cx="285.0" cy="1547.1" r="8.1"/>
<circle class="b" cx="276.5" cy="1559.3" r="8.1"/>
<circle class="b" cx="280.8" cy="1559.0" r="8.1"/>
<circle class="b" cx="273.4" cy="1554.8" r="8.1"/>
<circle class="b" cx="282.6" cy="1547.5" r="8.1"/>
<circle class="b" cx="275.7" cy="1563.3" r="8.1"/>
<circle class="b" cx="276.2" cy="1563.0" r="8.1"/>
<circle class="b" cx="286.2" cy="1552.7" r="8.1"/>
<circle class="b" cx="268.7" cy="1564.0" r="8.1"/>
<circle class="b" cx="274.3" cy="1563.2" r="8.1"/>
<circle class="b" cx="273.7" cy="1561.7" r="8.1"/>
<circle class="b" cx="274.7" cy="1564.9" r="8.1"/>
<circle class="b" cx="267.7" cy="1551.6" r="8.1"/>
<circle class="b" cx="268.7" cy="1549.9" r="8.1"/>
<circle class="b" cx="266.9" cy="1562.4" r="8.1"/>
<circle class="b" cx="272.3" cy="1549.5" r="8.1"/>
<circle class="b" cx="285.6" cy="1550.1" r="8.1"/>
<circle class="b" cx="283.3" cy="1545.6" r="8.1"/>
<circle class="b" cx="270.0" cy="1554.6" r="8.1"/>
<circle class="b" cx="279.4" cy="1552.1" r="8.1"/>
<circle class="b" cx="276.1" cy="1552.5" r="8.1"/>
<circle class="b" cx="279.7" cy="1555.3" r="8.1"/>
<circle class="b" cx="273.6" cy="1560.6" r="8.1"/>
<circle class="b" cx="284.1" cy="1559.1" r="8.1"/>
<circle class="b" cx="285.3" cy="1553.5" r="8.1"/>
<circle class="b" cx="278.6" cy="1548.5" r="8.1"/>
<circle class="b" cx="269.5" cy="1554.6" r="8.1"/>
<circle class="b" cx="287.5" cy="1559.9" r="8.1"/>
<circle class="b" cx="275.2" cy="1557.0" r="8.1"/>
<circle class="b" cx="291.0" cy="1563.6" r="8.1"/>
<circle class="b" cx="280.3" cy="1559.4" r="8.1"/>
<circle class="b" cx="283.8" cy="1559.6" r="8.1"/>
<circle class="b" cx="279.8" cy="1560.3" r="8.1"/>
<circle class="b" cx="284.9" cy="1561.4" r="8.1"/>
<circle class="b" cx="279.5" cy="1559.7" r="8.1"/>
<circle class="b" cx="271.7" cy="1555.0" r="8.1"/>
<circle class="b" cx="274.0" cy="1557.4" r="8.1"/>
<circle class="b" cx="270.8" cy="1556.8" r="8.1"/>
<circle class="b" cx="269.6" cy="1563.7" r="8.1"/>
<circle class="b" cx="280.4" cy="1563.3" r="8.1"/>
<circle class="b" cx="288.3" cy="1563.7" r="8.1"/>
<circle class="b" cx="273.2" cy="1550.8" r="8.1"/>
<circle class="b" cx="282.8" cy="1565.0" r="8.1"/>
<circle class="b" cx="272.9" cy="1548.6" r="8.1"/>
<circle class="b" cx="273.9" cy="1548.9" r="8.1"/>
<circle class="b" cx="267.4" cy="1548.3" r="8.1"/>
<circle class="b" cx="278.1" cy="1547.3" r="8.1"/>
<circle class="b" cx="279.0" cy="1560.8" r="8.1"/>
<circle class="b" cx="282.6" cy="1560.1" r="8.1"/>
<circle class="b" cx="283.9" cy="1549.9" r="8.1"/>
<circle class="b" cx="276.8" cy="1557.4" r="8.1"/>
<circle class="b" cx="277.7" cy="1564.5" r="8.1"/>
<circle class="b" cx="285.7" cy="1560.4" r="8.1"/>
<circle class="b" cx="270.2" cy="1557.0" r="8.1"/>
<circle class="b" cx="273.6" cy="1551.3" r="8.1"/>
<circle class="b" cx="276.3" cy="1551.3" r="8.1"/>
<circle class="b" cx="285.5" cy="1548.0" r="8.1"/>
<circle class="b" cx="282.2" cy="1561.6" r="8.1"/>
<circle class="b" cx="271.8" cy="1549.4" r="8.1"/>
<circle class="b" cx="288.1" cy="1563.6" r="8.1"/>
<circle class="b" cx="287.9" cy="1561.0" r="8.1"/>
<circle class="b" cx="1276.3" cy="1520.1" r="8.1"/>
<circle class="b" cx="1271.0" cy="1525.8" r="8.1"/>
<circle class="b" cx="1280.2" cy="1522.0" r="8.1"/>
<circle class="b" cx="1269.6" cy="1527.9" r="8.1"/>
<circle class="b" cx="1276.1" cy="1522.0" r="8.1"/>
<circle class="b" cx="1281.3" cy="1518.6" r="8.1"/>
<circle class="b" cx="1273.5" cy="1519.2" r="8.1"/>
<circle class="b" cx="1276.4" cy="1528.7" r="8.1"/>
<circle class="b" cx="1271.5" cy="1513.9" r="8.1"/>
<circle class="b" cx="1267.6" cy="1518.4" r="8.1"/>
<circle class="b" cx="1277.9" cy="1521.0" r="8.1"/>
<circle class="b" cx="1279.5" cy="1516.8" r="8.1"/>
<circle class="b" cx="1275.2" cy="1528.3" r="8.1"/>
<circle class="b" cx="1268.6" cy="1522.7" r="8.1"/>
<circle class="b" cx="1281.5" cy="1508.3" r="8.1"/>
<circle class="b" cx="1270.0" cy="1513.5" r="8.1"/>
<circle class="b" cx="1278.1" cy="1527.6" r="8.1"/>
<circle class="b" cx="1271.7" cy="1509.8" r="8.1"/>
<circle class="b" cx="1270.9" cy="1512.6" r="8.1"/>
<circle class="b" cx="1274.7" cy="1507.1" r="8.1"/>
<circle class="b" cx="1272.7" cy="1514.0" r="8.1"/>
<circle class="b" cx="1268.5" cy="1511.3" r="8.1"/>
<circle class="b" cx="1279.9" cy="1507.8" r="8.1"/>
<circle class="b" cx="1275.2" cy="1524.2" r="8.1"/>
<circle class="b" cx="1269.1" cy="1509.8" r="8.1"/>
<circle class="b" cx="1271.6" cy="1509.8" r="8.1"/>
<circle class="b" cx="1271.0" cy="1508.3" r="8.1"/>
<circle class="b" cx="1269.7" cy="1511.7" r="8.1"/>
<circle class="b" cx="1273.7" cy="1522.0" r="8.1"/>
<circle class="b" cx="1272.2" cy="1517.9" r="8.1"/>
<circle class="b" cx="1276.0" cy="1537.2" r="8.1"/>
<circle class="b" cx="1283.7" cy="1544.4" r="8.1"/>
<circle class="b" cx="1270.5" cy="1545.3" r="8.1"/>
<circle class="b" cx="1271.9" cy="1546.8" r="8.1"/>
<circle class="b" cx="1263.8" cy="1532.0" r="8.1"/>
<circle class="b" cx="1265.3" cy="1536.8" r="8.1"/>
<circle class="b" cx="1276.6" cy="1531.3" r="8.1"/>
<circle class="b" cx="1280.1" cy="1542.9" r="8.1"/>
<circle class="b" cx="1262.9" cy="1527.0" r="8.1"/>
<circle class="b" cx="1275.1" cy="1530.9" r="8.1"/>
<circle class="b" cx="1281.3" cy="1544.3" r="8.1"/>
<circle class="b" cx="1276.0" cy="1546.5" r="8.1"/>
<circle class="b" cx="1268.7" cy="1539.6" r="8.1"/>
<circle class="b" cx="1266.5" cy="1532.2" r="8.1"/>
<circle class="b" cx="1276.5" cy="1537.3" r="8.1"/>
<circle class="b" cx="1271.2" cy="1538.2" r="8.1"/>
<circle class="b" cx="1267.6" cy="1534.7" r="8.1"/>
<circle class="b" cx="1275.8" cy="1543.7" r="8.1"/>
<circle class="b" cx="1281.6" cy="1542.2" r="8.1"/>
<circle class="b" cx="1264.3" cy="1531.5" r="8.1"/>
<circle class="b" cx="1283.9" cy="1531.5" r="8.1"/>
<circle class="b" cx="1271.5" cy="1543.2" r="8.1"/>
<circle class="b" cx="1269.9" cy="1542.9" r="8.1"/>
<circle class="b" cx="1263.7" cy="1544.9" r="8.1"/>
<circle class="b" cx="1285.7" cy="1542.0" r="8.1"/>
<circle class="b" cx="1272.9" cy="1534.7" r="8.1"/>
<circle class="b" cx="1268.3" cy="1528.0" r="8.1"/>
<circle class="b" cx="1268.8" cy="1530.4" r="8.1"/>
<circle class="b" cx="1268.9" cy="1526.6" r="8.1"/>
<circle class="b" cx="1274.4" cy="1527.4" r="8.1"/>
<circle class="b" cx="1267.1" cy="1534.3" r="8.1"/>
<circle class="b" cx="1269.1" cy="1546.7" r="8.1"/>
<circle class="b" cx="1283.6" cy="1537.2" r="8.1"/>
<circle class="b" cx="1285.4" cy="1542.4" r="8.1"/>
<circle class="b" cx="1283.0" cy="1539.0" r="8.1"/>
<circle class="b" cx="1279.6" cy="1526.5" r="8.1"/>
<circle class="b" cx="1269.4" cy="1532.7" r="8.1"/>
<circle class="b" cx="1279.8" cy="1542.7" r="8.1"/>
<circle class="b" cx="1270.4" cy="1532.9" r="8.1"/>
<circle class="b" cx="1284.6" cy="1531.4" r="8.1"/>
<circle class="b" cx="1267.9" cy="1539.1" r="8.1"/>
<circle class="b" cx="1262.9" cy="1537.2" r="8.1"/>
<circle class="b" cx="1273.9" cy="1531.2" r="8.1"/>
<circle class="b" cx="1282.7" cy="1547.4" r="8.1"/>
<circle class="b" cx="1280.4" cy="1537.6" r="8.1"/>
<circle class="b" cx="1278.6" cy="1530.8" r="8.1"/>
<circle class="b" cx="1265.2" cy="1547.9" r="8.1"/>
<circle class="b" cx="1285.9" cy="1546.5" r="8.1"/>
<circle class="b" cx="1281.6" cy="1533.5" r="8.1"/>
<circle class="b" cx="1265.1" cy="1547.7" r="8.1"/>
<circle class="b" cx="1276.2" cy="1535.7" r="8.1"/>
<circle class="b" cx="1268.0" cy="1543.3" r="8.1"/>
<circle class="b" cx="1278.9" cy="1542.3" r="8.1"/>
<circle class="b" cx="1279.6" cy="1544.7" r="8.1"/>
<circle class="b" cx="1276.4" cy="1544.8" r="8.1"/>
<circle class="b" cx="1272.9" cy="1537.5" r="8.1"/>
<circle class="b" cx="1272.9" cy="1534.4" r="8.1"/>
<circle class="b" cx="1271.2" cy="1536.3" r="8.1"/>
<circle class="b" cx="1271.3" cy="1528.3" r="8.1"/>
<circle class="b" cx="1269.0" cy="1546.7" r="8.1"/>
<circle class="b" cx="1282.1" cy="1547.6" r="8.1"/>
<circle class="b" cx="1266.8" cy="1535.4" r="8.1"/>
<circle class="b" cx="1285.1" cy="1545.2" r="8.1"/>
<circle class="b" cx="1278.0" cy="1532.1" r="8.1"/>
<circle class="b" cx="1276.8" cy="1542.3" r="8.1"/>
<circle class="b" cx="1267.3" cy="1527.8" r="8.1"/>
<circle class="b" cx="1277.2" cy="1541.6" r="8.1"/>
<circle class="b" cx="1268.4" cy="1540.4" r="8.1"/>
<circle class="b" cx="1280.7" cy="1545.2" r="8.1"/>
<circle class="b" cx="1282.6" cy="1536.2" r="8.1"/>
<circle class="b" cx="1280.0" cy="1558.1" r="8.1"/>
<circle class="b" cx="1282.9" cy="1561.3" r="8.1"/>
<circle class="b" cx="1285.4" cy="1553.3" r="8.1"/>
<circle class="b" cx="1280.0" cy="1558.4" r="8.1"/>
<circle class="b" cx="1284.5" cy="1561.4" r="8.1"/>
<circle class="b" cx="1270.5" cy="1553.1" r="8.1"/>
<circle class="b" cx="1275.9" cy="1560.9" r="8.1"/>
<circle class="b" cx="1270.5" cy="1561.4" r="8.1"/>
<circle class="b" cx="1261.7" cy="1564.4" r="8.1"/>
<circle class="b" cx="1270.7" cy="1560.9" r="8.1"/>
<circle class="b" cx="1278.2" cy="1546.5" r="8.1"/>
<circle class="b" cx="1267.2" cy="1547.5" r="8.1"/>
<circle class="b" cx="1265.3" cy="1554.1" r="8.1"/>
<circle class="b" cx="1263.3" cy="1550.6" r="8.1"/>
<circle class="b" cx="1263.5" cy="1562.8" r="8.1"/>
<circle class="b" cx="1263.3" cy="1550.6" r="8.1"/>
<circle class="b" cx="1275.0" cy="1563.7" r="8.1"/>
<circle class="b" cx="1285.5" cy="1562.4" r="8.1"/>
<circle class="b" cx="1271.2" cy="1557.2" r="8.1"/>
<circle class="b" cx="1268.0" cy="1555.3" r="8.1"/>
<circle class="b" cx="1285.4" cy="1558.9" r="8.1"/>
<circle class="b" cx="1280.2" cy="1557.4" r="8.1"/>
<circle class="b" cx="1282.0" cy="1563.4" r="8.1"/>
<circle class="b" cx="1275.0" cy="1560.1" r="8.1"/>
<circle class="b" cx="1270.8" cy="1548.9" r="8.1"/>
<circle class="b" cx="1272.4" cy="1562.9" r="8.1"/>
<circle class="b" cx="1267.9" cy="1560.3" r="8.1"/>
<circle class="b" cx="1266.9" cy="1558.7" r="8.1"/>
<circle class="b" cx="1281.6" cy="1561.9" r="8.1"/>
<circle class="b" cx="1277.9" cy="1546.2" r="8.1"/>
<circle class="b" cx="1285.0" cy="1548.8" r="8.1"/>
<circle class="b" cx="1264.6" cy="1550.9" r="8.1"/>
<circle class="b" cx="1276.7" cy="1563.5" r="8.1"/>
<circle class="b" cx="1273.0" cy="1545.8" r="8.1"/>
<circle class="b" cx="1265.5" cy="1562.5" r="8.1"/>
<circle class="b" cx="1268.7" cy="1561.4" r="8.1"/>
<circle class="b" cx="1271.2" cy="1556.3" r="8.1"/>
<circle class="b" cx="1271.1" cy="1547.6" r="8.1"/>
<circle class="b" cx="1276.8" cy="1557.7" r="8.1"/>
<circle class="b" cx="1265.6" cy="1558.0" r="8.1"/>
<circle class="b" cx="1268.6" cy="1559.1" r="8.1"/>
<circle class="b" cx="1263.9" cy="1563.6" r="8.1"/>
<circle class="b" cx="1263.5" cy="1561.8" r="8.1"/>
<circle class="b" cx="1270.1" cy="1558.4" r="8.1"/>
<circle class="b" cx="1278.5" cy="1556.6" r="8.1"/>
<circle class="b" cx="1261.5" cy="1562.1" r="8.1"/>
<circle class="b" cx="1277.6" cy="1563.3" r="8.1"/>
<circle class="b" cx="1278.7" cy="1549.1" r="8.1"/>
<circle class="b" cx="1270.7" cy="1562.3" r="8.1"/>
<circle class="b" cx="1265.5" cy="1563.3" r="8.1"/>
<circle class="b" cx="1267.5" cy="1556.5" r="8.1"/>
<circle class="b" cx="1269.0" cy="1562.5" r="8.1"/>
<circle class="b" cx="1286.2" cy="1552.6" r="8.1"/>
<circle class="b" cx="1272.9" cy="1555.8" r="8.1"/>
<circle class="b" cx="1265.9" cy="1560.6" r="8.1"/>
<circle class="b" cx="1278.5" cy="1562.3" r="8.1"/>
<circle class="b" cx="1281.2" cy="1557.2" r="8.1"/>
<circle class="b" cx="1263.9" cy="1563.2" r="8.1"/>
<circle class="b" cx="1274.4" cy="1564.4" r="8.1"/>
<circle class="b" cx="1278.2" cy="1561.8" r="8.1"/>
<circle class="b" cx="1280.4" cy="1564.5" r="8.1"/>
<circle class="b" cx="1265.0" cy="1552.4" r="8.1"/>
<circle class="b" cx="1267.8" cy="1555.5" r="8.1"/>
<circle class="b" cx="1274.9" cy="1552.1" r="8.1"/>
<circle class="b" cx="1271.3" cy="1557.4" r="8.1"/>
<circle class="b" cx="1265.1" cy="1561.5" r="8.1"/>
<circle class="b" cx="1272.4" cy="1556.3" r="8.1"/>
<circle class="b" cx="1283.0" cy="1559.2" r="8.1"/>
<circle class="b" cx="1261.5" cy="1558.8" r="8.1"/>
<circle class="b" cx="1270.3" cy="1558.9" r="8.1"/>
<circle class="b" cx="1275.6" cy="1555.9" r="8.1"/>
<circle class="b" cx="1281.2" cy="1551.9" r="8.1"/>
<circle class="b" cx="1270.5" cy="1555.0" r="8.1"/>
<circle class="b" cx="1262.7" cy="1558.1" r="8.1"/>
<circle class="b" cx="1286.0" cy="1554.1" r="8.1"/>
<circle class="b" cx="1271.1" cy="1549.5" r="8.1"/>
<circle class="b" cx="1273.2" cy="1561.7" r="8.1"/>
<circle class="b" cx="1282.4" cy="1559.3" r="8.1"/>
<circle class="b" cx="1272.0" cy="1562.7" r="8.1"/>
<circle class="b" cx="1261.7" cy="1554.5" r="8.1"/>
<circle class="b" cx="1264.9" cy="1561.3" r="8.1"/>
<circle class="b" cx="1264.5" cy="1556.7" r="8.1"/>
<circle class="b" cx="1272.8" cy="1561.3" r="8.1"/>
<circle class="b" cx="1276.0" cy="1549.3" r="8.1"/>
<circle class="b" cx="1270.1" cy="1548.7" r="8.1"/>
<circle class="b" cx="1280.3" cy="1553.4" r="8.1"/>
<circle class="b" cx="1266.7" cy="1559.0" r="8.1"/>
<circle class="b" cx="1272.6" cy="1554.3" r="8.1"/>
<circle class="b" cx="1270.1" cy="1562.6" r="8.1"/>
<circle class="b" cx="1263.2" cy="1561.4" r="8.1"/>
<circle class="b" cx="1280.7" cy="1549.5" r="8.1"/>
<circle class="b" cx="1262.5" cy="1554.8" r="8.1"/>
<circle class="b" cx="1271.9" cy="1551.5" r="8.1"/>
<circle class="b" cx="1270.7" cy="1548.7" r="8.1"/>
<circle class="b" cx="1263.3" cy="1564.9" r="8.1"/>
<circle class="b" cx="1269.3" cy="1554.7" r="8.1"/>
<circle class="b" cx="1284.9" cy="1550.4" r="8.1"/>
<circle class="b" cx="1266.3" cy="1553.1" r="8.1"/>
<circle class="b" cx="1263.2" cy="1556.3" r="8.1"/>
<circle class="b" cx="1265.8" cy="1556.8" r="8.1"/>
<circle class="b" cx="1265.0" cy="1557.2" r="8.1"/>
<circle class="b" cx="1273.9" cy="1563.1" r="8.1"/>
<circle class="b" cx="1266.9" cy="1559.7" r="8.1"/>
<circle class="b" cx="1267.4" cy="1547.2" r="8.1"/>
<circle class="b" cx="1261.5" cy="1557.4" r="8.1"/>
<circle class="b" cx="1284.5" cy="1551.1" r="8.1"/>
<circle class="b" cx="1266.0" cy="1553.5" r="8.1"/>
<circle class="b" cx="1268.5" cy="1562.3" r="8.1"/>
<circle class="b" cx="1274.4" cy="1558.2" r="8.1"/>
<circle class="b" cx="1262.6" cy="1557.2" r="8.1"/>
<circle class="b" cx="1269.6" cy="1560.3" r="8.1"/>
<circle class="b" cx="1285.5" cy="1563.0" r="8.1"/>
<circle class="b" cx="1282.7" cy="1555.0" r="8.1"/>
<circle class="b" cx="1265.8" cy="1564.3" r="8.1"/>
<circle class="b" cx="1284.0" cy="1553.5" r="8.1"/>
<circle class="b" cx="1266.8" cy="1563.1" r="8.1"/>
<circle class="b" cx="1282.8" cy="1551.7" r="8.1"/>
<circle class="b" cx="1266.1" cy="1548.5" r="8.1"/>
<circle class="b" cx="1268.4" cy="1550.8" r="8.1"/>
<circle class="b" cx="1264.8" cy="1556.5" r="8.1"/>
<circle class="b" cx="1285.9" cy="1551.5" r="8.1"/>
<circle class="b" cx="1272.9" cy="1556.9" r="8.1"/>
<circle class="b" cx="1286.1" cy="1553.5" r="8.1"/>
<circle class="b" cx="1273.4" cy="1559.2" r="8.1"/>
<circle class="b" cx="1279.6" cy="1549.9" r="8.1"/>
<circle class="b" cx="1284.0" cy="1554.4" r="8.1"/>
<circle class="b" cx="1275.7" cy="1549.9" r="8.1"/>
<circle class="b" cx="1276.7" cy="1561.6" r="8.1"/>
<circle class="b" cx="1285.9" cy="1564.4" r="8.1"/>
<circle class="b" cx="1263.3" cy="1560.6" r="8.1"/>
<circle class="b" cx="1273.9" cy="1564.0" r="8.1"/>
<circle class="b" cx="1269.1" cy="1554.9" r="8.1"/>
<circle class="b" cx="1266.4" cy="1546.3" r="8.1"/>
<circle class="b" cx="1267.6" cy="1551.4" r="8.1"/>
<circle class="b" cx="1264.7" cy="1561.9" r="8.1"/>
<circle class="b" cx="1276.0" cy="1552.6" r="8.1"/>
<circle class="b" cx="1280.9" cy="1549.8" r="8.1"/>
<circle class="b" cx="1272.9" cy="1545.5" r="8.1"/>
<circle class="b" cx="1262.8" cy="1550.6" r="8.1"/>
<circle class="b" cx="1274.7" cy="1559.9" r="8.1"/>
<circle class="b" cx="1269.6" cy="1557.1" r="8.1"/>
<circle class="b" cx="1263.8" cy="1554.9" r="8.1"/>
<circle class="b" cx="1273.5" cy="1546.6" r="8.1"/>
<circle class="b" cx="1267.8" cy="1560.4" r="8.1"/>
<circle class="b" cx="1274.0" cy="1557.5" r="8.1"/>
<circle class="b" cx="1266.9" cy="1555.4" r="8.1"/>
<circle class="b" cx="1270.0" cy="1558.3" r="8.1"/>
<circle class="b" cx="1281.0" cy="1556.2" r="8.1"/>
<circle class="b" cx="1281.0" cy="1559.0" r="8.1"/>
<circle class="b" cx="1276.4" cy="1561.7" r="8.1"/>
<circle class="b" cx="1282.9" cy="1551.3" r="8.1"/>
<circle class="b" cx="1281.8" cy="1557.4" r="8.1"/>
<circle class="b" cx="1277.5" cy="1548.3" r="8.1"/>
<circle class="b" cx="1282.3" cy="1558.8" r="8.1"/>
<circle class="b" cx="1281.5" cy="1561.0" r="8.1"/>
<circle class="b" cx="1284.5" cy="1558.1" r="8.1"/>
<circle class="b" cx="1265.5" cy="1560.6" r="8.1"/>
<circle class="b" cx="1268.3" cy="1564.6" r="8.1"/>
<circle class="b" cx="1269.0" cy="1551.9" r="8.1"/>
<circle class="b" cx="1276.6" cy="1562.2" r="8.1"/>
<circle class="b" cx="408.0" cy="1556.3" r="8.1"/>
<circle class="b" cx="402.2" cy="1557.3" r="8.1"/>
<circle class="b" cx="410.4" cy="1562.0" r="8.1"/>
<circle class="b" cx="403.1" cy="1560.1" r="8.1"/>
<circle class="b" cx="401.5" cy="1556.2" r="8.1"/>
<circle class="b" cx="411.9" cy="1559.4" r="8.1"/>
<circle class="b" cx="409.5" cy="1560.9" r="8.1"/>
<circle class="b" cx="395.1" cy="1559.9" r="8.1"/>
<circle class="b" cx="411.1" cy="1563.7" r="8.1"/>
<circle class="b" cx="393.1" cy="1559.4" r="8.1"/>
<circle class="b" cx="403.1" cy="1560.6" r="8.1"/>
<circle class="b" cx="405.6" cy="1563.0" r="8.1"/>
<circle class="b" cx="405.0" cy="1560.6" r="8.1"/>
<circle class="b" cx="392.0" cy="1559.4" r="8.1"/>
<circle class="b" cx="414.1" cy="1556.6" r="8.1"/>
<circle class="b" cx="398.1" cy="1563.6" r="8.1"/>
<circle class="b" cx="403.7" cy="1564.0" r="8.1"/>
<circle class="b" cx="412.0" cy="1556.9" r="8.1"/>
<circle class="b" cx="413.9" cy="1561.3" r="8.1"/>
<circle class="b" cx="393.1" cy="1562.1" r="8.1"/>
<circle class="b" cx="410.3" cy="1561.6" r="8.1"/>
<circle class="b" cx="399.0" cy="1564.1" r="8.1"/>
<circle class="b" cx="408.2" cy="1560.8" r="8.1"/>
<circle class="b" cx="411.8" cy="1557.5" r="8.1"/>
<circle class="b" cx="392.0" cy="1563.0" r="8.1"/>
<circle class="b" cx="399.9" cy="1561.3" r="8.1"/>
<circle class="b" cx="405.8" cy="1557.7" r="8.1"/>
<circle class="b" cx="404.5" cy="1564.7" r="8.1"/>
<circle class="b" cx="403.0" cy="1557.0" r="8.1"/>
<circle class="b" cx="414.5" cy="1563.0" r="8.1"/>
<circle class="b" cx="391.8" cy="1562.4" r="8.1"/>
<circle class="b" cx="405.7" cy="1564.7" r="8.1"/>
<circle class="b" cx="393.9" cy="1556.8" r="8.1"/>
<circle class="b" cx="407.3" cy="1556.8" r="8.1"/>
<circle class="b" cx="410.8" cy="1557.4" r="8.1"/>
<circle class="b" cx="404.0" cy="1557.0" r="8.1"/>
<circle class="b" cx="391.7" cy="1560.0" r="8.1"/>
<circle class="b" cx="413.2" cy="1556.0" r="8.1"/>
<circle class="b" cx="393.9" cy="1564.8" r="8.1"/>
<circle class="b" cx="415.3" cy="1562.6" r="8.1"/>
<circle class="b" cx="412.7" cy="1564.1" r="8.1"/>
<circle class="b" cx="408.6" cy="1559.0" r="8.1"/>
<circle class="b" cx="414.0" cy="1560.5" r="8.1"/>
<circle class="b" cx="411.7" cy="1562.3" r="8.1"/>
<circle class="b" cx="400.3" cy="1563.7" r="8.1"/>
<circle class="b" cx="393.1" cy="1562.4" r="8.1"/>
<circle class="b" cx="414.0" cy="1557.9" r="8.1"/>
<circle class="b" cx="407.8" cy="1559.6" r="8.1"/>
<circle class="b" cx="397.2" cy="1561.2" r="8.1"/>
<circle class="b" cx="413.4" cy="1561.3" r="8.1"/>
<circle class="b" cx="399.4" cy="1558.9" r="8.1"/>
<circle class="b" cx="395.2" cy="1557.7" r="8.1"/>
<circle class="b" cx="408.3" cy="1563.4" r="8.1"/>
<circle class="b" cx="407.4" cy="1564.7" r="8.1"/>
<circle class="b" cx="396.3" cy="1564.6" r="8.1"/>
<circle class="b" cx="462.9" cy="1564.0" r="8.1"/>
<circle class="b" cx="474.3" cy="1561.3" r="8.1"/>
<circle class="b" cx="465.7" cy="1558.1" r="8.1"/>
<circle class="b" cx="476.5" cy="1561.3" r="8.1"/>
<circle class="b" cx="454.7" cy="1556.3" r="8.1"/>
<circle class="b" cx="473.4" cy="1558.9" r="8.1"/>
<circle class="b" cx="456.3" cy="1563.6" r="8.1"/>
<circle class="b" cx="466.0" cy="1564.3" r="8.1"/>
<circle class="b" cx="476.1" cy="1564.7" r="8.1"/>
<circle class="b" cx="477.1" cy="1556.8" r="8.1"/>
<circle class="b" cx="456.8" cy="1560.3" r="8.1"/>
<circle class="b" cx="454.8" cy="1560.2" r="8.1"/>
<circle class="b" cx="466.5" cy="1562.7" r="8.1"/>
<circle class="b" cx="458.6" cy="1557.0" r="8.1"/>
</g>
<g stroke="#333" stroke-width="4.45" fill="none">
<path d="M167.7 1564.6H179.2"/>
<path d="M167.7 1231.3H179.2"/>
<path d="M167.7 898.0H179.2"/>
<path d="M167.7 564.7H179.2"/>
<path d="M167.7 231.4H179.2"/>
<path d="M216.6 1634.3V1645.8"/>
<path d="M278.8 1634.3V1645.8"/>
<path d="M341.0 1634.3V1645.8"/>
<path d="M403.2 1634.3V1645.8"/>
<path d="M465.4 1634.3V1645.8"/>
<path d="M527.5 1634.3V1645.8"/>
<path d="M589.7 1634.3V1645.8"/>
<path d="M651.9 1634.3V1645.8"/>
<path d="M714.1 1634.3V1645.8"/>
<path d="M776.3 1634.3V1645.8"/>
<path d="M838.5 1634.3V1645.8"/>
<path d="M900.7 1634.3V1645.8"/>
<path d="M962.9 1634.3V1645.8"/>
<path d="M1025.1 1634.3V1645.8"/>
<path d="M1087.3 1634.3V1645.8"/>
<path d="M1149.4 1634.3V1645.8"/>
<path d="M1211.6 1634.3V1645.8"/>
<path d="M1273.8 1634.3V1645.8"/>
<path d="M1336.0 1634.3V1645.8"/>
<path d="M1398.2 1634.3V1645.8"/>
<path d="M1460.4 1634.3V1645.8"/>
<path d="M1522.6 1634.3V1645.8"/>
<path d="M1584.8 1634.3V1645.8"/>
<path d="M1647.0 1634.3V1645.8"/>
</g>
<g font-size="36.67" fill="#4D4D4D" text-anchor="end">
<text x="158.7" y="1577.7">0</text>
<text x="158.7" y="1244.4">500</text>
<text x="158.7" y="911.1">1000</text>
<text x="158.7" y="577.8">1500</text>
<text x="158.7" y="244.5">2000</text>
</g>
<g font-size="36.67" fill="#4D4D4D" text-anchor="end">
<text transform="translate(229.7,1654.8) rotate(-90)">Astrocyte</text>
<text transform="translate(291.9,1654.8) rotate(-90)">B_cell</text>
<text transform="translate(354.1,1654.8) rotate(-90)">BM</text>
<text transform="translate(416.3,1654.8) rotate(-90)">Chondrocytes</text>
<text transform="translate(478.5,1654.8) rotate(-90)">CMP</text>
<text transform="translate(540.6,1654.8) rotate(-90)">DC</text>
<text transform="translate(602.8,1654.8) rotate(-90)">Embryonic_stem_cells</text>
<text transform="translate(665.0,1654.8) rotate(-90)">Endothelial_cells</text>
<text transform="translate(727.2,1654.8) rotate(-90)">Epithelial_cells</text>
<text transform="translate(789.4,1654.8) rotate(-90)">Erythroblast</text>
<text transform="translate(851.6,1654.8) rotate(-90)">Fibroblasts</text>
<text transform="translate(913.8,1654.8) rotate(-90)">Gametocytes</text>
<text transform="translate(976.0,1654.8) rotate(-90)">Hepatocytes</text>
<text transform="translate(1038.2,1654.8) rotate(-90)">HSC_CD34+</text>
<text transform="translate(1100.4,1654.8) rotate(-90)">Keratinocytes</text>
<text transform="translate(1162.5,1654.8) rotate(-90)">Macrophage</text>
<text transform="translate(1224.7,1654.8) rotate(-90)">MSC</text>
<text transform="translate(1286.9,1654.8) rotate(-90)">Neuroepithelial_cell</text>
<text transform="translate(1349.1,1654.8) rotate(-90)">Neurons</text>
<text transform="translate(1411.3,1654.8) rotate(-90)">Neutrophils</text>
<text transform="translate(1473.5,1654.8) rotate(-90)">Osteoblasts</text>
<text transform="translate(1535.7,1654.8) rotate(-90)">Platelets</text>
<text transform="translate(1597.9,1654.8) rotate(-90)">Pro-B_cell_CD34+</text>
<text transform="translate(1660.1,1654.8) rotate(-90)">Smooth_muscle_cells</text>
</g>
<text x="179.2" y="62.5" font-size="55" fill="#000" textLength="967.7" lengthAdjust="spacingAndGlyphs">Split0 3. Peripheral Nervous System I_1</text>
<text x="931.6" y="2066" font-size="45.83" fill="#000" text-anchor="middle">SingleR Annotation</text>
<text transform="translate(56,865.9) rotate(-90)" font-size="45.83" fill="#000" text-anchor="middle">Activity Score</text>
<text x="1753.1" y="763" font-size="45.83" fill="#000">SampleNames</text>
<rect x="1753.1" y="790.9" width="72" height="216" fill="#F2F2F2"/>
<g id="pts2">
<circle class="r" cx="1789.1" cy="826.9" r="8.1" fill-opacity=".5" stroke-opacity=".5" stroke-width="2.95"/>
<text x="1848" y="840.0" font-size="36.67" fill="#000">X70</text>
<circle class="g" cx="1789.1" cy="898.9" r="8.1" fill-opacity=".5" stroke-opacity=".5" stroke-width="2.95"/>
<text x="1848" y="912.0" font-size="36.67" fill="#000">X71</text>
<circle class="b" cx="1789.1" cy="970.9" r="8.1" fill-opacity=".5" stroke-opacity=".5" stroke-width="2.95"/>
<text x="1848" y="984.0" font-size="36.67" fill="#000">X72</text>
</g>
</svg></body></html>
